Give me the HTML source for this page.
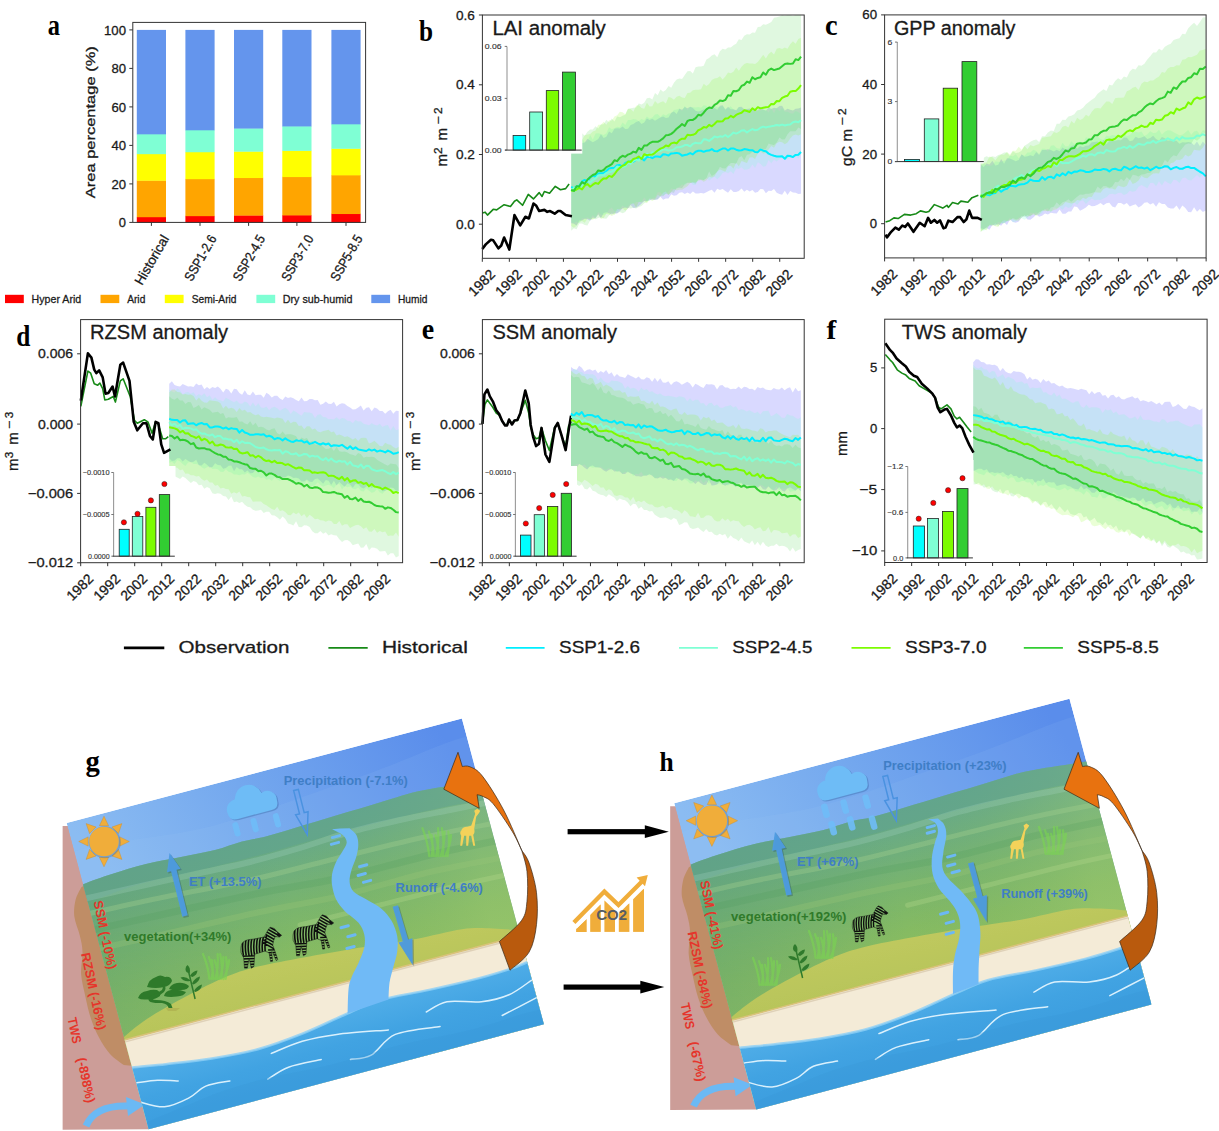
<!DOCTYPE html>
<html><head><meta charset="utf-8"><style>html,body{margin:0;padding:0;background:#fff;overflow:hidden}svg{display:block}</style></head>
<body><svg width="1219" height="1131" viewBox="0 0 1219 1131"><defs><clipPath id="zclip"><path d="M0.85,16.6 C4,13 8,12.6 12,12.4 L23,10.2 L27,3 L29,0.4 L33.3,1.7 L36,5 L40.5,8.5 L38.4,10.2 L34.1,9.8 L32.5,14 L31.6,18.3 L33,22 L36.7,32.8 L35,33.6 L31.5,25.5 L30.5,25 L31.5,34.5 L29.5,34.8 L28,26 L23.9,24.3 L13.6,27.4 L12.8,39.7 L10.2,41.4 L8,31.5 L6.2,41.4 L3.4,41.4 L2.6,31.1 L0,26 C-0.5,22 0,19 0.85,16.6 Z"/></clipPath>

<linearGradient id="skyG" gradientUnits="userSpaceOnUse" x1="120" y1="900" x2="420" y2="700">
  <stop offset="0" stop-color="#8bbcf2"/><stop offset="0.45" stop-color="#74a8ee"/><stop offset="1" stop-color="#5a8deb"/></linearGradient>
<linearGradient id="landG" gradientUnits="userSpaceOnUse" x1="250" y1="800" x2="302" y2="995">
  <stop offset="0" stop-color="#62a78f"/><stop offset="0.3" stop-color="#6aab84"/><stop offset="0.55" stop-color="#78b46e"/><stop offset="0.8" stop-color="#86bb62"/><stop offset="1" stop-color="#8fbf60"/></linearGradient>
<linearGradient id="landG2" gradientUnits="userSpaceOnUse" x1="100" y1="900" x2="480" y2="850">
  <stop offset="0" stop-color="#5f9f70" stop-opacity="0.35"/><stop offset="0.5" stop-color="#5f9f70" stop-opacity="0"/><stop offset="1" stop-color="#a8d080" stop-opacity="0.25"/></linearGradient>
<linearGradient id="yelG" gradientUnits="userSpaceOnUse" x1="200" y1="960" x2="215" y2="1030">
  <stop offset="0" stop-color="#c2ca60"/><stop offset="1" stop-color="#b6c45a"/></linearGradient>
<linearGradient id="waterG" gradientUnits="userSpaceOnUse" x1="330" y1="1000" x2="360" y2="1110">
  <stop offset="0" stop-color="#55b1ea"/><stop offset="0.4" stop-color="#41a3e2"/><stop offset="1" stop-color="#3697db"/></linearGradient>
<pattern id="zstripe" patternUnits="userSpaceOnUse" width="3" height="3" patternTransform="rotate(12)"><rect width="1.7" height="3" fill="#0d0d0d"/></pattern>
<clipPath id="picClip"><polygon points="66.6,823.1 461.9,718.5 543.9,1024.3 148.6,1129.3"/></clipPath>

<g id="bgPic" clip-path="url(#picClip)">
<polygon points="66.6,823.1 461.9,718.5 543.9,1024.3 148.6,1129.3" fill="url(#skyG)"/>
<path d="M74.3,852.1 C95.6,841.3 163.8,838.7 212.2,825.9 C260.5,813.1 320.0,790.4 364.3,775.2 C408.5,760.0 457.1,735.1 477.7,734.8 C498.3,734.5 505.1,760.3 487.9,773.5 C470.8,786.6 419.0,799.5 374.5,813.9 C330.1,828.3 269.5,846.9 221.1,859.7 C172.8,872.5 109.0,892.0 84.5,890.8 C60.1,889.5 53.0,862.9 74.3,852.1Z" fill="#a8d0f6" opacity="0.10"/>
<path d="M76.0,890.0 C77.3,889.0 78.0,886.7 84.0,884.0 C90.0,881.3 101.7,877.3 112.0,874.0 C122.3,870.7 134.5,866.8 146.0,864.0 C157.5,861.2 169.5,859.3 181.0,857.0 C192.5,854.7 204.8,852.6 215.0,850.0 C225.2,847.4 233.8,843.7 242.0,841.5 C250.2,839.3 256.8,838.8 264.0,837.0 C271.2,835.2 278.0,833.1 285.0,831.0 C292.0,828.9 299.0,826.7 306.0,824.6 C313.0,822.5 319.9,820.3 327.0,818.2 C334.1,816.1 341.3,813.9 348.5,811.8 C355.7,809.7 362.9,807.6 370.0,805.5 C377.1,803.4 384.0,801.2 391.0,799.1 C398.0,797.0 405.0,794.5 412.0,792.7 C419.0,790.9 425.7,789.8 433.0,788.5 C440.3,787.2 448.2,786.2 456.0,785.0 C463.8,783.8 473.5,782.2 480.0,781.0 C486.5,779.8 492.5,778.5 495.0,778.0 L600,786 L600,1200 L50,1200 Z" fill="url(#landG)"/>
<path d="M76.0,890.0 C77.3,889.0 78.0,886.7 84.0,884.0 C90.0,881.3 101.7,877.3 112.0,874.0 C122.3,870.7 134.5,866.8 146.0,864.0 C157.5,861.2 169.5,859.3 181.0,857.0 C192.5,854.7 204.8,852.6 215.0,850.0 C225.2,847.4 233.8,843.7 242.0,841.5 C250.2,839.3 256.8,838.8 264.0,837.0 C271.2,835.2 278.0,833.1 285.0,831.0 C292.0,828.9 299.0,826.7 306.0,824.6 C313.0,822.5 319.9,820.3 327.0,818.2 C334.1,816.1 341.3,813.9 348.5,811.8 C355.7,809.7 362.9,807.6 370.0,805.5 C377.1,803.4 384.0,801.2 391.0,799.1 C398.0,797.0 405.0,794.5 412.0,792.7 C419.0,790.9 425.7,789.8 433.0,788.5 C440.3,787.2 448.2,786.2 456.0,785.0 C463.8,783.8 473.5,782.2 480.0,781.0 C486.5,779.8 492.5,778.5 495.0,778.0 L600,786 L600,1200 L50,1200 Z" fill="url(#landG2)"/>
<path d="M76.0,890.0 C77.3,886.5 78.0,886.7 84.0,884.0 C90.0,881.3 101.7,877.3 112.0,874.0 C122.3,870.7 134.5,866.8 146.0,864.0 C157.5,861.2 169.5,859.3 181.0,857.0 C192.5,854.7 204.8,852.6 215.0,850.0 C225.2,847.4 233.8,843.7 242.0,841.5 C250.2,839.3 256.8,838.8 264.0,837.0 C271.2,835.2 278.0,833.1 285.0,831.0 C292.0,828.9 299.0,826.7 306.0,824.6 C313.0,822.5 319.9,820.3 327.0,818.2 C334.1,816.1 341.3,813.9 348.5,811.8 C355.7,809.7 362.9,807.6 370.0,805.5 C377.1,803.4 384.0,801.2 391.0,799.1 C398.0,797.0 405.0,794.5 412.0,792.7 C419.0,790.9 425.7,789.8 433.0,788.5 C440.3,787.2 448.2,786.2 456.0,785.0 C463.8,783.8 473.5,782.2 480.0,781.0 C486.5,779.8 492.5,775.5 495.0,778.0 C497.5,780.5 504.2,791.0 495.0,796.0 C485.8,801.0 459.2,803.7 440.0,808.0 C420.8,812.3 400.0,817.0 380.0,822.0 C360.0,827.0 340.0,832.5 320.0,838.0 C300.0,843.5 280.0,849.7 260.0,855.0 C240.0,860.3 220.0,865.2 200.0,870.0 C180.0,874.8 160.7,878.2 140.0,884.0 C119.3,889.8 86.7,904.0 76.0,905.0 C65.3,906.0 74.7,893.5 76.0,890.0Z" fill="#5d9f93" opacity="0.45"/>
<path d="M70.0,902.0 C76.7,900.5 96.7,896.0 110.0,893.0 C123.3,890.0 135.0,887.3 150.0,884.0 C165.0,880.7 183.3,876.7 200.0,873.0 C216.7,869.3 233.3,866.2 250.0,862.0 C266.7,857.8 283.3,853.0 300.0,848.0 C316.7,843.0 333.3,836.7 350.0,832.0 C366.7,827.3 383.3,823.7 400.0,820.0 C416.7,816.3 433.3,813.3 450.0,810.0 C466.7,806.7 491.7,801.7 500.0,800.0" fill="none" stroke="#b8e0d0" stroke-width="6" opacity="0.22" stroke-linecap="round"/>
<path d="M70.0,918.0 C83.3,915.0 120.0,906.3 150.0,900.0 C180.0,893.7 220.0,886.7 250.0,880.0 C280.0,873.3 301.7,867.0 330.0,860.0 C358.3,853.0 391.7,844.3 420.0,838.0 C448.3,831.7 486.7,824.7 500.0,822.0" fill="none" stroke="#a6d08e" stroke-width="5" opacity="0.35" stroke-linecap="round"/>
<path d="M70.0,955.0 C85.0,951.7 128.3,942.2 160.0,935.0 C191.7,927.8 230.0,918.5 260.0,912.0 C290.0,905.5 311.7,902.7 340.0,896.0 C368.3,889.3 403.3,878.3 430.0,872.0 C456.7,865.7 488.3,860.3 500.0,858.0" fill="none" stroke="#9cc878" stroke-width="6" opacity="0.30" stroke-linecap="round"/>
<path d="M300.0,925.0 C313.3,921.7 353.3,911.7 380.0,905.0 C406.7,898.3 436.7,890.5 460.0,885.0 C483.3,879.5 510.0,874.2 520.0,872.0" fill="none" stroke="#b2d88a" stroke-width="5" opacity="0.35" stroke-linecap="round"/>
<path d="M70.0,935.0 C85.0,931.7 128.3,922.0 160.0,915.0 C191.7,908.0 230.0,899.2 260.0,893.0 C290.0,886.8 311.7,884.3 340.0,878.0 C368.3,871.7 401.7,861.7 430.0,855.0 C458.3,848.3 496.7,840.8 510.0,838.0" fill="none" stroke="#4f9a5a" stroke-width="7" opacity="0.22" stroke-linecap="round"/>
<path d="M118.0,1042.0 C122.2,1038.6 133.1,1028.5 143.0,1021.7 C152.9,1014.9 164.0,1008.3 177.4,1001.0 C190.8,993.7 210.0,983.7 223.4,978.0 C236.8,972.3 244.4,970.0 257.8,966.6 C271.2,963.2 288.4,960.3 303.7,957.4 C319.0,954.5 336.5,951.6 349.7,949.4 C362.9,947.2 371.9,945.7 383.0,944.0 C394.1,942.3 402.8,941.5 416.0,939.0 C429.2,936.5 449.2,931.0 462.0,929.2 C474.8,927.4 482.5,928.1 493.0,928.4 C503.5,928.7 519.7,930.6 525.0,931.0 L540,931 L540,1060 L100,1060 Z" fill="url(#yelG)"/>
<polygon points="100.0,1046.4 560.0,925.2 600.0,1200.0 50.0,1200.0" fill="#f4ebd7"/>
<line x1="100" y1="1046.4" x2="560" y2="925.2" stroke="#d9c27a" stroke-width="1.6"/>
<line x1="100" y1="1048.4" x2="560" y2="927.2" stroke="#c9b89a" stroke-width="1.5" opacity="0.5"/>
<path d="M110.0,1071.0 C113.6,1070.5 122.2,1068.8 131.5,1067.7 C140.8,1066.6 152.5,1065.7 165.9,1064.2 C179.3,1062.7 196.6,1061.0 211.9,1058.5 C227.2,1056.0 242.5,1053.5 257.8,1049.3 C273.1,1045.1 288.4,1039.3 303.7,1033.2 C319.0,1027.1 337.0,1018.0 349.7,1012.5 C362.4,1007.0 366.8,1003.8 380.0,1000.0 C393.2,996.2 412.8,993.5 429.2,989.9 C445.6,986.3 464.7,981.9 478.4,978.4 C492.1,974.9 503.1,971.3 511.3,968.6 C519.5,965.9 519.6,965.1 527.7,962.0 C535.8,958.9 554.6,952.0 560.0,950.0 L600,950 L600,1200 L50,1200 Z" fill="url(#waterG)"/>
<path d="M110.0,1071.0 C113.6,1070.5 122.2,1068.8 131.5,1067.7 C140.8,1066.6 152.5,1065.7 165.9,1064.2 C179.3,1062.7 196.6,1061.0 211.9,1058.5 C227.2,1056.0 242.5,1053.5 257.8,1049.3 C273.1,1045.1 288.4,1039.3 303.7,1033.2 C319.0,1027.1 337.0,1018.0 349.7,1012.5 C362.4,1007.0 366.8,1003.8 380.0,1000.0 C393.2,996.2 412.8,993.5 429.2,989.9 C445.6,986.3 464.7,981.9 478.4,978.4 C492.1,974.9 503.1,971.3 511.3,968.6 C519.5,965.9 519.6,965.1 527.7,962.0 C535.8,958.9 554.6,952.0 560.0,950.0" fill="none" stroke="#8dd0f6" stroke-width="2.5" opacity="0.8"/>
<path d="M138.6,1101.6 C142.9,1102.5 156.2,1107.4 164.5,1106.8 C172.8,1106.2 181.7,1101.7 188.6,1098.2 C195.5,1094.8 198.9,1089.0 205.8,1086.1 C212.7,1083.2 225.9,1081.8 229.9,1080.9" fill="none" stroke="#eaf8ff" stroke-width="1.5" opacity="0.9" stroke-linecap="round"/>
<path d="M136.9,1082.7 C140.3,1082.3 150.7,1080.6 157.6,1080.3 C164.5,1080.0 174.8,1080.8 178.2,1080.9" fill="none" stroke="#eaf8ff" stroke-width="1.5" opacity="0.9" stroke-linecap="round"/>
<path d="M267.8,1079.2 C271.2,1077.2 279.6,1070.5 288.5,1067.2 C297.4,1063.9 315.8,1060.9 321.2,1059.6" fill="none" stroke="#eaf8ff" stroke-width="1.5" opacity="0.9" stroke-linecap="round"/>
<path d="M271.3,1053.4 C276.5,1051.4 291.4,1044.5 302.3,1041.3 C313.2,1038.1 322.5,1036.3 336.8,1034.4 C351.1,1032.5 379.8,1030.7 388.4,1029.9" fill="none" stroke="#eaf8ff" stroke-width="1.5" opacity="0.9" stroke-linecap="round"/>
<path d="M350.5,1059.6 C353.9,1058.8 363.7,1059.3 371.2,1055.1 C378.7,1050.9 383.8,1039.2 395.3,1034.4 C406.8,1029.6 432.6,1027.8 440.1,1026.5" fill="none" stroke="#eaf8ff" stroke-width="1.5" opacity="0.9" stroke-linecap="round"/>
<path d="M426.3,1012.0 C429.8,1010.3 437.8,1003.4 447.0,1001.7 C456.2,1000.0 471.2,1002.9 481.5,1001.7 C491.8,1000.6 500.7,998.4 509.0,994.8 C517.3,991.2 527.7,982.7 531.4,980.3" fill="none" stroke="#eaf8ff" stroke-width="1.5" opacity="0.9" stroke-linecap="round"/>
<path d="M502.2,1015.5 C507.9,1012.5 530.9,1000.6 536.6,997.6" fill="none" stroke="#eaf8ff" stroke-width="1.5" opacity="0.9" stroke-linecap="round"/>
<path d="M200.0,1100.0 C218.3,1091.8 238.3,1085.8 260.0,1080.0 C281.7,1074.2 306.7,1070.8 330.0,1065.0 C353.3,1059.2 376.7,1050.8 400.0,1045.0 C423.3,1039.2 446.7,1035.8 470.0,1030.0 C493.3,1024.2 527.5,1011.0 540.0,1010.0 C552.5,1009.0 610.0,1004.2 545.0,1024.0 C480.0,1043.8 207.5,1116.3 150.0,1129.0 C92.5,1141.7 181.7,1108.2 200.0,1100.0Z" fill="#3a98d8" opacity="0.35"/>
</g></defs>
<rect width="1219" height="1131" fill="#fff"/>
<rect x="136.8" y="216.91" width="29.2" height="5.79" fill="#ff0000" />
<rect x="136.8" y="180.44" width="29.2" height="36.78" fill="#ffa500" />
<rect x="136.8" y="153.87" width="29.2" height="26.86" fill="#ffff00" />
<rect x="136.8" y="134.04" width="29.2" height="20.13" fill="#7fffd4" />
<rect x="136.8" y="29.9" width="29.2" height="104.44" fill="#6495ed" />
<rect x="185.4" y="215.86" width="29.2" height="6.84" fill="#ff0000" />
<rect x="185.4" y="178.9" width="29.2" height="37.26" fill="#ffa500" />
<rect x="185.4" y="151.94" width="29.2" height="27.25" fill="#ffff00" />
<rect x="185.4" y="130" width="29.2" height="22.24" fill="#7fffd4" />
<rect x="185.4" y="29.9" width="29.2" height="100.4" fill="#6495ed" />
<rect x="234" y="215.28" width="29.2" height="7.42" fill="#ff0000" />
<rect x="234" y="177.74" width="29.2" height="37.84" fill="#ffa500" />
<rect x="234" y="151.37" width="29.2" height="26.67" fill="#ffff00" />
<rect x="234" y="128.27" width="29.2" height="23.4" fill="#7fffd4" />
<rect x="234" y="29.9" width="29.2" height="98.67" fill="#6495ed" />
<rect x="282.3" y="215.09" width="29.2" height="7.61" fill="#ff0000" />
<rect x="282.3" y="176.78" width="29.2" height="38.61" fill="#ffa500" />
<rect x="282.3" y="150.6" width="29.2" height="26.48" fill="#ffff00" />
<rect x="282.3" y="126.15" width="29.2" height="24.75" fill="#7fffd4" />
<rect x="282.3" y="29.9" width="29.2" height="96.55" fill="#6495ed" />
<rect x="331.4" y="213.74" width="29.2" height="8.96" fill="#ff0000" />
<rect x="331.4" y="175.05" width="29.2" height="38.99" fill="#ffa500" />
<rect x="331.4" y="148.48" width="29.2" height="26.86" fill="#ffff00" />
<rect x="331.4" y="124.03" width="29.2" height="24.75" fill="#7fffd4" />
<rect x="331.4" y="29.9" width="29.2" height="94.43" fill="#6495ed" />
<rect x="132.8" y="22.4" width="232.8" height="200.0" fill="none" stroke="#333" stroke-width="1"/>
<line x1="129.3" y1="222.4" x2="132.8" y2="222.4" stroke="#333" stroke-width="1"/>
<text x="126" y="227" font-family="Liberation Sans, sans-serif" font-size="13" fill="#1a1a1a" stroke="#1a1a1a" stroke-width="0.3" text-anchor="end" textLength="7.2" lengthAdjust="spacingAndGlyphs">0</text>
<line x1="129.3" y1="183.9" x2="132.8" y2="183.9" stroke="#333" stroke-width="1"/>
<text x="126" y="188.5" font-family="Liberation Sans, sans-serif" font-size="13" fill="#1a1a1a" stroke="#1a1a1a" stroke-width="0.3" text-anchor="end" textLength="14.6" lengthAdjust="spacingAndGlyphs">20</text>
<line x1="129.3" y1="145.4" x2="132.8" y2="145.4" stroke="#333" stroke-width="1"/>
<text x="126" y="150" font-family="Liberation Sans, sans-serif" font-size="13" fill="#1a1a1a" stroke="#1a1a1a" stroke-width="0.3" text-anchor="end" textLength="14.6" lengthAdjust="spacingAndGlyphs">40</text>
<line x1="129.3" y1="106.9" x2="132.8" y2="106.9" stroke="#333" stroke-width="1"/>
<text x="126" y="111.5" font-family="Liberation Sans, sans-serif" font-size="13" fill="#1a1a1a" stroke="#1a1a1a" stroke-width="0.3" text-anchor="end" textLength="14.6" lengthAdjust="spacingAndGlyphs">60</text>
<line x1="129.3" y1="68.4" x2="132.8" y2="68.4" stroke="#333" stroke-width="1"/>
<text x="126" y="73" font-family="Liberation Sans, sans-serif" font-size="13" fill="#1a1a1a" stroke="#1a1a1a" stroke-width="0.3" text-anchor="end" textLength="14.6" lengthAdjust="spacingAndGlyphs">80</text>
<line x1="129.3" y1="29.9" x2="132.8" y2="29.9" stroke="#333" stroke-width="1"/>
<text x="126" y="34.5" font-family="Liberation Sans, sans-serif" font-size="13" fill="#1a1a1a" stroke="#1a1a1a" stroke-width="0.3" text-anchor="end" textLength="22" lengthAdjust="spacingAndGlyphs">100</text>
<line x1="151.4" y1="222.4" x2="151.4" y2="225.9" stroke="#333" stroke-width="1"/>
<line x1="200" y1="222.4" x2="200" y2="225.9" stroke="#333" stroke-width="1"/>
<line x1="248.6" y1="222.4" x2="248.6" y2="225.9" stroke="#333" stroke-width="1"/>
<line x1="296.9" y1="222.4" x2="296.9" y2="225.9" stroke="#333" stroke-width="1"/>
<line x1="346" y1="222.4" x2="346" y2="225.9" stroke="#333" stroke-width="1"/>
<text x="169.55" y="238.4" font-family="Liberation Sans, sans-serif" font-size="13.5" fill="#1a1a1a" stroke="#1a1a1a" stroke-width="0.3" text-anchor="end" textLength="55" lengthAdjust="spacingAndGlyphs" transform="rotate(-60 169.55 238.4)">Historical</text>
<text x="217.03" y="238.4" font-family="Liberation Sans, sans-serif" font-size="13.5" fill="#1a1a1a" stroke="#1a1a1a" stroke-width="0.3" text-anchor="end" textLength="50.5" lengthAdjust="spacingAndGlyphs" transform="rotate(-60 217.03 238.4)">SSP1-2.6</text>
<text x="265.62" y="238.4" font-family="Liberation Sans, sans-serif" font-size="13.5" fill="#1a1a1a" stroke="#1a1a1a" stroke-width="0.3" text-anchor="end" textLength="50.5" lengthAdjust="spacingAndGlyphs" transform="rotate(-60 265.62 238.4)">SSP2-4.5</text>
<text x="313.93" y="238.4" font-family="Liberation Sans, sans-serif" font-size="13.5" fill="#1a1a1a" stroke="#1a1a1a" stroke-width="0.3" text-anchor="end" textLength="50.5" lengthAdjust="spacingAndGlyphs" transform="rotate(-60 313.93 238.4)">SSP3-7.0</text>
<text x="363.03" y="238.4" font-family="Liberation Sans, sans-serif" font-size="13.5" fill="#1a1a1a" stroke="#1a1a1a" stroke-width="0.3" text-anchor="end" textLength="50.5" lengthAdjust="spacingAndGlyphs" transform="rotate(-60 363.03 238.4)">SSP5-8.5</text>
<text x="95.5" y="198.2" font-family="Liberation Sans, sans-serif" font-size="13.5" fill="#1a1a1a" stroke="#1a1a1a" stroke-width="0.3" textLength="152" lengthAdjust="spacingAndGlyphs" transform="rotate(-90 95.5 198.2)">Area percentage (%)</text>
<rect x="5" y="294.8" width="18.8" height="8.3" fill="#ff0000" />
<text x="31.6" y="303.4" font-family="Liberation Sans, sans-serif" font-size="11.8" fill="#1a1a1a" stroke="#1a1a1a" stroke-width="0.3" textLength="49.6" lengthAdjust="spacingAndGlyphs">Hyper Arid</text>
<rect x="100.5" y="294.8" width="18.8" height="8.3" fill="#ffa500" />
<text x="127.2" y="303.4" font-family="Liberation Sans, sans-serif" font-size="11.8" fill="#1a1a1a" stroke="#1a1a1a" stroke-width="0.3" textLength="18.1" lengthAdjust="spacingAndGlyphs">Arid</text>
<rect x="164.8" y="294.8" width="18.8" height="8.3" fill="#ffff00" />
<text x="191.7" y="303.4" font-family="Liberation Sans, sans-serif" font-size="11.8" fill="#1a1a1a" stroke="#1a1a1a" stroke-width="0.3" textLength="44.8" lengthAdjust="spacingAndGlyphs">Semi-Arid</text>
<rect x="256.4" y="294.8" width="18.8" height="8.3" fill="#7fffd4" />
<text x="282.8" y="303.4" font-family="Liberation Sans, sans-serif" font-size="11.8" fill="#1a1a1a" stroke="#1a1a1a" stroke-width="0.3" textLength="69.6" lengthAdjust="spacingAndGlyphs">Dry sub-humid</text>
<rect x="371.3" y="294.8" width="18.8" height="8.3" fill="#6495ed" />
<text x="398" y="303.4" font-family="Liberation Sans, sans-serif" font-size="11.8" fill="#1a1a1a" stroke="#1a1a1a" stroke-width="0.3" textLength="29.4" lengthAdjust="spacingAndGlyphs">Humid</text>
<polygon points="571.2,145.65 573.9,143.69 576.61,145.35 579.31,145.92 582.02,143.09 584.72,142.48 587.42,138.64 590.13,140.49 592.83,142.21 595.54,140.66 598.24,138.94 600.94,134.21 603.65,137.92 606.35,136.7 609.06,131.54 611.76,133.35 614.46,128.67 617.17,128.25 619.87,128.44 622.58,126.49 625.28,129.1 627.98,128.64 630.69,124.99 633.39,124.02 636.1,121.97 638.8,120.99 641.5,123.95 644.21,122.46 646.91,118.39 649.62,120.12 652.32,118.84 655.02,120.71 657.73,119.12 660.43,117.61 663.14,116.5 665.84,118.07 668.54,117.48 671.25,112.78 673.95,111.38 676.66,113.91 679.36,108.7 682.06,109.7 684.77,107.12 687.47,108.31 690.18,106.72 692.88,107.95 695.58,110.86 698.29,111.46 700.99,110.7 703.7,109.22 706.4,109.46 709.1,107.84 711.81,106.59 714.51,108.11 717.22,109.8 719.92,105.69 722.62,105.34 725.33,109.75 728.03,106.84 730.74,109.16 733.44,109.27 736.14,110.37 738.85,107.08 741.55,106.74 744.26,109.34 746.96,109.07 749.66,108.49 752.37,109.54 755.07,108.63 757.78,110.61 760.48,106.97 763.18,109.49 765.89,110.86 768.59,107.26 771.3,109.02 774,107.64 776.7,108.31 779.41,106.09 782.11,105.85 784.82,110.39 787.52,108.65 790.22,109.76 792.93,110.56 795.63,108.73 798.34,108.52 801.04,107.43 801.04,193.85 798.34,194.01 795.63,192.69 792.93,192.44 790.22,191.07 787.52,194.96 784.82,190.79 782.11,194.81 779.41,194.06 776.7,192.85 774,189.1 771.3,190.94 768.59,190.65 765.89,193.37 763.18,189.15 760.48,188.89 757.78,191.9 755.07,192.68 752.37,190.07 749.66,191.55 746.96,189.72 744.26,191.81 741.55,188.45 738.85,191.07 736.14,191.95 733.44,192.08 730.74,189.31 728.03,192.75 725.33,191.07 722.62,189 719.92,190.11 717.22,188.63 714.51,192.8 711.81,189.81 709.1,190.79 706.4,192.35 703.7,193.57 700.99,193.07 698.29,193.58 695.58,193.49 692.88,191.55 690.18,194.09 687.47,192.39 684.77,193.93 682.06,192.25 679.36,192.83 676.66,195.14 673.95,195.64 671.25,194.28 668.54,198.49 665.84,198.47 663.14,199.63 660.43,196.86 657.73,199.54 655.02,199.76 652.32,199.68 649.62,200.14 646.91,200.95 644.21,200.89 641.5,203.7 638.8,205.89 636.1,207.52 633.39,207.89 630.69,205.11 627.98,208.49 625.28,207.38 622.58,208.14 619.87,211.29 617.17,213.46 614.46,213.09 611.76,214.62 609.06,213.31 606.35,212.31 603.65,212.94 600.94,218.25 598.24,214.36 595.54,218.35 592.83,217.59 590.13,220.63 587.42,219.36 584.72,218.75 582.02,220.59 579.31,220.38 576.61,225.48 573.9,223.79 571.2,223.25" fill="#0000ff" fill-opacity="0.15"/>
<polygon points="571.2,143.48 573.9,145.9 576.61,141.93 579.31,142.45 582.02,138.24 584.72,142.56 587.42,141.35 590.13,135.05 592.83,139.49 595.54,133.47 598.24,133.24 600.94,134.08 603.65,135 606.35,133.35 609.06,127.15 611.76,129.16 614.46,128.24 617.17,126.74 619.87,127.34 622.58,122.59 625.28,125.11 627.98,119.93 630.69,119.89 633.39,119.06 636.1,119.5 638.8,120.95 641.5,119.02 644.21,120.37 646.91,116.49 649.62,118.43 652.32,117.53 655.02,114.56 657.73,113.88 660.43,117.02 663.14,114.18 665.84,115.41 668.54,113.59 671.25,113.22 673.95,109.98 676.66,109.53 679.36,108.51 682.06,111.35 684.77,105.73 687.47,110.28 690.18,107.11 692.88,107.23 695.58,107.56 698.29,107.11 700.99,107.75 703.7,105.26 706.4,105.64 709.1,109.62 711.81,109.14 714.51,105.58 717.22,107.3 719.92,106.91 722.62,106.01 725.33,108.91 728.03,108.36 730.74,106.24 733.44,109.47 736.14,110.95 738.85,106.9 741.55,107.97 744.26,110.25 746.96,109.45 749.66,109.63 752.37,109.45 755.07,112.15 757.78,110.51 760.48,110.6 763.18,109.74 765.89,110.05 768.59,112.6 771.3,108.61 774,113.13 776.7,108 779.41,111.22 782.11,107.93 784.82,111.84 787.52,111.77 790.22,113.21 792.93,113.78 795.63,110.9 798.34,112.35 801.04,113.97 801.04,154.42 798.34,158.81 795.63,156.01 792.93,157.7 790.22,158.05 787.52,159.24 784.82,159.41 782.11,157.91 779.41,159 776.7,161.53 774,159.69 771.3,163.32 768.59,160 765.89,166.09 763.18,166.74 760.48,163.75 757.78,162.21 755.07,167.91 752.37,164.41 749.66,168.39 746.96,169.47 744.26,169.64 741.55,167.34 738.85,168.72 736.14,168.17 733.44,173.93 730.74,171.15 728.03,173.32 725.33,171.9 722.62,173.02 719.92,176.77 717.22,179.22 714.51,176.8 711.81,178.6 709.1,180.45 706.4,177.76 703.7,180.22 700.99,178.97 698.29,179.76 695.58,184.91 692.88,184.74 690.18,181.71 687.47,182.83 684.77,185.72 682.06,184.27 679.36,186.76 676.66,188.89 673.95,189.6 671.25,188.37 668.54,191.55 665.84,193.87 663.14,195.55 660.43,192.27 657.73,192.28 655.02,197.78 652.32,197.97 649.62,200.74 646.91,201.25 644.21,197.28 641.5,201.73 638.8,201.92 636.1,201.88 633.39,203.91 630.69,203.44 627.98,206.15 625.28,207.53 622.58,205.61 619.87,208.93 617.17,211.37 614.46,211.16 611.76,207.46 609.06,209.46 606.35,213.7 603.65,215.01 600.94,214.4 598.24,212 595.54,217.71 592.83,215.06 590.13,218.78 587.42,217.16 584.72,218.47 582.02,218.37 579.31,223.4 576.61,221.67 573.9,222.93 571.2,222.2" fill="#7fffd4" fill-opacity="0.22"/>
<polygon points="571.2,145.18 573.9,140.34 576.61,142.26 579.31,141.5 582.02,139.94 584.72,135.22 587.42,134.56 590.13,133.95 592.83,131.55 595.54,130.43 598.24,124.7 600.94,124.68 603.65,121.64 606.35,124.83 609.06,120.32 611.76,120.56 614.46,116.42 617.17,115.36 619.87,111.73 622.58,112.22 625.28,114.16 627.98,109.05 630.69,108.94 633.39,111.81 636.1,105.77 638.8,105.25 641.5,107.92 644.21,108.66 646.91,102.75 649.62,106.46 652.32,106.13 655.02,100.99 657.73,103.75 660.43,102.15 663.14,101.25 665.84,103.38 668.54,96.93 671.25,97.69 673.95,99.76 676.66,96.71 679.36,95.71 682.06,97.5 684.77,98.11 687.47,92.91 690.18,92.84 692.88,90.25 695.58,89.66 698.29,89.66 700.99,89.31 703.7,83.73 706.4,86.09 709.1,83.91 711.81,80.1 714.51,78.51 717.22,78.04 719.92,76.13 722.62,79.42 725.33,76.59 728.03,72.59 730.74,73.22 733.44,71.8 736.14,67.54 738.85,70.79 741.55,66.83 744.26,63.92 746.96,62.88 749.66,63.42 752.37,63.5 755.07,63.88 757.78,61.96 760.48,58.45 763.18,54.84 765.89,58.43 768.59,53.88 771.3,51.79 774,54.41 776.7,48.74 779.41,48.09 782.11,48.99 784.82,47.54 787.52,48.66 790.22,44.37 792.93,41.17 795.63,43.7 798.34,39.09 801.04,37.68 801.04,134.14 798.34,135.61 795.63,134.47 792.93,135.57 790.22,138.62 787.52,142.41 784.82,144.35 782.11,142.3 779.41,141.85 776.7,143.33 774,147.87 771.3,146.05 768.59,149.46 765.89,153.12 763.18,153.48 760.48,151.85 757.78,153.39 755.07,159.1 752.37,157.27 749.66,157.4 746.96,162.88 744.26,162.09 741.55,160.98 738.85,166.24 736.14,162.69 733.44,168.59 730.74,165.64 728.03,166.31 725.33,171.87 722.62,170.57 719.92,169.42 717.22,171.51 714.51,176.25 711.81,177.38 709.1,176.67 706.4,180.21 703.7,181.71 700.99,180.04 698.29,180.7 695.58,182.53 692.88,182.1 690.18,182.9 687.47,186.35 684.77,188.06 682.06,189.76 679.36,189.64 676.66,190.38 673.95,189.06 671.25,191.87 668.54,195.06 665.84,191.53 663.14,192.83 660.43,196.62 657.73,194.75 655.02,199.34 652.32,200.99 649.62,199.58 646.91,203.22 644.21,201.07 641.5,202.52 638.8,201.83 636.1,207.62 633.39,202.96 630.69,204.61 627.98,208.7 625.28,210.87 622.58,208.51 619.87,209.4 617.17,208.88 614.46,214.41 611.76,216.06 609.06,214.58 606.35,213.7 603.65,218.05 600.94,218.9 598.24,214.46 595.54,217.77 592.83,219.86 590.13,219.35 587.42,218.85 584.72,222.82 582.02,220.88 579.31,222.1 576.61,225.85 573.9,227.79 571.2,226.06" fill="#7cfc00" fill-opacity="0.16"/>
<polygon points="571.2,139.6 573.9,139.87 576.61,139.16 579.31,132.7 582.02,133.22 584.72,135.82 587.42,131.87 590.13,129.41 592.83,129.45 595.54,126.26 598.24,128.48 600.94,124.41 603.65,124.3 606.35,119.81 609.06,122.53 611.76,118.46 614.46,121.39 617.17,116.5 619.87,117.22 622.58,115.74 625.28,114.84 627.98,108.73 630.69,108.33 633.39,107.83 636.1,107.47 638.8,103.44 641.5,104.55 644.21,102.74 646.91,98.35 649.62,97.64 652.32,99.49 655.02,93.12 657.73,95.34 660.43,89.43 663.14,91.64 665.84,89.9 668.54,86.09 671.25,87.79 673.95,82.75 676.66,79.38 679.36,78.54 682.06,78.92 684.77,74.97 687.47,71.34 690.18,71.12 692.88,73.41 695.58,67.35 698.29,66.59 700.99,66.43 703.7,65.87 706.4,59.46 709.1,57.88 711.81,55.6 714.51,54.25 717.22,57.27 719.92,51.15 722.62,48.71 725.33,49.44 728.03,47.54 730.74,47.59 733.44,45.29 736.14,43.67 738.85,39.22 741.55,39.93 744.26,35.8 746.96,34.34 749.66,34.43 752.37,32.62 755.07,32.76 757.78,27.11 760.48,26.65 763.18,24.28 765.89,24.64 768.59,23.38 771.3,22.05 774,17.81 776.7,17.34 779.41,16.46 782.11,15 784.82,15.73 787.52,15 790.22,15 792.93,16.07 795.63,15 798.34,15 801.04,15 801.04,128.9 798.34,127.5 795.63,131.34 792.93,131.37 790.22,131.24 787.52,134.29 784.82,139.33 782.11,139.62 779.41,137.39 776.7,142.49 774,144.94 771.3,144.47 768.59,143.62 765.89,148.64 763.18,149.86 760.48,147.77 757.78,151.45 755.07,152.5 752.37,151.87 749.66,154.37 746.96,154.85 744.26,160.18 741.55,155.95 738.85,157.76 736.14,163.66 733.44,162.95 730.74,163.1 728.03,165.67 725.33,168.53 722.62,168.36 719.92,166.81 717.22,171.73 714.51,174.17 711.81,175.97 709.1,171.46 706.4,178.26 703.7,180.04 700.99,179.79 698.29,179.13 695.58,183.63 692.88,182.63 690.18,183.1 687.47,182.64 684.77,184 682.06,187.97 679.36,187.72 676.66,187.78 673.95,192.64 671.25,192.27 668.54,194.74 665.84,193.71 663.14,196.34 660.43,196.09 657.73,199.03 655.02,199.89 652.32,199.04 649.62,198.57 646.91,201.97 644.21,203.22 641.5,206.1 638.8,206.89 636.1,208.44 633.39,207.78 630.69,208.56 627.98,207.69 625.28,212 622.58,213.2 619.87,212 617.17,213.01 614.46,214.57 611.76,212.93 609.06,215.55 606.35,218.65 603.65,218.41 600.94,217.25 598.24,217.88 595.54,219.16 592.83,218.57 590.13,220.55 587.42,225.54 584.72,224.9 582.02,223.53 579.31,223.58 576.61,229.16 573.9,228.26 571.2,230.73" fill="#32cd32" fill-opacity="0.15"/>
<rect x="483.5" y="38" width="98.8" height="115.6" fill="#fff" />
<polyline points="482.3,212.99 485.17,212.18 487.47,215.06 493.22,209.31 496.67,209.89 504.14,204.71 510.46,206.44 514.48,201.26 516.78,199.89 522.53,205.29 528.28,194.37 533.45,198.97 539.2,192.64 542.07,196.44 544.37,191.49 549.54,193.22 555.29,186.32 560.46,189.77 565.63,188.62 569.08,184.02" fill="none" stroke="#178a17" stroke-width="1.6" stroke-linejoin="round" />
<polyline points="482.3,248.97 485.75,244.37 490.92,239.77 493.22,240.34 498.39,248.39 501.26,245.52 504.14,237.47 509.31,249.54 514.48,215.06 520.23,225.4 525.4,216.78 528.85,218.51 533.45,203.56 536.32,205.86 539.2,211.03 544.37,209.89 547.24,211.84 550.11,211.03 554.71,213.68 558.16,211.03 560.46,211.03 565.63,215.06 571.95,216.21" fill="none" stroke="#000" stroke-width="2.6" stroke-linejoin="round" />
<polyline points="571.2,186.89 573.9,188.31 576.61,186.29 579.31,185.88 582.02,181.49 584.72,179.93 587.42,181.75 590.13,177.12 592.83,175.87 595.54,176.47 598.24,173.38 600.94,173.28 603.65,173.15 606.35,171.01 609.06,168.38 611.76,167.9 614.46,167.83 617.17,165.21 619.87,165.07 622.58,166.57 625.28,162.85 627.98,161.71 630.69,161.18 633.39,161.78 636.1,159.62 638.8,158.31 641.5,158.23 644.21,160.41 646.91,156.89 649.62,156.76 652.32,158.19 655.02,156.61 657.73,156.55 660.43,157.05 663.14,154.33 665.84,154.58 668.54,155.46 671.25,153.38 673.95,153.19 676.66,152.89 679.36,153.58 682.06,155.66 684.77,155.07 687.47,154.48 690.18,153.08 692.88,154.4 695.58,151.78 698.29,150.72 700.99,150.72 703.7,151.83 706.4,150.8 709.1,150.52 711.81,149.07 714.51,151.09 717.22,151.38 719.92,149.86 722.62,148.61 725.33,148.53 728.03,150.46 730.74,148.58 733.44,148.43 736.14,149.69 738.85,150.41 741.55,150.21 744.26,149.07 746.96,149.44 749.66,150.24 752.37,150.16 755.07,152.01 757.78,152.13 760.48,149.4 763.18,150.66 765.89,151.33 768.59,153.62 771.3,154.85 774,155.73 776.7,156.44 779.41,156.55 782.11,156.36 784.82,158.72 787.52,155.71 790.22,155.98 792.93,157.06 795.63,154.9 798.34,154.7 801.04,151.98" fill="none" stroke="#00eeff" stroke-width="2.0" stroke-linejoin="round" />
<polyline points="571.2,191.19 573.9,187.98 576.61,187.43 579.31,187.76 582.02,185.62 584.72,184.66 587.42,180.53 590.13,182.57 592.83,180.02 595.54,178.69 598.24,175.4 600.94,175.14 603.65,175.14 606.35,173.01 609.06,172.23 611.76,171.62 614.46,169.95 617.17,166.57 619.87,167.4 622.58,167.01 625.28,166.37 627.98,161.88 630.69,163.9 633.39,160.92 636.1,159.66 638.8,160.64 641.5,156.07 644.21,157.04 646.91,153.94 649.62,155.86 652.32,152.08 655.02,153.41 657.73,151.26 660.43,151.15 663.14,149.42 665.84,149.52 668.54,150.59 671.25,150.34 673.95,149.31 676.66,147.17 679.36,147.16 682.06,146.6 684.77,145.02 687.47,145.01 690.18,146.42 692.88,143.81 695.58,142.72 698.29,143.36 700.99,143.23 703.7,139.2 706.4,139.58 709.1,140.9 711.81,138.9 714.51,136.42 717.22,137.4 719.92,136.36 722.62,136.78 725.33,134.99 728.03,137.05 730.74,134.94 733.44,132.57 736.14,133.59 738.85,132.4 741.55,130.48 744.26,130.27 746.96,132.48 749.66,130.51 752.37,129.05 755.07,130.22 757.78,129.74 760.48,127.72 763.18,126.62 765.89,127.45 768.59,126.66 771.3,126.27 774,125.71 776.7,124.92 779.41,125.51 782.11,124.57 784.82,125.53 787.52,124.75 790.22,124.6 792.93,122.2 795.63,121.44 798.34,122.16 801.04,120.23" fill="none" stroke="#7fffd4" stroke-width="2.0" stroke-linejoin="round" />
<polyline points="571.2,190.78 573.9,190.61 576.61,189.48 579.31,187.9 582.02,189.36 584.72,185.65 587.42,184.01 590.13,186.76 592.83,184.7 595.54,182.95 598.24,183.88 600.94,180.62 603.65,178.39 606.35,178.5 609.06,175.9 611.76,176.92 614.46,174.26 617.17,170.46 619.87,167.83 622.58,165.78 625.28,164.61 627.98,161.6 630.69,162 633.39,158.97 636.1,158.1 638.8,156.51 641.5,158.89 644.21,154.2 646.91,155.27 649.62,154.65 652.32,154.54 655.02,152.84 657.73,150.55 660.43,148.66 663.14,147.65 665.84,145.44 668.54,146.24 671.25,143.42 673.95,142.58 676.66,143.41 679.36,140.15 682.06,138.71 684.77,138.84 687.47,134.77 690.18,135.18 692.88,134.86 695.58,133.68 698.29,130.2 700.99,129.11 703.7,127.08 706.4,127.63 709.1,124.82 711.81,126.3 714.51,124.01 717.22,121.16 719.92,121.41 722.62,121.24 725.33,118.43 728.03,118.31 730.74,115.87 733.44,117.36 736.14,114.93 738.85,113.65 741.55,112.78 744.26,110.18 746.96,111.02 749.66,111.95 752.37,108.25 755.07,110.21 757.78,107.16 760.48,108.36 763.18,107.85 765.89,107.35 768.59,106.86 771.3,103.91 774,104.17 776.7,100.99 779.41,101.14 782.11,97.95 784.82,96.51 787.52,95.79 790.22,91.69 792.93,91.07 795.63,91.11 798.34,88.54 801.04,85.19" fill="none" stroke="#7cfc00" stroke-width="2.0" stroke-linejoin="round" />
<polyline points="571.2,189.88 573.9,190.92 576.61,186.23 579.31,186.46 582.02,182.06 584.72,183.81 587.42,179.84 590.13,177.22 592.83,175.04 595.54,174 598.24,170.47 600.94,171.07 603.65,170.03 606.35,167.05 609.06,165.92 611.76,164.06 614.46,160.2 617.17,161.18 619.87,157.67 622.58,155.81 625.28,156.83 627.98,154.57 630.69,153.62 633.39,151.65 636.1,152.58 638.8,147.85 641.5,149.91 644.21,145.58 646.91,145.44 649.62,143.23 652.32,141.79 655.02,141.86 657.73,141.8 660.43,140.3 663.14,138.33 665.84,135.36 668.54,135.03 671.25,133.86 673.95,131.68 676.66,128.72 679.36,126.66 682.06,124.06 684.77,125.95 687.47,120.99 690.18,119.88 692.88,119.94 695.58,118.11 698.29,114.79 700.99,115.48 703.7,112.7 706.4,109.34 709.1,107.54 711.81,108.05 714.51,104.76 717.22,103.32 719.92,100.54 722.62,101.07 725.33,99.92 728.03,95.34 730.74,95.82 733.44,90.94 736.14,91.23 738.85,90.06 741.55,85.95 744.26,84.73 746.96,81.57 749.66,82.73 752.37,77.26 755.07,79.25 757.78,77.95 760.48,77.19 763.18,72.46 765.89,74.7 768.59,70.05 771.3,68.53 774,70.09 776.7,69.32 779.41,68.47 782.11,66.24 784.82,64.03 787.52,63.57 790.22,63.88 792.93,63.43 795.63,59.3 798.34,60.11 801.04,56.71" fill="none" stroke="#32cd32" stroke-width="2.0" stroke-linejoin="round" />
<rect x="482.4" y="15.0" width="321.80000000000007" height="243.3" fill="none" stroke="#333" stroke-width="1"/>
<line x1="478.9" y1="15" x2="482.4" y2="15" stroke="#333" stroke-width="1"/>
<text x="474.9" y="19.5" font-family="Liberation Sans, sans-serif" font-size="13" fill="#1a1a1a" stroke="#1a1a1a" stroke-width="0.3" text-anchor="end" textLength="18.9" lengthAdjust="spacingAndGlyphs">0.6</text>
<line x1="478.9" y1="84.8" x2="482.4" y2="84.8" stroke="#333" stroke-width="1"/>
<text x="474.9" y="89.3" font-family="Liberation Sans, sans-serif" font-size="13" fill="#1a1a1a" stroke="#1a1a1a" stroke-width="0.3" text-anchor="end" textLength="18.9" lengthAdjust="spacingAndGlyphs">0.4</text>
<line x1="478.9" y1="154.5" x2="482.4" y2="154.5" stroke="#333" stroke-width="1"/>
<text x="474.9" y="159" font-family="Liberation Sans, sans-serif" font-size="13" fill="#1a1a1a" stroke="#1a1a1a" stroke-width="0.3" text-anchor="end" textLength="18.9" lengthAdjust="spacingAndGlyphs">0.2</text>
<line x1="478.9" y1="224.2" x2="482.4" y2="224.2" stroke="#333" stroke-width="1"/>
<text x="474.9" y="228.7" font-family="Liberation Sans, sans-serif" font-size="13" fill="#1a1a1a" stroke="#1a1a1a" stroke-width="0.3" text-anchor="end" textLength="18.9" lengthAdjust="spacingAndGlyphs">0.0</text>
<line x1="482.3" y1="258.3" x2="482.3" y2="261.8" stroke="#333" stroke-width="1"/>
<text x="495.9" y="275.3" font-family="Liberation Sans, sans-serif" font-size="14" fill="#1a1a1a" stroke="#1a1a1a" stroke-width="0.3" text-anchor="end" textLength="31" lengthAdjust="spacingAndGlyphs" transform="rotate(-45 495.9 275.3)">1982</text>
<line x1="509.34" y1="258.3" x2="509.34" y2="261.8" stroke="#333" stroke-width="1"/>
<text x="522.94" y="275.3" font-family="Liberation Sans, sans-serif" font-size="14" fill="#1a1a1a" stroke="#1a1a1a" stroke-width="0.3" text-anchor="end" textLength="31" lengthAdjust="spacingAndGlyphs" transform="rotate(-45 522.94 275.3)">1992</text>
<line x1="536.38" y1="258.3" x2="536.38" y2="261.8" stroke="#333" stroke-width="1"/>
<text x="549.98" y="275.3" font-family="Liberation Sans, sans-serif" font-size="14" fill="#1a1a1a" stroke="#1a1a1a" stroke-width="0.3" text-anchor="end" textLength="31" lengthAdjust="spacingAndGlyphs" transform="rotate(-45 549.98 275.3)">2002</text>
<line x1="563.42" y1="258.3" x2="563.42" y2="261.8" stroke="#333" stroke-width="1"/>
<text x="577.02" y="275.3" font-family="Liberation Sans, sans-serif" font-size="14" fill="#1a1a1a" stroke="#1a1a1a" stroke-width="0.3" text-anchor="end" textLength="31" lengthAdjust="spacingAndGlyphs" transform="rotate(-45 577.02 275.3)">2012</text>
<line x1="590.46" y1="258.3" x2="590.46" y2="261.8" stroke="#333" stroke-width="1"/>
<text x="604.06" y="275.3" font-family="Liberation Sans, sans-serif" font-size="14" fill="#1a1a1a" stroke="#1a1a1a" stroke-width="0.3" text-anchor="end" textLength="31" lengthAdjust="spacingAndGlyphs" transform="rotate(-45 604.06 275.3)">2022</text>
<line x1="617.5" y1="258.3" x2="617.5" y2="261.8" stroke="#333" stroke-width="1"/>
<text x="631.1" y="275.3" font-family="Liberation Sans, sans-serif" font-size="14" fill="#1a1a1a" stroke="#1a1a1a" stroke-width="0.3" text-anchor="end" textLength="31" lengthAdjust="spacingAndGlyphs" transform="rotate(-45 631.1 275.3)">2032</text>
<line x1="644.54" y1="258.3" x2="644.54" y2="261.8" stroke="#333" stroke-width="1"/>
<text x="658.14" y="275.3" font-family="Liberation Sans, sans-serif" font-size="14" fill="#1a1a1a" stroke="#1a1a1a" stroke-width="0.3" text-anchor="end" textLength="31" lengthAdjust="spacingAndGlyphs" transform="rotate(-45 658.14 275.3)">2042</text>
<line x1="671.58" y1="258.3" x2="671.58" y2="261.8" stroke="#333" stroke-width="1"/>
<text x="685.18" y="275.3" font-family="Liberation Sans, sans-serif" font-size="14" fill="#1a1a1a" stroke="#1a1a1a" stroke-width="0.3" text-anchor="end" textLength="31" lengthAdjust="spacingAndGlyphs" transform="rotate(-45 685.18 275.3)">2052</text>
<line x1="698.62" y1="258.3" x2="698.62" y2="261.8" stroke="#333" stroke-width="1"/>
<text x="712.22" y="275.3" font-family="Liberation Sans, sans-serif" font-size="14" fill="#1a1a1a" stroke="#1a1a1a" stroke-width="0.3" text-anchor="end" textLength="31" lengthAdjust="spacingAndGlyphs" transform="rotate(-45 712.22 275.3)">2062</text>
<line x1="725.66" y1="258.3" x2="725.66" y2="261.8" stroke="#333" stroke-width="1"/>
<text x="739.26" y="275.3" font-family="Liberation Sans, sans-serif" font-size="14" fill="#1a1a1a" stroke="#1a1a1a" stroke-width="0.3" text-anchor="end" textLength="31" lengthAdjust="spacingAndGlyphs" transform="rotate(-45 739.26 275.3)">2072</text>
<line x1="752.7" y1="258.3" x2="752.7" y2="261.8" stroke="#333" stroke-width="1"/>
<text x="766.3" y="275.3" font-family="Liberation Sans, sans-serif" font-size="14" fill="#1a1a1a" stroke="#1a1a1a" stroke-width="0.3" text-anchor="end" textLength="31" lengthAdjust="spacingAndGlyphs" transform="rotate(-45 766.3 275.3)">2082</text>
<line x1="779.74" y1="258.3" x2="779.74" y2="261.8" stroke="#333" stroke-width="1"/>
<text x="793.34" y="275.3" font-family="Liberation Sans, sans-serif" font-size="14" fill="#1a1a1a" stroke="#1a1a1a" stroke-width="0.3" text-anchor="end" textLength="31" lengthAdjust="spacingAndGlyphs" transform="rotate(-45 793.34 275.3)">2092</text>
<text x="492.4" y="34.9" font-family="Liberation Sans, sans-serif" font-size="20" fill="#1a1a1a" stroke="#1a1a1a" stroke-width="0.3" textLength="113.4" lengthAdjust="spacingAndGlyphs">LAI anomaly</text>
<text x="447.3" y="166.6" font-family="Liberation Sans, sans-serif" font-size="15" fill="#1a1a1a" stroke="#1a1a1a" stroke-width="0.3" textLength="12.6" lengthAdjust="spacingAndGlyphs" transform="rotate(-90 447.3 166.6)">m</text>
<text x="441.6" y="154" font-family="Liberation Sans, sans-serif" font-size="10.8" fill="#1a1a1a" stroke="#1a1a1a" stroke-width="0.3" textLength="6.6" lengthAdjust="spacingAndGlyphs" transform="rotate(-90 441.6 154)">2</text>
<text x="447.3" y="140.4" font-family="Liberation Sans, sans-serif" font-size="15" fill="#1a1a1a" stroke="#1a1a1a" stroke-width="0.3" textLength="12.6" lengthAdjust="spacingAndGlyphs" transform="rotate(-90 447.3 140.4)">m</text>
<text x="441.6" y="124.6" font-family="Liberation Sans, sans-serif" font-size="10.8" fill="#1a1a1a" stroke="#1a1a1a" stroke-width="0.3" textLength="8.4" lengthAdjust="spacingAndGlyphs" transform="rotate(-90 441.6 124.6)">−</text>
<text x="441.6" y="114" font-family="Liberation Sans, sans-serif" font-size="10.8" fill="#1a1a1a" stroke="#1a1a1a" stroke-width="0.3" textLength="6.6" lengthAdjust="spacingAndGlyphs" transform="rotate(-90 441.6 114)">2</text>
<rect x="513.1" y="135.5" width="12.6" height="14.6" fill="#00ffff" stroke="#222" stroke-width="0.8"/>
<rect x="529.7" y="112" width="12.9" height="38.1" fill="#7fffd4" stroke="#222" stroke-width="0.8"/>
<rect x="546.3" y="90.6" width="12.4" height="59.5" fill="#7cfc00" stroke="#222" stroke-width="0.8"/>
<rect x="562.5" y="72.1" width="12.9" height="78" fill="#32cd32" stroke="#222" stroke-width="0.8"/>
<line x1="507" y1="46.4" x2="507" y2="150.1" stroke="#999" stroke-width="1.1"/>
<line x1="505" y1="150.1" x2="581.7" y2="150.1" stroke="#333" stroke-width="1"/>
<line x1="504.7" y1="46.4" x2="507" y2="46.4" stroke="#555" stroke-width="0.8"/>
<text x="484.8" y="49.2" font-family="Liberation Sans, sans-serif" font-size="7.6" fill="#333" stroke="#333" stroke-width="0.15" textLength="16.8" lengthAdjust="spacingAndGlyphs">0.06</text>
<line x1="504.7" y1="98.4" x2="507" y2="98.4" stroke="#555" stroke-width="0.8"/>
<text x="484.8" y="101.2" font-family="Liberation Sans, sans-serif" font-size="7.6" fill="#333" stroke="#333" stroke-width="0.15" textLength="16.8" lengthAdjust="spacingAndGlyphs">0.03</text>
<line x1="504.7" y1="150.1" x2="507" y2="150.1" stroke="#555" stroke-width="0.8"/>
<text x="484.8" y="152.9" font-family="Liberation Sans, sans-serif" font-size="7.6" fill="#333" stroke="#333" stroke-width="0.15" textLength="16.8" lengthAdjust="spacingAndGlyphs">0.00</text>
<polygon points="980.7,164.14 983.62,167.06 986.55,163.55 989.47,164.53 992.39,160.76 995.32,165.54 998.24,164.78 1001.16,158.93 1004.08,163.82 1007.01,158.25 1009.93,158.48 1012.85,159.76 1015.78,161.14 1018.7,159.95 1021.62,154.19 1024.55,156.66 1027.47,156.19 1030.39,155.14 1033.31,156.19 1036.24,151.93 1039.16,154.97 1042.08,149.92 1045.01,150.02 1047.93,149.33 1050.85,149.9 1053.78,151.49 1056.7,149.7 1059.62,151.19 1062.54,147.44 1065.47,149.52 1068.39,148.75 1071.31,145.92 1074.24,145.37 1077.16,148.65 1080.08,145.94 1083.01,147.31 1085.93,145.63 1088.85,145.39 1091.77,142.3 1094.7,142.02 1097.62,141.53 1100.54,144.9 1103.47,139.8 1106.39,144.31 1109.31,140.86 1112.24,140.69 1115.16,140.73 1118.08,140 1121,140.36 1123.93,137.58 1126.85,137.68 1129.77,141.37 1132.7,140.6 1135.62,136.76 1138.54,138.19 1141.47,137.52 1144.39,136.33 1147.31,138.95 1150.23,138.11 1153.16,135.71 1156.08,139.03 1159,140.75 1161.93,136.95 1164.85,138.27 1167.77,140.79 1170.7,140.23 1173.62,140.65 1176.54,140.72 1179.46,143.66 1182.39,142.26 1185.31,142.58 1188.23,141.96 1191.16,142.52 1194.08,145.31 1197,141.56 1199.93,146.32 1202.85,141.43 1205.77,144.9 1205.77,210.42 1202.85,211.93 1199.93,209.06 1197,211.66 1194.08,207.31 1191.16,212.37 1188.23,211.99 1185.31,207.97 1182.39,205.41 1179.46,210.07 1176.54,205.54 1173.62,208.49 1170.7,208.55 1167.77,207.55 1164.85,203.99 1161.93,204.11 1159,202.29 1156.08,206.8 1153.16,202.93 1150.23,204.38 1147.31,202.25 1144.39,202.65 1141.47,205.69 1138.54,207.43 1135.62,204.29 1132.7,205.37 1129.77,206.52 1126.85,203.11 1123.93,204.86 1121,202.89 1118.08,202.97 1115.16,207.41 1112.24,206.52 1109.31,202.78 1106.39,203.18 1103.47,205.33 1100.54,203.08 1097.62,204.77 1094.7,206.09 1091.77,206.35 1088.85,204.7 1085.93,207.46 1083.01,209.37 1080.08,210.64 1077.16,206.94 1074.24,206.54 1071.31,211.62 1068.39,211.4 1065.47,213.76 1062.54,213.85 1059.62,209.47 1056.7,213.5 1053.78,213.28 1050.85,212.83 1047.93,214.44 1045.01,213.56 1042.08,215.85 1039.16,216.82 1036.24,214.48 1033.31,217.52 1030.39,219.82 1027.47,219.46 1024.55,215.62 1021.62,217.48 1018.7,221.57 1015.78,222.74 1012.85,221.98 1009.93,219.44 1007.01,225 1004.08,222.21 1001.16,225.79 998.24,224.03 995.32,225.2 992.39,224.95 989.47,229.83 986.55,227.96 983.62,229.08 980.7,228.13" fill="#0000ff" fill-opacity="0.15"/>
<polygon points="980.7,166.89 983.62,163.01 986.55,165.82 989.47,165.97 992.39,165.3 995.32,161.49 998.24,161.72 1001.16,162.01 1004.08,160.5 1007.01,160.28 1009.93,155.46 1012.85,156.33 1015.78,154.19 1018.7,158.28 1021.62,154.67 1024.55,155.81 1027.47,152.56 1030.39,152.41 1033.31,149.67 1036.24,151.08 1039.16,153.94 1042.08,148.87 1045.01,148.8 1047.93,151.7 1050.85,145.71 1053.78,145.22 1056.7,147.93 1059.62,148.71 1062.54,142.84 1065.47,146.58 1068.39,146.3 1071.31,141.19 1074.24,144 1077.16,142.43 1080.08,141.57 1083.01,143.75 1085.93,137.33 1088.85,138.13 1091.77,140.24 1094.7,137.27 1097.62,136.7 1100.54,138.91 1103.47,139.96 1106.39,135.62 1109.31,136.61 1112.24,135.09 1115.16,135.56 1118.08,136.62 1121,137.33 1123.93,132.81 1126.85,136.23 1129.77,135.11 1132.7,132.35 1135.62,131.83 1138.54,132.42 1141.47,131.56 1144.39,135.91 1147.31,134.15 1150.23,131.2 1153.16,132.89 1156.08,132.73 1159,129.83 1161.93,134.43 1164.85,131.82 1167.77,130.26 1170.7,130.54 1173.62,132.33 1176.54,133.66 1179.46,135.3 1182.39,134.64 1185.31,132.38 1188.23,130.03 1191.16,134.87 1194.08,131.58 1197,130.75 1199.93,134.62 1202.85,130.21 1205.77,130.81 1205.77,173.49 1202.85,174.12 1199.93,177.8 1197,175.12 1194.08,177.69 1191.16,180.48 1188.23,179.99 1185.31,177.51 1182.39,178.2 1179.46,183.05 1176.54,180.36 1173.62,179.64 1170.7,184.27 1167.77,182.71 1164.85,180.87 1161.93,185.41 1159,181.14 1156.08,186.32 1153.16,182.75 1150.23,183.03 1147.31,188.2 1144.39,186.5 1141.47,184.96 1138.54,186.65 1135.62,191.01 1132.7,191.74 1129.77,190.63 1126.85,193.79 1123.93,194.89 1121,192.84 1118.08,193.1 1115.16,194.53 1112.24,193.72 1109.31,194.13 1106.39,197.18 1103.47,198.55 1100.54,200.04 1097.62,199.7 1094.7,200.24 1091.77,198.62 1088.85,201.11 1085.93,204 1083.01,200.16 1080.08,201.15 1077.16,204.63 1074.24,202.45 1071.31,206.73 1068.39,208.07 1065.47,206.36 1062.54,209.68 1059.62,207.23 1056.7,208.36 1053.78,207.36 1050.85,212.85 1047.93,207.88 1045.01,209.22 1042.08,213 1039.16,214.86 1036.24,212.33 1033.31,213.12 1030.39,212.55 1027.47,218.04 1024.55,219.65 1021.62,218.13 1018.7,217.21 1015.78,221.53 1012.85,222.34 1009.93,217.86 1007.01,221.13 1004.08,223.18 1001.16,222.63 998.24,222.09 995.32,226.02 992.39,224.04 989.47,225.22 986.55,228.93 983.62,230.83 980.7,228.99" fill="#7fffd4" fill-opacity="0.22"/>
<polygon points="980.7,162.32 983.62,162.99 986.55,162.6 989.47,156.45 992.39,157.29 995.32,160.2 998.24,156.56 1001.16,154.41 1004.08,154.76 1007.01,151.88 1009.93,154.42 1012.85,150.66 1015.78,150.87 1018.7,146.69 1021.62,149.72 1024.55,145.97 1027.47,149.33 1030.39,145.01 1033.31,146.3 1036.24,145.03 1039.16,144.02 1042.08,137.8 1045.01,137.28 1047.93,136.67 1050.85,136.21 1053.78,132.06 1056.7,133.06 1059.62,131.14 1062.54,126.64 1065.47,125.82 1068.39,127.56 1071.31,121.07 1074.24,123.4 1077.16,117.64 1080.08,119.99 1083.01,118.4 1085.93,114.74 1088.85,116.58 1091.77,111.69 1094.7,108.47 1097.62,107.88 1100.54,108.5 1103.47,104.8 1106.39,101.41 1109.31,101.43 1112.24,103.97 1115.16,98.15 1118.08,97.63 1121,97.72 1123.93,97.41 1126.85,91.24 1129.77,89.9 1132.7,87.86 1135.62,86.76 1138.54,89.92 1141.47,83.87 1144.39,81.49 1147.31,82.29 1150.23,80.45 1153.16,80.56 1156.08,78.23 1159,76.55 1161.93,72.04 1164.85,72.68 1167.77,68.49 1170.7,67 1173.62,67.09 1176.54,65.28 1179.46,65.42 1182.39,59.77 1185.31,59.32 1188.23,56.95 1191.16,57.32 1194.08,56.06 1197,54.73 1199.93,50.5 1202.85,50.03 1205.77,48.64 1205.77,142.42 1202.85,147.81 1199.93,150.55 1197,150.36 1194.08,149.8 1191.16,155.11 1188.23,156.61 1185.31,154.8 1182.39,158.77 1179.46,160.1 1176.54,159.76 1173.62,162.55 1170.7,163.31 1167.77,168.98 1164.85,165.14 1161.93,167.32 1159,173.6 1156.08,173.27 1153.16,173.58 1150.23,175.82 1147.31,178.35 1144.39,177.84 1141.47,175.96 1138.54,180.54 1135.62,182.66 1132.7,184.12 1129.77,179.28 1126.85,185.75 1123.93,187.19 1121,186.61 1118.08,185.62 1115.16,189.79 1112.24,188.46 1109.31,188.59 1106.39,187.8 1103.47,188.9 1100.54,192.76 1097.62,192.4 1094.7,192.35 1091.77,197.11 1088.85,196.63 1085.93,198.99 1083.01,197.86 1080.08,200.38 1077.16,200.02 1074.24,202.85 1071.31,203.6 1068.39,202.65 1065.47,202.07 1062.54,205.37 1059.62,206.51 1056.7,209.28 1053.78,209.96 1050.85,211.4 1047.93,210.63 1045.01,211.31 1042.08,210.34 1039.16,214.53 1036.24,215.81 1033.31,214.6 1030.39,215.53 1027.47,217 1024.55,215.27 1021.62,217.8 1018.7,220.81 1015.78,220.48 1012.85,219.23 1009.93,219.77 1007.01,220.96 1004.08,220.29 1001.16,222.18 998.24,227.07 995.32,226.34 992.39,224.88 989.47,224.85 986.55,230.34 983.62,229.35 980.7,231.65" fill="#7cfc00" fill-opacity="0.16"/>
<polygon points="980.7,162.34 983.62,157.69 986.55,156.26 989.47,157.41 992.39,156.21 995.32,157.05 998.24,155.02 1001.16,154.32 1004.08,152.48 1007.01,152.62 1009.93,155.94 1012.85,151.33 1015.78,153.1 1018.7,152.53 1021.62,150.71 1024.55,145.67 1027.47,143.95 1030.39,141.77 1033.31,140.26 1036.24,139.4 1039.16,142.05 1042.08,136.15 1045.01,136.34 1047.93,132.47 1050.85,130.54 1053.78,131.01 1056.7,123.86 1059.62,123.85 1062.54,119.76 1065.47,120 1068.39,116.42 1071.31,115.71 1074.24,114.33 1077.16,110.38 1080.08,109.79 1083.01,107.76 1085.93,104.28 1088.85,102.04 1091.77,99.82 1094.7,97.77 1097.62,93.67 1100.54,91.39 1103.47,89.37 1106.39,90.93 1109.31,84.79 1112.24,85.47 1115.16,81.12 1118.08,78.37 1121,79.88 1123.93,76.57 1126.85,77.6 1129.77,71.59 1132.7,68.64 1135.62,69.43 1138.54,65.29 1141.47,65.66 1144.39,63.64 1147.31,59.41 1150.23,56.22 1153.16,52.61 1156.08,52.55 1159,48.77 1161.93,50.42 1164.85,46.67 1167.77,44.9 1170.7,43.75 1173.62,40.06 1176.54,38.99 1179.46,38.18 1182.39,33.81 1185.31,34.29 1188.23,28.15 1191.16,25.33 1194.08,22.63 1197,25.93 1199.93,22.1 1202.85,17.47 1205.77,17.3 1205.77,134.01 1202.85,132.56 1199.93,138.33 1197,140.84 1194.08,138.94 1191.16,143.64 1188.23,143.46 1185.31,144.53 1182.39,148.01 1179.46,151.92 1176.54,156.25 1173.62,155.15 1170.7,157.69 1167.77,162.23 1164.85,159.9 1161.93,165.73 1159,168.54 1156.08,168.1 1153.16,169.99 1150.23,172.79 1147.31,173.06 1144.39,174.35 1141.47,174.45 1138.54,176.45 1135.62,175.33 1132.7,174.78 1129.77,179.89 1126.85,177.06 1123.93,181.09 1121,178.75 1118.08,182.26 1115.16,181.94 1112.24,186.44 1109.31,187.86 1106.39,186.23 1103.47,185.92 1100.54,188.9 1097.62,186.47 1094.7,191.93 1091.77,193.1 1088.85,193.77 1085.93,193.83 1083.01,194.79 1080.08,194.55 1077.16,196.71 1074.24,199.16 1071.31,201.72 1068.39,199.18 1065.47,201.28 1062.54,202.35 1059.62,205.31 1056.7,202.37 1053.78,206.69 1050.85,207.59 1047.93,211.65 1045.01,209.14 1042.08,211.11 1039.16,212.07 1036.24,215.36 1033.31,213.57 1030.39,216.43 1027.47,215.06 1024.55,217.1 1021.62,215.81 1018.7,219.22 1015.78,219.25 1012.85,218.11 1009.93,220.72 1007.01,221.37 1004.08,223.37 1001.16,223.53 998.24,225.88 995.32,223.34 992.39,225.96 989.47,225.48 986.55,226.9 983.62,229.59 980.7,232.1" fill="#32cd32" fill-opacity="0.15"/>
<rect x="886" y="35" width="97.8" height="128.5" fill="#fff" />
<polyline points="885.58,222.05 889.76,220.66 893.95,217.87 898.13,218.56 904.41,214.38 910.68,215.08 916.26,213.68 920.45,210.89 926.03,212.29 928.81,211.59 934.39,204.62 942.76,208.1 946.95,205.31 948.34,207.41 952.52,202.52 958.1,203.92 960.89,201.13 967.87,202.25 972.05,197.64 978.33,195.27" fill="none" stroke="#178a17" stroke-width="1.6" stroke-linejoin="round" />
<polyline points="885.58,234.6 886.97,237.39 891.16,231.81 895.34,227.63 898.83,229.72 902.32,225.54 905.1,226.93 907.89,223.44 913.47,231.81 919.75,222.75 924.63,226.23 928.12,217.87 930.91,222.75 934.39,219.96 937.18,222.75 939.97,220.38 943.46,228.33 945.55,227.63 948.34,220.66 952.52,222.05 957.41,217.17 960.2,217.17 963.68,222.05 966.47,219.26 969.26,210.61 972.05,217.87 977.63,217.87 981.81,219.96" fill="none" stroke="#000" stroke-width="2.6" stroke-linejoin="round" />
<polyline points="980.7,197.49 983.62,194.76 986.55,194.63 989.47,195.36 992.39,193.62 995.32,193.07 998.24,189.35 1001.16,191.79 1004.08,189.65 1007.01,188.73 1009.93,185.84 1012.85,185.99 1015.78,186.4 1018.7,184.65 1021.62,184.22 1024.55,183.96 1027.47,182.64 1030.39,179.61 1033.31,180.8 1036.24,180.9 1039.16,180.89 1042.08,177.03 1045.01,179.69 1047.93,177.34 1050.85,176.72 1053.78,178.32 1056.7,174.39 1059.62,175.99 1062.54,173.21 1065.47,175.29 1068.39,171.8 1071.31,173.41 1074.24,171.54 1077.16,171.72 1080.08,170.28 1083.01,170.66 1085.93,172.02 1088.85,172.06 1091.77,171.32 1094.7,169.49 1097.62,170.01 1100.54,169.98 1103.47,168.93 1106.39,169.44 1109.31,171.39 1112.24,169.3 1115.16,168.75 1118.08,169.92 1121,170.32 1123.93,166.82 1126.85,167.73 1129.77,169.58 1132.7,168.11 1135.62,166.23 1138.54,167.88 1141.47,167.53 1144.39,168.62 1147.31,167.5 1150.23,170.13 1153.16,168.56 1156.08,166.73 1159,168.29 1161.93,167.64 1164.85,166.26 1167.77,166.59 1170.7,169.34 1173.62,167.91 1176.54,167 1179.46,168.7 1182.39,168.76 1185.31,167.29 1188.23,166.72 1191.16,168.09 1194.08,167.91 1197,169.92 1199.93,171.75 1202.85,173.36 1205.77,176.35" fill="none" stroke="#00eeff" stroke-width="2.0" stroke-linejoin="round" />
<polyline points="980.7,195.05 983.62,194.58 986.55,193.02 989.47,191.01 992.39,192.04 995.32,187.89 998.24,185.82 1001.16,188.15 1004.08,185.65 1007.01,183.47 1009.93,183.97 1012.85,180.28 1015.78,177.62 1018.7,177.3 1021.62,175.14 1024.55,177.01 1027.47,175.19 1030.39,172.24 1033.31,170.46 1036.24,169.59 1039.16,169.88 1042.08,167.21 1045.01,167.93 1047.93,165.23 1050.85,164.69 1053.78,163.43 1056.7,166.14 1059.62,161.77 1062.54,163.16 1065.47,162.88 1068.39,163.09 1071.31,161.71 1074.24,159.76 1077.16,158.19 1080.08,157.5 1083.01,155.63 1085.93,156.75 1088.85,154.41 1091.77,154.15 1094.7,155.57 1097.62,153.08 1100.54,152.41 1103.47,153.3 1106.39,150 1109.31,151.18 1112.24,151.63 1115.16,151.21 1118.08,148.5 1121,148.18 1123.93,146.91 1126.85,148.16 1129.77,145.85 1132.7,147.82 1135.62,146.03 1138.54,143.68 1141.47,144.43 1144.39,144.75 1147.31,142.44 1150.23,142.82 1153.16,140.88 1156.08,142.96 1159,141.15 1161.93,140.51 1164.85,140.27 1167.77,138.3 1170.7,139.65 1173.62,140.9 1176.54,137.53 1179.46,139.81 1182.39,137.08 1185.31,138.61 1188.23,138.42 1191.16,138.24 1194.08,138.07 1197,135.45 1199.93,136.03 1202.85,134.14 1205.77,135.57" fill="none" stroke="#7fffd4" stroke-width="2.0" stroke-linejoin="round" />
<polyline points="980.7,195.21 983.62,196.95 986.55,192.84 989.47,193.65 992.39,189.82 995.32,192.16 998.24,188.76 1001.16,186.72 1004.08,185.11 1007.01,184.66 1009.93,181.7 1012.85,182.89 1015.78,182.42 1018.7,180.02 1021.62,179.46 1024.55,178.19 1027.47,174.61 1030.39,175.52 1033.31,171.95 1036.24,170.07 1039.16,171.1 1042.08,168.87 1045.01,167.94 1047.93,165.99 1050.85,166.94 1053.78,162.24 1056.7,164.31 1059.62,160.01 1062.54,159.89 1065.47,157.69 1068.39,156.28 1071.31,156.37 1074.24,156.62 1077.16,155.47 1080.08,153.86 1083.01,151.24 1085.93,151.26 1088.85,150.45 1091.77,148.63 1094.7,146.04 1097.62,144.43 1100.54,142.29 1103.47,144.62 1106.39,140.12 1109.31,139.46 1112.24,139.97 1115.16,138.6 1118.08,135.73 1121,136.87 1123.93,134.55 1126.85,131.64 1129.77,130.3 1132.7,131.26 1135.62,128.42 1138.54,127.62 1141.47,125.62 1144.39,126.94 1147.31,126.56 1150.23,122.77 1153.16,124.03 1156.08,119.66 1159,120.33 1161.93,119.53 1164.85,115.8 1167.77,114.97 1170.7,112.18 1173.62,113.73 1176.54,108.51 1179.46,110.17 1182.39,108.55 1185.31,107.46 1188.23,102.41 1191.16,104.32 1194.08,99.35 1197,97.5 1199.93,98.73 1202.85,97.64 1205.77,96.34" fill="none" stroke="#7cfc00" stroke-width="2.0" stroke-linejoin="round" />
<polyline points="980.7,196.89 983.62,195.06 986.55,193.4 989.47,192.23 992.39,193.03 995.32,188.86 998.24,189.56 1001.16,186.81 1004.08,187.08 1007.01,185.71 1009.93,184.83 1012.85,180.48 1015.78,182.59 1018.7,178.44 1021.62,177.45 1024.55,178.84 1027.47,174.27 1030.39,176.13 1033.31,173.82 1036.24,170.07 1039.16,167.87 1042.08,167.44 1045.01,165.05 1047.93,161.86 1050.85,161.03 1053.78,157.82 1056.7,158.95 1059.62,157.48 1062.54,154.21 1065.47,150.52 1068.39,151.57 1071.31,148.4 1074.24,148 1077.16,143.68 1080.08,143.13 1083.01,143.38 1085.93,142.51 1088.85,139.61 1091.77,139.15 1094.7,135.21 1097.62,135.32 1100.54,132.49 1103.47,130.81 1106.39,130.55 1109.31,127.38 1112.24,126.81 1115.16,126.42 1118.08,125.46 1121,121.81 1123.93,119.57 1126.85,120.08 1129.77,117.54 1132.7,115.34 1135.62,115.35 1138.54,112.47 1141.47,110.82 1144.39,107.6 1147.31,105.08 1150.23,103.47 1153.16,104.16 1156.08,101.2 1159,98.98 1161.93,98.12 1164.85,96.89 1167.77,91.61 1170.7,92.83 1173.62,87.47 1176.54,88.95 1179.46,84.72 1182.39,81.51 1185.31,81.61 1188.23,77.95 1191.16,77.16 1194.08,73.3 1197,74.26 1199.93,68.81 1202.85,68.91 1205.77,66.57" fill="none" stroke="#32cd32" stroke-width="2.0" stroke-linejoin="round" />
<rect x="884.6" y="14.9" width="321.4999999999999" height="242.99999999999997" fill="none" stroke="#333" stroke-width="1"/>
<line x1="881.1" y1="14.9" x2="884.6" y2="14.9" stroke="#333" stroke-width="1"/>
<text x="877.1" y="19.4" font-family="Liberation Sans, sans-serif" font-size="13" fill="#1a1a1a" stroke="#1a1a1a" stroke-width="0.3" text-anchor="end" textLength="14.8" lengthAdjust="spacingAndGlyphs">60</text>
<line x1="881.1" y1="84.5" x2="884.6" y2="84.5" stroke="#333" stroke-width="1"/>
<text x="877.1" y="89" font-family="Liberation Sans, sans-serif" font-size="13" fill="#1a1a1a" stroke="#1a1a1a" stroke-width="0.3" text-anchor="end" textLength="14.8" lengthAdjust="spacingAndGlyphs">40</text>
<line x1="881.1" y1="154.1" x2="884.6" y2="154.1" stroke="#333" stroke-width="1"/>
<text x="877.1" y="158.6" font-family="Liberation Sans, sans-serif" font-size="13" fill="#1a1a1a" stroke="#1a1a1a" stroke-width="0.3" text-anchor="end" textLength="14.8" lengthAdjust="spacingAndGlyphs">20</text>
<line x1="881.1" y1="223.7" x2="884.6" y2="223.7" stroke="#333" stroke-width="1"/>
<text x="877.1" y="228.2" font-family="Liberation Sans, sans-serif" font-size="13" fill="#1a1a1a" stroke="#1a1a1a" stroke-width="0.3" text-anchor="end" textLength="7.3" lengthAdjust="spacingAndGlyphs">0</text>
<line x1="884.6" y1="257.9" x2="884.6" y2="261.4" stroke="#333" stroke-width="1"/>
<text x="898.2" y="274.9" font-family="Liberation Sans, sans-serif" font-size="14" fill="#1a1a1a" stroke="#1a1a1a" stroke-width="0.3" text-anchor="end" textLength="31" lengthAdjust="spacingAndGlyphs" transform="rotate(-45 898.2 274.9)">1982</text>
<line x1="913.83" y1="257.9" x2="913.83" y2="261.4" stroke="#333" stroke-width="1"/>
<text x="927.43" y="274.9" font-family="Liberation Sans, sans-serif" font-size="14" fill="#1a1a1a" stroke="#1a1a1a" stroke-width="0.3" text-anchor="end" textLength="31" lengthAdjust="spacingAndGlyphs" transform="rotate(-45 927.43 274.9)">1992</text>
<line x1="943.06" y1="257.9" x2="943.06" y2="261.4" stroke="#333" stroke-width="1"/>
<text x="956.66" y="274.9" font-family="Liberation Sans, sans-serif" font-size="14" fill="#1a1a1a" stroke="#1a1a1a" stroke-width="0.3" text-anchor="end" textLength="31" lengthAdjust="spacingAndGlyphs" transform="rotate(-45 956.66 274.9)">2002</text>
<line x1="972.29" y1="257.9" x2="972.29" y2="261.4" stroke="#333" stroke-width="1"/>
<text x="985.89" y="274.9" font-family="Liberation Sans, sans-serif" font-size="14" fill="#1a1a1a" stroke="#1a1a1a" stroke-width="0.3" text-anchor="end" textLength="31" lengthAdjust="spacingAndGlyphs" transform="rotate(-45 985.89 274.9)">2012</text>
<line x1="1001.52" y1="257.9" x2="1001.52" y2="261.4" stroke="#333" stroke-width="1"/>
<text x="1015.12" y="274.9" font-family="Liberation Sans, sans-serif" font-size="14" fill="#1a1a1a" stroke="#1a1a1a" stroke-width="0.3" text-anchor="end" textLength="31" lengthAdjust="spacingAndGlyphs" transform="rotate(-45 1015.12 274.9)">2022</text>
<line x1="1030.75" y1="257.9" x2="1030.75" y2="261.4" stroke="#333" stroke-width="1"/>
<text x="1044.35" y="274.9" font-family="Liberation Sans, sans-serif" font-size="14" fill="#1a1a1a" stroke="#1a1a1a" stroke-width="0.3" text-anchor="end" textLength="31" lengthAdjust="spacingAndGlyphs" transform="rotate(-45 1044.35 274.9)">2032</text>
<line x1="1059.98" y1="257.9" x2="1059.98" y2="261.4" stroke="#333" stroke-width="1"/>
<text x="1073.58" y="274.9" font-family="Liberation Sans, sans-serif" font-size="14" fill="#1a1a1a" stroke="#1a1a1a" stroke-width="0.3" text-anchor="end" textLength="31" lengthAdjust="spacingAndGlyphs" transform="rotate(-45 1073.58 274.9)">2042</text>
<line x1="1089.21" y1="257.9" x2="1089.21" y2="261.4" stroke="#333" stroke-width="1"/>
<text x="1102.81" y="274.9" font-family="Liberation Sans, sans-serif" font-size="14" fill="#1a1a1a" stroke="#1a1a1a" stroke-width="0.3" text-anchor="end" textLength="31" lengthAdjust="spacingAndGlyphs" transform="rotate(-45 1102.81 274.9)">2052</text>
<line x1="1118.44" y1="257.9" x2="1118.44" y2="261.4" stroke="#333" stroke-width="1"/>
<text x="1132.04" y="274.9" font-family="Liberation Sans, sans-serif" font-size="14" fill="#1a1a1a" stroke="#1a1a1a" stroke-width="0.3" text-anchor="end" textLength="31" lengthAdjust="spacingAndGlyphs" transform="rotate(-45 1132.04 274.9)">2062</text>
<line x1="1147.67" y1="257.9" x2="1147.67" y2="261.4" stroke="#333" stroke-width="1"/>
<text x="1161.27" y="274.9" font-family="Liberation Sans, sans-serif" font-size="14" fill="#1a1a1a" stroke="#1a1a1a" stroke-width="0.3" text-anchor="end" textLength="31" lengthAdjust="spacingAndGlyphs" transform="rotate(-45 1161.27 274.9)">2072</text>
<line x1="1176.9" y1="257.9" x2="1176.9" y2="261.4" stroke="#333" stroke-width="1"/>
<text x="1190.5" y="274.9" font-family="Liberation Sans, sans-serif" font-size="14" fill="#1a1a1a" stroke="#1a1a1a" stroke-width="0.3" text-anchor="end" textLength="31" lengthAdjust="spacingAndGlyphs" transform="rotate(-45 1190.5 274.9)">2082</text>
<line x1="1206.13" y1="257.9" x2="1206.13" y2="261.4" stroke="#333" stroke-width="1"/>
<text x="1219.73" y="274.9" font-family="Liberation Sans, sans-serif" font-size="14" fill="#1a1a1a" stroke="#1a1a1a" stroke-width="0.3" text-anchor="end" textLength="31" lengthAdjust="spacingAndGlyphs" transform="rotate(-45 1219.73 274.9)">2092</text>
<text x="893.9" y="35" font-family="Liberation Sans, sans-serif" font-size="20" fill="#1a1a1a" stroke="#1a1a1a" stroke-width="0.3" textLength="121.6" lengthAdjust="spacingAndGlyphs">GPP anomaly</text>
<text x="852" y="166.2" font-family="Liberation Sans, sans-serif" font-size="15" fill="#1a1a1a" stroke="#1a1a1a" stroke-width="0.3" textLength="20.5" lengthAdjust="spacingAndGlyphs" transform="rotate(-90 852 166.2)">gC</text>
<text x="852" y="141.5" font-family="Liberation Sans, sans-serif" font-size="15" fill="#1a1a1a" stroke="#1a1a1a" stroke-width="0.3" textLength="12.6" lengthAdjust="spacingAndGlyphs" transform="rotate(-90 852 141.5)">m</text>
<text x="846.3" y="125.6" font-family="Liberation Sans, sans-serif" font-size="10.8" fill="#1a1a1a" stroke="#1a1a1a" stroke-width="0.3" textLength="8.4" lengthAdjust="spacingAndGlyphs" transform="rotate(-90 846.3 125.6)">−</text>
<text x="846.3" y="115" font-family="Liberation Sans, sans-serif" font-size="10.8" fill="#1a1a1a" stroke="#1a1a1a" stroke-width="0.3" textLength="6.6" lengthAdjust="spacingAndGlyphs" transform="rotate(-90 846.3 115)">2</text>
<rect x="904.5" y="159.4" width="15.1" height="2.2" fill="#00ffff" stroke="#222" stroke-width="0.8"/>
<rect x="924.3" y="118.9" width="14.5" height="42.7" fill="#7fffd4" stroke="#222" stroke-width="0.8"/>
<rect x="943.2" y="88.2" width="14.4" height="73.4" fill="#7cfc00" stroke="#222" stroke-width="0.8"/>
<rect x="962" y="61.6" width="14.8" height="100" fill="#32cd32" stroke="#222" stroke-width="0.8"/>
<line x1="897.3" y1="42.1" x2="897.3" y2="161.6" stroke="#999" stroke-width="1.1"/>
<line x1="894.9" y1="161.6" x2="983.8" y2="161.6" stroke="#333" stroke-width="1"/>
<line x1="895" y1="42.1" x2="897.3" y2="42.1" stroke="#555" stroke-width="0.8"/>
<text x="887.4" y="44.9" font-family="Liberation Sans, sans-serif" font-size="7.6" fill="#333" stroke="#333" stroke-width="0.15" textLength="4.8" lengthAdjust="spacingAndGlyphs">6</text>
<line x1="895" y1="101.6" x2="897.3" y2="101.6" stroke="#555" stroke-width="0.8"/>
<text x="887.4" y="104.4" font-family="Liberation Sans, sans-serif" font-size="7.6" fill="#333" stroke="#333" stroke-width="0.15" textLength="4.8" lengthAdjust="spacingAndGlyphs">3</text>
<line x1="895" y1="161.6" x2="897.3" y2="161.6" stroke="#555" stroke-width="0.8"/>
<text x="887.4" y="164.4" font-family="Liberation Sans, sans-serif" font-size="7.6" fill="#333" stroke="#333" stroke-width="0.15" textLength="4.8" lengthAdjust="spacingAndGlyphs">0</text>
<polygon points="169.2,383.86 171.9,381.21 174.6,384.88 177.3,386.05 180,386.47 182.7,383.94 185.4,385.19 188.1,386.51 190.8,386.14 193.5,386.97 196.2,383.5 198.9,385.36 201.6,384.39 204.3,389.24 207,386.91 209.7,389.01 212.4,387.02 215.1,387.91 217.8,386.4 220.5,388.73 223.2,392.42 225.9,388.71 228.6,389.66 231.3,393.39 234,388.81 236.7,389.37 239.4,392.92 242.1,394.66 244.8,390.15 247.5,394.62 250.2,395.33 252.9,391.54 255.6,395.13 258.3,394.64 261,394.82 263.7,397.82 266.4,392.81 269.1,394.53 271.8,397.47 274.5,395.64 277.2,395.71 279.9,398.39 282.6,399.97 285.3,396.54 288,398.07 290.7,397.26 293.4,398.3 296.1,399.9 298.8,401.18 301.5,397.57 304.2,401.37 306.9,400.94 309.6,398.98 312.3,399.1 315,400.26 317.7,400.07 320.4,404.74 323.1,403.7 325.8,401.58 328.5,403.8 331.2,404.09 333.9,401.75 336.6,406.41 339.3,404.34 342,403.25 344.7,403.87 347.4,405.91 350.1,407.52 352.8,409.41 355.5,409.16 358.2,407.42 360.9,405.59 363.6,410.47 366.3,407.76 369,407.35 371.7,411.34 374.4,407.58 377.1,408.5 379.8,410.88 382.5,411.07 385.2,413.64 387.9,411.18 390.6,409.73 393.3,413.63 396,410.86 398.7,411.08 398.7,490.89 396,490.71 393.3,488.09 390.6,487.57 387.9,488.87 385.2,490.86 382.5,491.13 379.8,487.66 377.1,485.69 374.4,485.53 371.7,488.22 369,484.97 366.3,486.61 363.6,488.47 360.9,487.26 358.2,484.19 355.5,484.08 352.8,487.86 350.1,484.6 347.4,483.18 344.7,486.74 342,484.53 339.3,482.07 336.6,485.55 333.9,480.81 331.2,484.9 328.5,480.72 325.8,479.92 323.1,483.69 320.4,481.04 317.7,478.54 315,479.07 312.3,482.07 309.6,481.7 306.9,479.61 304.2,481.49 301.5,481.46 298.8,478.48 296.1,477.67 293.4,477.95 290.7,476.13 288,475.45 285.3,477.24 282.6,477.44 279.9,477.67 277.2,476.19 274.5,475.53 271.8,472.93 269.1,474.18 266.4,475.8 263.7,471.14 261,471 258.3,473.17 255.6,470.06 252.9,472.98 250.2,473.16 247.5,470.48 244.8,472.51 242.1,469.14 239.4,469.13 236.7,467.12 234,471.17 231.3,465.46 228.6,465.63 225.9,468.08 223.2,468.74 220.5,465.31 217.8,464.91 215.1,463.19 212.4,467.12 209.7,467.43 207,464.81 204.3,462.76 201.6,465.59 198.9,465.15 196.2,459.77 193.5,461.63 190.8,462.35 188.1,460.64 185.4,458.95 182.7,461.41 180,458.37 177.3,458.28 174.6,460.54 171.9,461.12 169.2,458.28" fill="#0000ff" fill-opacity="0.15"/>
<polygon points="169.2,389.56 171.9,391.5 174.6,392.54 177.3,388.21 180,390.39 182.7,394.51 185.4,392.52 188.1,391.92 190.8,393.65 193.5,392.37 196.2,396.14 198.9,394.03 201.6,395.63 204.3,393.14 207,397.37 209.7,395.27 212.4,399.81 215.1,397.18 217.8,399.79 220.5,400.34 223.2,401.44 225.9,397.68 228.6,399.23 231.3,400.71 234,402.31 236.7,400.48 239.4,403.46 242.1,403.7 244.8,401.52 247.5,402.77 250.2,406.41 252.9,402.38 255.6,406.57 258.3,403.21 261,407.43 263.7,407.96 266.4,406.56 269.1,410.3 271.8,407.75 274.5,406.76 277.2,408.14 279.9,410.64 282.6,409.11 285.3,407.87 288,409.83 290.7,414.12 293.4,410.62 296.1,412.06 298.8,414.07 301.5,415.7 304.2,411.88 306.9,412.55 309.6,412.58 312.3,413.48 315,418.36 317.7,414.64 320.4,414.34 323.1,417.01 325.8,417.2 328.5,419.2 331.2,419 333.9,419.44 336.6,417.24 339.3,419.85 342,417.95 344.7,418.57 347.4,420.67 350.1,420.99 352.8,423.14 355.5,419.88 358.2,421.47 360.9,421.27 363.6,423.63 366.3,424.46 369,425.23 371.7,423.29 374.4,424.87 377.1,425.58 379.8,423.87 382.5,427.04 385.2,425.56 387.9,424.92 390.6,430.56 393.3,426.01 396,430.13 398.7,429.29 398.7,493.66 396,490.76 393.3,492.75 390.6,491.19 387.9,489.48 385.2,490.73 382.5,493.85 379.8,492.52 377.1,488.85 374.4,492.02 371.7,492.72 369,490.69 366.3,488.31 363.6,491.4 360.9,490.95 358.2,487.4 355.5,489.24 352.8,488.63 350.1,486.45 347.4,487.19 344.7,486.05 342,489.49 339.3,484.04 336.6,484.22 333.9,488.22 331.2,486.06 328.5,484.69 325.8,485.59 323.1,486.75 320.4,485.09 317.7,482.14 315,485.23 312.3,486 309.6,486.18 306.9,480.47 304.2,485.31 301.5,485.46 298.8,483.73 296.1,481.61 293.4,484.31 290.7,481.87 288,480.8 285.3,478.87 282.6,478.67 279.9,480.88 277.2,479.14 274.5,477.7 271.8,480.74 269.1,478.9 266.4,479.71 263.7,477.26 261,478.22 258.3,476.48 255.6,477.73 252.9,477.03 250.2,474.75 247.5,472.82 244.8,474.5 242.1,474.16 239.4,475.36 236.7,474.6 234,474.54 231.3,472.43 228.6,471.67 225.9,469.36 223.2,471.88 220.5,471.68 217.8,469.23 215.1,468.85 212.4,468.98 209.7,466.11 207,467.23 204.3,468.8 201.6,467.24 198.9,464.84 196.2,464.09 193.5,463.96 190.8,462.09 188.1,462.61 185.4,465.93 182.7,464.01 180,461.4 177.3,460.12 174.6,464 171.9,461.84 169.2,462.81" fill="#7fffd4" fill-opacity="0.22"/>
<polygon points="169.2,392.46 171.9,389.46 174.6,389.53 177.3,392.01 180,392.28 182.7,394.47 185.4,393.98 188.1,394.73 190.8,394.41 193.5,395.94 196.2,400.44 198.9,397.55 201.6,400.85 204.3,402.44 207,402.87 209.7,400.29 212.4,400.81 215.1,400.89 217.8,401.61 220.5,403.27 223.2,408.5 225.9,405.76 228.6,408.69 231.3,407.84 234,408.81 236.7,412.01 239.4,408.09 242.1,410.84 244.8,409.7 247.5,412.6 250.2,411.93 252.9,413.94 255.6,415.34 258.3,414.32 261,416.45 263.7,417.23 266.4,416.66 269.1,417.24 271.8,417.84 274.5,418.61 277.2,417.45 279.9,418 282.6,418.8 285.3,422.93 288,419.87 290.7,423.18 293.4,421.8 296.1,421.91 298.8,425.99 301.5,425.58 304.2,429.22 306.9,426.28 309.6,426.2 312.3,429.61 315,428.42 317.7,431.45 320.4,432.24 323.1,430.97 325.8,430.61 328.5,429.82 331.2,432.35 333.9,431.4 336.6,435.51 339.3,434.59 342,435.52 344.7,437.02 347.4,436.15 350.1,437.73 352.8,439.55 355.5,438.05 358.2,441.08 360.9,437.92 363.6,437.87 366.3,437.92 369,443.58 371.7,442.59 374.4,440.84 377.1,443.26 379.8,445.93 382.5,446.26 385.2,442.66 387.9,444.23 390.6,444.76 393.3,446.88 396,448.44 398.7,446.71 398.7,536.76 396,532.61 393.3,535.71 390.6,535.6 387.9,535.89 385.2,531.42 382.5,532.29 379.8,530.96 377.1,532.8 374.4,528.89 371.7,531.71 369,531.49 366.3,527.15 363.6,528.98 360.9,526.25 358.2,524.68 355.5,525.37 352.8,526.46 350.1,527.94 347.4,524.35 344.7,524.16 342,525.84 339.3,521.1 336.6,523.97 333.9,524.04 331.2,521.07 328.5,520.6 325.8,521.74 323.1,520.51 320.4,520.24 317.7,518.86 315,519.24 312.3,516.72 309.6,514.73 306.9,518.02 304.2,513.9 301.5,516.19 298.8,512.52 296.1,514.33 293.4,512.54 290.7,515.27 288,515.12 285.3,512.12 282.6,510.26 279.9,511.07 277.2,506.82 274.5,509.93 271.8,508.89 269.1,507.35 266.4,505.24 263.7,503.98 261,501.59 258.3,501.45 255.6,501.58 252.9,501.8 250.2,497.26 247.5,497.06 244.8,495.9 242.1,496.51 239.4,491.6 236.7,493.47 234,492.15 231.3,493.78 228.6,489.27 225.9,488.95 223.2,487.68 220.5,488.6 217.8,484.9 215.1,485.69 212.4,482.53 209.7,482.55 207,479.47 204.3,480.77 201.6,478.93 198.9,475.99 196.2,476.53 193.5,475.27 190.8,475.26 188.1,473.52 185.4,473.84 182.7,469.59 180,470.16 177.3,467.83 174.6,467.28 171.9,467.91 169.2,468.46" fill="#7cfc00" fill-opacity="0.16"/>
<polygon points="169.2,396.14 171.9,398.68 174.6,399.71 177.3,397.76 180,400.4 182.7,400.5 185.4,403.98 188.1,401.92 190.8,402.27 193.5,408.02 196.2,406.78 198.9,404.94 201.6,409.42 204.3,407.14 207,408.52 209.7,409.64 212.4,412.77 215.1,412.35 217.8,411.83 220.5,414 223.2,413.05 225.9,418.38 228.6,417.29 231.3,417.64 234,417.63 236.7,416.99 239.4,421.83 242.1,421.53 244.8,423.6 247.5,424.54 250.2,421.33 252.9,425.43 255.6,422.84 258.3,427.19 261,426.64 263.7,427.59 266.4,429.48 269.1,430.46 271.8,428.88 274.5,428.28 277.2,433.34 279.9,434.4 282.6,431.42 285.3,434.69 288,434.17 290.7,434.37 293.4,434.99 296.1,436.21 298.8,440.97 301.5,437.52 304.2,439.12 306.9,438.03 309.6,442.2 312.3,440.84 315,444.52 317.7,444.44 320.4,444.33 323.1,446.76 325.8,448.99 328.5,448.82 331.2,447.42 333.9,451.1 336.6,446.74 339.3,451.3 342,451.71 344.7,451.61 347.4,452.56 350.1,454.17 352.8,454.67 355.5,456.03 358.2,452.94 360.9,454.15 363.6,457.81 366.3,456.7 369,457.12 371.7,456.81 374.4,457.25 377.1,459.7 379.8,461.41 382.5,463.02 385.2,464.48 387.9,465.75 390.6,463.61 393.3,464.04 396,464.2 398.7,467.89 398.7,556.04 396,557.49 393.3,553.35 390.6,553.34 387.9,555.54 385.2,550.96 382.5,551.37 379.8,551.42 377.1,548.79 374.4,547.79 371.7,547.4 369,550.15 366.3,544.04 363.6,547.4 360.9,547.68 358.2,543.46 355.5,544.16 352.8,545.36 350.1,541.85 347.4,540.09 344.7,540.35 342,541.93 339.3,539.34 336.6,535.6 333.9,535.3 331.2,534.14 328.5,535.52 325.8,532.24 323.1,533.78 320.4,530.97 317.7,533.36 315,533.28 312.3,531.17 309.6,527.01 306.9,525.56 304.2,525.33 301.5,527.31 298.8,526.95 296.1,521.3 293.4,525.45 290.7,524.2 288,523.5 285.3,519.04 282.6,516.61 279.9,519.86 277.2,517.22 274.5,515.38 271.8,515.3 269.1,511.82 266.4,511.67 263.7,512.96 261,509.72 258.3,510.55 255.6,510.79 252.9,509.85 250.2,507.15 247.5,506.63 244.8,504.66 242.1,501.83 239.4,503.08 236.7,501.39 234,502.25 231.3,496.46 228.6,500.11 225.9,496.41 223.2,495.94 220.5,493.87 217.8,493.21 215.1,494.01 212.4,493.16 209.7,488.29 207,487.03 204.3,488.65 201.6,484.84 198.9,485.15 196.2,482.01 193.5,480.97 190.8,482.89 188.1,480.4 185.4,478.01 182.7,476.42 180,479.12 177.3,477.53 174.6,476.29 171.9,473.77 169.2,471.47" fill="#32cd32" fill-opacity="0.15"/>
<rect x="82" y="466" width="93.5" height="94" fill="#fff" />
<polyline points="80.82,406.32 87.88,371.04 90.7,373.16 94.23,383.74 97.75,385.15 99.87,383.04 102.69,388.68 104.81,399.97 108.34,399.26 113.28,396.44 115.39,402.09 120.33,380.92 123.15,378.8 130.21,396.44 134.44,420.43 137.26,423.25 144.32,419.72 147.85,421.84 152.08,433.13 155.61,421.84 158.43,424.66 162.66,438.77 165.48,438.77 168.31,436.66" fill="none" stroke="#178a17" stroke-width="1.6" stroke-linejoin="round" />
<polyline points="80.82,400.67 87.88,353.4 91.4,357.64 94.23,369.63 96.34,373.16 99.17,370.34 102.69,377.39 105.52,393.62 108.34,392.91 112.57,386.56 114.97,396.44 120.33,364.69 123.15,362.58 129.5,380.92 133.74,421.84 137.26,430.31 142.91,423.25 146.44,423.25 149.96,435.95 152.78,439.48 155.61,421.84 158.43,423.25 161.25,444.42 164.07,452.88 170.42,449.36" fill="none" stroke="#000" stroke-width="2.6" stroke-linejoin="round" />
<polyline points="169.2,418.73 171.9,419.85 174.6,420.11 177.3,419.97 180,422.57 182.7,420.5 185.4,420.31 188.1,424.07 190.8,423.49 193.5,423.2 196.2,425.32 198.9,423.67 201.6,422.94 204.3,424.32 207,424.05 209.7,427.4 212.4,427.43 215.1,426.45 217.8,426.51 220.5,427.1 223.2,428.55 225.9,427.39 228.6,429.28 231.3,428.09 234,428.84 236.7,428.95 239.4,432.63 242.1,429.94 244.8,432.44 247.5,433.42 250.2,434.85 252.9,434.86 255.6,434.34 258.3,434.17 261,434.79 263.7,434.34 266.4,436.6 269.1,435.74 271.8,436.74 274.5,439.25 277.2,438.06 279.9,438.53 282.6,440.4 285.3,438.31 288,440.21 290.7,441.46 293.4,441.92 296.1,440.32 298.8,440.87 301.5,440.57 304.2,442.54 306.9,441.3 309.6,443.91 312.3,443.14 315,441.87 317.7,443.38 320.4,444.52 323.1,443.28 325.8,444.46 328.5,443.55 331.2,446.18 333.9,445.28 336.6,445.42 339.3,445.92 342,444.87 344.7,446.81 347.4,448.64 350.1,446.3 352.8,449.06 355.5,447.31 358.2,449.39 360.9,449.92 363.6,450.47 366.3,451.02 369,449.37 371.7,450.59 374.4,449.6 377.1,451.59 379.8,450.59 382.5,451.16 385.2,452.37 387.9,450.55 390.6,451.85 393.3,453.75 396,453.3 398.7,452.15" fill="none" stroke="#00eeff" stroke-width="2.0" stroke-linejoin="round" />
<polyline points="169.2,422.07 171.9,425.45 174.6,423.7 177.3,426.36 180,424.85 182.7,428.9 185.4,427.78 188.1,427.88 190.8,428.37 193.5,429.9 196.2,429.17 198.9,432.18 201.6,433.69 204.3,433.48 207,434.91 209.7,435.7 212.4,434.42 215.1,437.18 217.8,435.9 220.5,436.1 223.2,438.84 225.9,438.6 228.6,439.53 231.3,439.55 234,442.18 236.7,439.71 239.4,443.35 242.1,441.24 244.8,442.91 247.5,442.7 250.2,443.2 252.9,445.05 255.6,447.04 258.3,447.78 261,448.1 263.7,447.52 266.4,449.3 269.1,450.34 271.8,450.47 274.5,449.9 277.2,450.14 279.9,449.89 282.6,453.67 285.3,451.15 288,452.06 290.7,454.03 293.4,454.29 296.1,453.21 298.8,455.75 301.5,455.15 304.2,454.04 306.9,454.33 309.6,456.7 312.3,455.65 315,456.43 317.7,456.13 320.4,458.82 323.1,459.99 325.8,458.08 328.5,460.71 331.2,458.53 333.9,461 336.6,462.15 339.3,460.66 342,461.77 344.7,461.14 347.4,464.55 350.1,461.86 352.8,465.38 355.5,465.94 358.2,466.98 360.9,464.44 363.6,468.18 366.3,465.72 369,466.08 371.7,469.2 374.4,470.23 377.1,471.08 379.8,470.58 382.5,470.11 385.2,471.21 387.9,473 390.6,474.11 393.3,471.91 396,474.14 398.7,472.6" fill="none" stroke="#7fffd4" stroke-width="2.0" stroke-linejoin="round" />
<polyline points="169.2,427.27 171.9,427.68 174.6,428.35 177.3,429.47 180,432.37 182.7,430.78 185.4,433.59 188.1,433.28 190.8,435.69 193.5,436.63 196.2,438.01 198.9,436.26 201.6,440.33 204.3,438.77 207,440.05 209.7,443.47 212.4,441.53 215.1,445.37 217.8,445.47 220.5,444.52 223.2,445.12 225.9,447.25 228.6,447.62 231.3,447.27 234,449.04 236.7,448.67 239.4,452.21 242.1,453.4 244.8,452.99 247.5,452.18 250.2,455.65 252.9,455.31 255.6,457.48 258.3,455.74 261,457.37 263.7,459.73 266.4,461.07 269.1,460.58 271.8,462.3 274.5,460.87 277.2,463.1 279.9,462.68 282.6,463.29 285.3,465.03 288,464.13 290.7,465.56 293.4,467.23 296.1,468.58 298.8,467.49 301.5,467.69 304.2,470.36 306.9,470.28 309.6,470.51 312.3,472.72 315,472.35 317.7,473.07 320.4,472.38 323.1,472.32 325.8,473.07 328.5,475.9 331.2,475.62 333.9,476.07 336.6,477.74 339.3,479.09 342,476.79 344.7,480.34 347.4,478.04 350.1,481.89 352.8,480.61 355.5,480.24 358.2,482.85 360.9,482.08 363.6,483.89 366.3,482.94 369,486.32 371.7,483.94 374.4,486.55 377.1,486.97 379.8,487.68 382.5,489.26 385.2,487.57 387.9,488.92 390.6,490.08 393.3,492.98 396,491.93 398.7,493.16" fill="none" stroke="#7cfc00" stroke-width="2.0" stroke-linejoin="round" />
<polyline points="169.2,435.42 171.9,436.09 174.6,438.48 177.3,436.7 180,440.23 182.7,439.76 185.4,440.26 188.1,441.65 190.8,444.12 193.5,443.1 196.2,447.52 198.9,448.5 201.6,448.35 204.3,448.16 207,449.36 209.7,449.61 212.4,451.5 215.1,453.12 217.8,454.48 220.5,454.81 223.2,456.66 225.9,456.84 228.6,459.58 231.3,459.87 234,461.46 236.7,461.58 239.4,462.29 242.1,463.34 244.8,464.26 247.5,464.81 250.2,468.07 252.9,468.8 255.6,468.84 258.3,470.94 261,470.75 263.7,472.32 266.4,475.49 269.1,473.55 271.8,473.61 274.5,474.87 277.2,476.88 279.9,477.22 282.6,479.06 285.3,479.08 288,479.05 290.7,480.46 293.4,481.74 296.1,483.7 298.8,483.07 301.5,484.01 304.2,486.38 306.9,484.76 309.6,487.46 312.3,488.12 315,487.22 317.7,487.59 320.4,488.85 323.1,492.04 325.8,492.21 328.5,492.71 331.2,492.42 333.9,491.94 336.6,493.16 339.3,493.73 342,494.27 344.7,497.77 347.4,495.94 350.1,498.96 352.8,499.16 355.5,497.59 358.2,500.92 360.9,498.68 363.6,501.47 366.3,502.09 369,501.75 371.7,503.02 374.4,505.03 377.1,506.12 379.8,506.35 382.5,506.38 385.2,508.85 387.9,507.37 390.6,507.93 393.3,509.78 396,512.12 398.7,512.55" fill="none" stroke="#32cd32" stroke-width="2.0" stroke-linejoin="round" />
<rect x="80.6" y="319.6" width="322.0" height="243.10000000000002" fill="none" stroke="#333" stroke-width="1"/>
<line x1="77.1" y1="353.8" x2="80.6" y2="353.8" stroke="#333" stroke-width="1"/>
<text x="73.1" y="358.3" font-family="Liberation Sans, sans-serif" font-size="13" fill="#1a1a1a" stroke="#1a1a1a" stroke-width="0.3" text-anchor="end" textLength="35" lengthAdjust="spacingAndGlyphs">0.006</text>
<line x1="77.1" y1="424.1" x2="80.6" y2="424.1" stroke="#333" stroke-width="1"/>
<text x="73.1" y="428.6" font-family="Liberation Sans, sans-serif" font-size="13" fill="#1a1a1a" stroke="#1a1a1a" stroke-width="0.3" text-anchor="end" textLength="35" lengthAdjust="spacingAndGlyphs">0.000</text>
<line x1="77.1" y1="493.4" x2="80.6" y2="493.4" stroke="#333" stroke-width="1"/>
<text x="73.1" y="497.9" font-family="Liberation Sans, sans-serif" font-size="13" fill="#1a1a1a" stroke="#1a1a1a" stroke-width="0.3" text-anchor="end" textLength="45.2" lengthAdjust="spacingAndGlyphs">−0.006</text>
<line x1="77.1" y1="562.8" x2="80.6" y2="562.8" stroke="#333" stroke-width="1"/>
<text x="73.1" y="567.3" font-family="Liberation Sans, sans-serif" font-size="13" fill="#1a1a1a" stroke="#1a1a1a" stroke-width="0.3" text-anchor="end" textLength="45.2" lengthAdjust="spacingAndGlyphs">−0.012</text>
<line x1="80.7" y1="562.7" x2="80.7" y2="566.2" stroke="#333" stroke-width="1"/>
<text x="94.3" y="579.7" font-family="Liberation Sans, sans-serif" font-size="14" fill="#1a1a1a" stroke="#1a1a1a" stroke-width="0.3" text-anchor="end" textLength="31" lengthAdjust="spacingAndGlyphs" transform="rotate(-45 94.3 579.7)">1982</text>
<line x1="107.7" y1="562.7" x2="107.7" y2="566.2" stroke="#333" stroke-width="1"/>
<text x="121.3" y="579.7" font-family="Liberation Sans, sans-serif" font-size="14" fill="#1a1a1a" stroke="#1a1a1a" stroke-width="0.3" text-anchor="end" textLength="31" lengthAdjust="spacingAndGlyphs" transform="rotate(-45 121.3 579.7)">1992</text>
<line x1="134.7" y1="562.7" x2="134.7" y2="566.2" stroke="#333" stroke-width="1"/>
<text x="148.3" y="579.7" font-family="Liberation Sans, sans-serif" font-size="14" fill="#1a1a1a" stroke="#1a1a1a" stroke-width="0.3" text-anchor="end" textLength="31" lengthAdjust="spacingAndGlyphs" transform="rotate(-45 148.3 579.7)">2002</text>
<line x1="161.7" y1="562.7" x2="161.7" y2="566.2" stroke="#333" stroke-width="1"/>
<text x="175.3" y="579.7" font-family="Liberation Sans, sans-serif" font-size="14" fill="#1a1a1a" stroke="#1a1a1a" stroke-width="0.3" text-anchor="end" textLength="31" lengthAdjust="spacingAndGlyphs" transform="rotate(-45 175.3 579.7)">2012</text>
<line x1="188.7" y1="562.7" x2="188.7" y2="566.2" stroke="#333" stroke-width="1"/>
<text x="202.3" y="579.7" font-family="Liberation Sans, sans-serif" font-size="14" fill="#1a1a1a" stroke="#1a1a1a" stroke-width="0.3" text-anchor="end" textLength="31" lengthAdjust="spacingAndGlyphs" transform="rotate(-45 202.3 579.7)">2022</text>
<line x1="215.7" y1="562.7" x2="215.7" y2="566.2" stroke="#333" stroke-width="1"/>
<text x="229.3" y="579.7" font-family="Liberation Sans, sans-serif" font-size="14" fill="#1a1a1a" stroke="#1a1a1a" stroke-width="0.3" text-anchor="end" textLength="31" lengthAdjust="spacingAndGlyphs" transform="rotate(-45 229.3 579.7)">2032</text>
<line x1="242.7" y1="562.7" x2="242.7" y2="566.2" stroke="#333" stroke-width="1"/>
<text x="256.3" y="579.7" font-family="Liberation Sans, sans-serif" font-size="14" fill="#1a1a1a" stroke="#1a1a1a" stroke-width="0.3" text-anchor="end" textLength="31" lengthAdjust="spacingAndGlyphs" transform="rotate(-45 256.3 579.7)">2042</text>
<line x1="269.7" y1="562.7" x2="269.7" y2="566.2" stroke="#333" stroke-width="1"/>
<text x="283.3" y="579.7" font-family="Liberation Sans, sans-serif" font-size="14" fill="#1a1a1a" stroke="#1a1a1a" stroke-width="0.3" text-anchor="end" textLength="31" lengthAdjust="spacingAndGlyphs" transform="rotate(-45 283.3 579.7)">2052</text>
<line x1="296.7" y1="562.7" x2="296.7" y2="566.2" stroke="#333" stroke-width="1"/>
<text x="310.3" y="579.7" font-family="Liberation Sans, sans-serif" font-size="14" fill="#1a1a1a" stroke="#1a1a1a" stroke-width="0.3" text-anchor="end" textLength="31" lengthAdjust="spacingAndGlyphs" transform="rotate(-45 310.3 579.7)">2062</text>
<line x1="323.7" y1="562.7" x2="323.7" y2="566.2" stroke="#333" stroke-width="1"/>
<text x="337.3" y="579.7" font-family="Liberation Sans, sans-serif" font-size="14" fill="#1a1a1a" stroke="#1a1a1a" stroke-width="0.3" text-anchor="end" textLength="31" lengthAdjust="spacingAndGlyphs" transform="rotate(-45 337.3 579.7)">2072</text>
<line x1="350.7" y1="562.7" x2="350.7" y2="566.2" stroke="#333" stroke-width="1"/>
<text x="364.3" y="579.7" font-family="Liberation Sans, sans-serif" font-size="14" fill="#1a1a1a" stroke="#1a1a1a" stroke-width="0.3" text-anchor="end" textLength="31" lengthAdjust="spacingAndGlyphs" transform="rotate(-45 364.3 579.7)">2082</text>
<line x1="377.7" y1="562.7" x2="377.7" y2="566.2" stroke="#333" stroke-width="1"/>
<text x="391.3" y="579.7" font-family="Liberation Sans, sans-serif" font-size="14" fill="#1a1a1a" stroke="#1a1a1a" stroke-width="0.3" text-anchor="end" textLength="31" lengthAdjust="spacingAndGlyphs" transform="rotate(-45 391.3 579.7)">2092</text>
<text x="90.1" y="339.4" font-family="Liberation Sans, sans-serif" font-size="20" fill="#1a1a1a" stroke="#1a1a1a" stroke-width="0.3" textLength="138" lengthAdjust="spacingAndGlyphs">RZSM anomaly</text>
<text x="18.3" y="470.9" font-family="Liberation Sans, sans-serif" font-size="15" fill="#1a1a1a" stroke="#1a1a1a" stroke-width="0.3" textLength="12.6" lengthAdjust="spacingAndGlyphs" transform="rotate(-90 18.3 470.9)">m</text>
<text x="12.6" y="458.3" font-family="Liberation Sans, sans-serif" font-size="10.8" fill="#1a1a1a" stroke="#1a1a1a" stroke-width="0.3" textLength="6.6" lengthAdjust="spacingAndGlyphs" transform="rotate(-90 12.6 458.3)">3</text>
<text x="18.3" y="444.7" font-family="Liberation Sans, sans-serif" font-size="15" fill="#1a1a1a" stroke="#1a1a1a" stroke-width="0.3" textLength="12.6" lengthAdjust="spacingAndGlyphs" transform="rotate(-90 18.3 444.7)">m</text>
<text x="12.6" y="428.9" font-family="Liberation Sans, sans-serif" font-size="10.8" fill="#1a1a1a" stroke="#1a1a1a" stroke-width="0.3" textLength="8.4" lengthAdjust="spacingAndGlyphs" transform="rotate(-90 12.6 428.9)">−</text>
<text x="12.6" y="418.3" font-family="Liberation Sans, sans-serif" font-size="10.8" fill="#1a1a1a" stroke="#1a1a1a" stroke-width="0.3" textLength="6.6" lengthAdjust="spacingAndGlyphs" transform="rotate(-90 12.6 418.3)">3</text>
<rect x="119.2" y="529.3" width="10" height="26.9" fill="#00ffff" stroke="#222" stroke-width="0.8"/>
<rect x="132.3" y="516.5" width="10.5" height="39.7" fill="#7fffd4" stroke="#222" stroke-width="0.8"/>
<rect x="145.9" y="507.3" width="10" height="48.9" fill="#7cfc00" stroke="#222" stroke-width="0.8"/>
<rect x="159.3" y="494.6" width="10.4" height="61.6" fill="#32cd32" stroke="#222" stroke-width="0.8"/>
<line x1="113.6" y1="472.5" x2="113.6" y2="556.2" stroke="#999" stroke-width="1.1"/>
<line x1="112.7" y1="556.2" x2="174.8" y2="556.2" stroke="#333" stroke-width="1"/>
<line x1="111.3" y1="472.5" x2="113.6" y2="472.5" stroke="#555" stroke-width="0.8"/>
<text x="82.7" y="475.3" font-family="Liberation Sans, sans-serif" font-size="7.6" fill="#333" stroke="#333" stroke-width="0.15" textLength="26.9" lengthAdjust="spacingAndGlyphs">−0.0010</text>
<line x1="111.3" y1="514.5" x2="113.6" y2="514.5" stroke="#555" stroke-width="0.8"/>
<text x="82.7" y="517.3" font-family="Liberation Sans, sans-serif" font-size="7.6" fill="#333" stroke="#333" stroke-width="0.15" textLength="26.9" lengthAdjust="spacingAndGlyphs">−0.0005</text>
<line x1="111.3" y1="556.2" x2="113.6" y2="556.2" stroke="#555" stroke-width="0.8"/>
<text x="88" y="559" font-family="Liberation Sans, sans-serif" font-size="7.6" fill="#333" stroke="#333" stroke-width="0.15" textLength="21.6" lengthAdjust="spacingAndGlyphs">0.0000</text>
<circle cx="123.9" cy="522.3" r="2.6" fill="#ff0000" stroke="#222" stroke-width="0.5"/>
<circle cx="137.5" cy="513.8" r="2.6" fill="#ff0000" stroke="#222" stroke-width="0.5"/>
<circle cx="150.9" cy="500.4" r="2.6" fill="#ff0000" stroke="#222" stroke-width="0.5"/>
<circle cx="164.4" cy="484" r="2.6" fill="#ff0000" stroke="#222" stroke-width="0.5"/>
<polygon points="571,367.11 573.7,369.01 576.41,370 579.11,365.63 581.82,367.77 584.52,371.84 587.22,369.81 589.93,369.17 592.63,370.85 595.34,369.52 598.04,373.25 600.74,371.1 603.45,372.65 606.15,370.12 608.86,374.31 611.56,372.17 614.26,376.66 616.97,373.99 619.67,376.55 622.38,377.07 625.08,378.12 627.78,374.23 630.49,375.65 633.19,376.99 635.9,378.46 638.6,376.49 641.3,379.34 644.01,379.45 646.71,377.15 649.42,378.3 652.12,381.82 654.82,377.68 657.53,381.76 660.23,378.29 662.94,382.39 665.64,382.82 668.34,381.3 671.05,384.93 673.75,382.27 676.46,381.16 679.16,382.43 681.86,384.82 684.57,383.18 687.27,381.75 689.98,383.45 692.68,387.5 695.38,383.75 698.09,384.94 700.79,386.7 703.5,388.09 706.2,384.02 708.9,384.45 711.61,384.23 714.31,384.88 717.02,389.51 719.72,385.54 722.42,385 725.13,387.42 727.83,387.39 730.54,389.18 733.24,388.76 735.94,388.99 738.65,386.58 741.35,388.98 744.06,386.86 746.76,387.21 749.46,388.93 752.17,388.86 754.87,390.61 757.58,386.96 760.28,388.16 762.98,387.57 765.69,389.54 768.39,389.99 771.1,390.37 773.8,388.04 776.5,389.23 779.21,389.55 781.91,387.45 784.62,390.23 787.32,388.37 790.02,387.33 792.73,392.58 795.43,387.65 798.14,391.37 800.84,390.14 800.84,491.29 798.14,488.44 795.43,490.48 792.73,488.97 790.02,487.31 787.32,488.61 784.62,491.78 781.91,490.51 779.21,486.88 776.5,490.11 773.8,490.85 771.1,488.87 768.39,486.54 765.69,489.69 762.98,489.28 760.28,485.78 757.58,487.68 754.87,487.12 752.17,484.99 749.46,485.78 746.76,484.69 744.06,488.17 741.35,482.78 738.65,483.01 735.94,487.06 733.24,484.95 730.54,483.63 727.83,484.57 725.13,485.79 722.42,484.18 719.72,481.28 717.02,484.42 714.31,485.24 711.61,485.47 708.9,479.81 706.2,484.7 703.5,484.9 700.79,483.22 698.09,481.15 695.38,483.9 692.68,481.51 689.98,480.49 687.27,478.61 684.57,478.44 681.86,480.75 679.16,479.13 676.46,477.8 673.75,480.94 671.05,479.21 668.34,480.12 665.64,477.78 662.94,478.84 660.23,477.22 657.53,478.57 654.82,477.98 652.12,475.8 649.42,473.98 646.71,475.77 644.01,475.54 641.3,476.84 638.6,476.19 635.9,476.24 633.19,474.24 630.49,473.58 627.78,471.38 625.08,474.01 622.38,473.91 619.67,471.57 616.97,471.29 614.26,471.53 611.56,468.78 608.86,470 606.15,471.67 603.45,470.23 600.74,467.92 598.04,467.29 595.34,467.26 592.63,465.5 589.93,466.13 587.22,469.55 584.52,467.74 581.82,465.24 579.11,464.07 576.41,468.06 573.7,465.99 571,467.08" fill="#0000ff" fill-opacity="0.15"/>
<polygon points="571,372 573.7,369.04 576.41,369.15 579.11,371.67 581.82,371.99 584.52,374.21 587.22,373.76 589.93,374.55 592.63,374.27 595.34,375.85 598.04,380.39 600.74,377.53 603.45,380.87 606.15,382.5 608.86,382.98 611.56,380.44 614.26,381 616.97,381.12 619.67,381.88 622.38,383.58 625.08,388.86 627.78,386 630.49,388.8 633.19,387.82 635.9,388.65 638.6,391.72 641.3,387.68 644.01,390.3 646.71,389.12 649.42,391.97 652.12,391.26 654.82,393.23 657.53,394.58 660.23,393.52 662.94,395.6 665.64,396.34 668.34,395.72 671.05,396.26 673.75,396.82 676.46,397.54 679.16,396.34 681.86,396.84 684.57,397.6 687.27,401.57 689.98,398.29 692.68,401.37 695.38,399.77 698.09,399.65 700.79,403.51 703.5,402.88 706.2,406.29 708.9,403.13 711.61,402.83 714.31,406.01 717.02,404.6 719.72,407.4 722.42,407.97 725.13,406.47 727.83,405.94 730.54,405.02 733.24,407.42 735.94,406.33 738.65,410.31 741.35,409.26 744.06,410.05 746.76,411.4 749.46,410.34 752.17,411.73 754.87,413.35 757.58,411.66 760.28,414.49 762.98,411.14 765.69,410.89 768.39,410.75 771.1,416.21 773.8,415.02 776.5,413.08 779.21,415.3 781.91,417.78 784.62,417.92 787.32,414.12 790.02,415.49 792.73,415.84 795.43,417.76 798.14,419.12 800.84,417.2 800.84,491.45 798.14,487.64 795.43,491.07 792.73,491.3 790.02,491.92 787.32,487.78 784.62,488.99 781.91,487.99 779.21,490.17 776.5,486.59 773.8,489.75 771.1,489.86 768.39,485.86 765.69,488.02 762.98,485.63 760.28,484.39 757.58,485.42 754.87,486.84 752.17,488.66 749.46,485.4 746.76,485.54 744.06,487.55 741.35,483.15 738.65,486.36 735.94,486.76 733.24,484.12 730.54,483.99 727.83,485.46 725.13,484.57 722.42,484.63 719.72,483.58 717.02,484.31 714.31,482.12 711.61,480.46 708.9,484.09 706.2,480.3 703.5,482.92 700.79,479.59 698.09,481.73 695.38,480.28 692.68,483.34 689.98,483.52 687.27,480.86 684.57,479.37 681.86,480.87 679.16,477.31 676.46,481.11 673.75,480.76 671.05,479.91 668.34,478.49 665.64,477.92 662.94,476.22 660.23,476.78 657.53,477.59 654.82,478.5 652.12,474.66 649.42,475.15 646.71,474.68 644.01,475.98 641.3,471.76 638.6,474.32 635.9,473.69 633.19,476.01 630.49,472.19 627.78,472.56 625.08,471.98 622.38,473.59 619.67,470.58 616.97,472.06 614.26,469.6 611.56,470.31 608.86,467.92 606.15,469.91 603.45,468.76 600.74,466.51 598.04,467.75 595.34,467.17 592.63,467.85 589.93,466.8 587.22,467.81 584.52,464.25 581.82,465.52 579.11,463.88 576.41,464.02 573.7,465.34 571,466.57" fill="#7fffd4" fill-opacity="0.22"/>
<polygon points="571,370.51 573.7,373.28 576.41,374.53 579.11,372.81 581.82,375.67 584.52,376 587.22,379.71 589.93,377.87 592.63,378.45 595.34,384.43 598.04,383.42 600.74,381.8 603.45,386.51 606.15,384.45 608.86,386.07 611.56,387.41 614.26,390.77 616.97,390.57 619.67,390.28 622.38,392.68 625.08,391.96 627.78,397.33 630.49,396.27 633.19,396.64 635.9,396.66 638.6,396.04 641.3,400.92 644.01,400.65 646.71,402.8 649.42,403.83 652.12,400.71 654.82,404.9 657.53,402.41 660.23,406.85 662.94,406.4 665.64,407.43 668.34,409.42 671.05,410.48 673.75,408.99 676.46,408.48 679.16,413.64 681.86,414.79 684.57,411.91 687.27,415.09 689.98,414.39 692.68,414.42 695.38,414.86 698.09,415.9 700.79,420.48 703.5,416.85 706.2,418.27 708.9,417.01 711.61,420.99 714.31,419.46 717.02,422.95 719.72,422.7 722.42,422.41 725.13,424.66 727.83,426.76 730.54,426.49 733.24,424.99 735.94,428.58 738.65,424.11 741.35,428.58 744.06,428.89 746.76,428.61 749.46,429.22 752.17,430.48 754.87,430.65 757.58,431.67 760.28,428.23 762.98,429.11 765.69,432.42 768.39,430.97 771.1,431.06 773.8,430.41 776.5,430.5 779.21,432.61 781.91,433.98 784.62,435.25 787.32,436.37 790.02,437.29 792.73,434.82 795.43,434.9 798.14,434.72 800.84,438.08 800.84,536.44 798.14,538.11 795.43,534.19 792.73,534.4 790.02,536.82 787.32,532.46 784.62,533.08 781.91,533.36 779.21,530.94 776.5,530.16 773.8,529.99 771.1,532.95 768.39,527.07 765.69,530.65 762.98,531.15 760.28,527.14 757.58,528.06 754.87,529.48 752.17,526.2 749.46,524.65 746.76,525.13 744.06,526.96 741.35,524.63 738.65,521.15 735.94,521.12 733.24,520.21 730.54,521.85 727.83,518.84 725.13,520.71 722.42,518.35 719.72,521.19 717.02,521.56 714.31,519.89 711.61,516.18 708.9,515.18 706.2,515.4 703.5,517.83 700.79,517.92 698.09,512.72 695.38,517.32 692.68,516.52 689.98,516.26 687.27,512.26 684.57,510.21 681.86,513.73 679.16,511.36 676.46,509.79 673.75,509.97 671.05,506.77 668.34,506.89 665.64,508.44 662.94,505.55 660.23,506.78 657.53,507.43 654.82,506.9 652.12,504.6 649.42,504.49 646.71,502.93 644.01,500.5 641.3,502.16 638.6,500.87 635.9,502.15 633.19,496.76 630.49,500.82 627.78,497.53 625.08,497.44 622.38,495.5 619.67,494.96 616.97,495.89 614.26,495.16 611.56,490.41 608.86,489.28 606.15,491.03 603.45,487.35 600.74,487.78 598.04,484.77 595.34,483.85 592.63,485.9 589.93,483.54 587.22,481.27 584.52,479.81 581.82,482.63 579.11,481.17 576.41,480.05 573.7,477.66 571,475.48" fill="#7cfc00" fill-opacity="0.16"/>
<polygon points="571,374.93 573.7,377.44 576.41,376.74 579.11,377.25 581.82,382.48 584.52,382.95 587.22,384.05 589.93,384.9 592.63,383.1 595.34,386.08 598.04,390.58 600.74,386.82 603.45,392.52 606.15,393.8 608.86,390.38 611.56,394.94 614.26,395.58 616.97,397.04 619.67,397.6 622.38,397.68 625.08,398.97 627.78,401.45 630.49,401.52 633.19,404.71 635.9,403.63 638.6,403.08 641.3,404.11 644.01,404.57 646.71,409.27 649.42,407.88 652.12,408.34 654.82,412.88 657.53,412.39 660.23,410.67 662.94,414.25 665.64,413.08 668.34,416.97 671.05,414.83 673.75,417.65 676.46,421.13 679.16,421.61 681.86,418.52 684.57,424.51 687.27,423.64 689.98,424.7 692.68,425.56 695.38,427.09 698.09,423.58 700.79,427.91 703.5,428.97 706.2,429.64 708.9,425.88 711.61,428.63 714.31,429.61 717.02,430.8 719.72,431.36 722.42,430.05 725.13,435.56 727.83,431.13 730.54,434.73 733.24,435.46 735.94,438.27 738.65,434.76 741.35,434.84 744.06,440.04 746.76,435.82 749.46,440.68 752.17,441.01 754.87,442.08 757.58,442.81 760.28,439.7 762.98,439.98 765.69,440.88 768.39,443.63 771.1,440.58 773.8,444.38 776.5,445.89 779.21,445.45 781.91,446.46 784.62,444.52 787.32,444.26 790.02,444.89 792.73,448.08 795.43,444.85 798.14,447.52 800.84,448.19 800.84,549.03 798.14,550.04 795.43,551.74 792.73,547.58 790.02,551.5 787.32,547.74 784.62,546.21 781.91,545.73 779.21,546.27 776.5,543.66 773.8,545.71 771.1,545.75 768.39,546.99 765.69,545.4 762.98,541.73 760.28,545.7 757.58,541.87 754.87,545.15 752.17,540.55 749.46,543.81 746.76,542.46 744.06,541.37 741.35,537.55 738.65,541.24 735.94,539.06 733.24,537.97 730.54,535.16 727.83,538.81 725.13,534.02 722.42,535.16 719.72,533.84 717.02,535.55 714.31,534.57 711.61,531.85 708.9,532.04 706.2,529.1 703.5,531.94 700.79,530 698.09,527.49 695.38,528.55 692.68,529.01 689.98,527.85 687.27,522.52 684.57,522.14 681.86,523.9 679.16,525.05 676.46,519.3 673.75,518.08 671.05,519.99 668.34,518.43 665.64,517.35 662.94,517.81 660.23,517.9 657.53,516.46 654.82,514.78 652.12,510.96 649.42,511.61 646.71,510.07 644.01,510.1 641.3,506.77 638.6,508.69 635.9,504.17 633.19,503.69 630.49,506.18 627.78,502.51 625.08,500.25 622.38,499.65 619.67,498.44 616.97,500.94 614.26,497.48 611.56,496.11 608.86,494.24 606.15,496.96 603.45,495.18 600.74,494.69 598.04,493.75 595.34,491.4 592.63,490.73 589.93,486.65 587.22,489.38 584.52,488.76 581.82,484.32 579.11,485.93 576.41,484.09 573.7,483.43 571,480.16" fill="#32cd32" fill-opacity="0.15"/>
<rect x="484" y="466" width="93" height="94" fill="#fff" />
<polyline points="482.46,422.99 484.92,404.29 487.38,399.86 489.84,403.31 492.8,407.24 496.24,413.15 499.19,415.12 502.15,421.02 505.1,424.96 507.07,424.96 509.04,419.55 511.99,423.98 514.45,420.53 517.4,420.53 520.35,413.15 525.28,400.35 528.72,413.15 530.69,426.93 533.15,434.8 536.1,438.74 539.06,437.76 541.52,427.91 545.45,440.71 549.39,450.55 554.8,426.93 557.76,423.98 561.69,435.79 565.63,446.61 568.58,425.94 571.04,422.01" fill="none" stroke="#178a17" stroke-width="1.6" stroke-linejoin="round" />
<polyline points="482.46,423.98 484.43,394.45 487.38,389.53 489.84,396.42 492.8,401.34 496.24,410.2 499.19,414.13 502.15,421.02 505.1,425.45 507.07,425.45 509.04,419.55 511.99,424.47 514.45,420.53 517.4,420.04 520.35,413.15 525.28,390.51 528.72,403.31 530.69,424.96 533.15,436.77 536.1,446.12 539.06,443.66 541.52,427.91 545.45,454.49 549.39,461.87 554.8,427.91 557.76,422.99 561.69,435.79 565.63,450.06 568.58,430.87 571.04,415.61" fill="none" stroke="#000" stroke-width="2.6" stroke-linejoin="round" />
<polyline points="571,413.42 573.7,416.01 576.41,412.88 579.11,414.67 581.82,412.09 584.52,416.42 587.22,415.02 589.93,414.96 592.63,415.35 595.34,416.89 598.04,415.92 600.74,419.1 603.45,420.62 606.15,420.22 608.86,421.66 611.56,422.37 614.26,420.79 616.97,423.69 619.67,422.11 622.38,422.17 625.08,425.12 627.78,424.53 630.49,425.23 633.19,424.9 635.9,427.49 638.6,424.41 641.3,428.11 644.01,425.43 646.71,426.94 649.42,426.37 652.12,426.58 654.82,428.31 657.53,430.18 660.23,430.66 662.94,430.67 665.64,429.69 668.34,431.33 671.05,432.15 673.75,431.95 676.46,430.98 679.16,430.9 681.86,430.29 684.57,434.15 687.27,431.15 689.98,431.97 692.68,433.97 695.38,434.08 698.09,432.7 700.79,435.33 703.5,434.49 706.2,433.07 708.9,433.21 711.61,435.65 714.31,434.3 717.02,434.98 719.72,434.46 722.42,437.27 725.13,438.38 727.83,436.08 730.54,438.82 733.24,436.21 735.94,438.77 738.65,439.86 741.35,438.02 744.06,439.07 746.76,438.08 749.46,441.19 752.17,437.55 754.87,440.79 757.58,440.74 760.28,441.23 762.98,437.75 765.69,441.23 768.39,437.83 771.1,437.56 773.8,440.36 776.5,440.84 779.21,441.12 781.91,439.9 784.62,438.71 787.32,439.26 790.02,440.59 792.73,441.15 795.43,438.04 798.14,439.86 800.84,437.47" fill="none" stroke="#00eeff" stroke-width="2.0" stroke-linejoin="round" />
<polyline points="571,417.11 573.7,417.25 576.41,417.7 579.11,418.63 581.82,421.54 584.52,419.47 587.22,422.28 589.93,421.63 592.63,424 595.34,424.74 598.04,425.96 600.74,423.71 603.45,427.93 606.15,425.89 608.86,427 611.56,430.49 614.26,428.03 616.97,431.99 619.67,431.79 622.38,430.43 625.08,430.88 627.78,432.99 630.49,433.14 633.19,432.47 635.9,434.18 638.6,433.5 641.3,437.15 644.01,438.21 646.71,437.48 649.42,436.31 652.12,439.91 654.82,439.26 657.53,441.4 660.23,439.2 662.94,440.74 665.64,443.09 668.34,444.31 671.05,443.5 673.75,445.13 676.46,443.28 679.16,445.49 681.86,444.75 684.57,445.16 687.27,446.94 689.98,445.77 692.68,447.21 695.38,448.9 698.09,450.24 700.79,448.88 703.5,448.94 706.2,451.75 708.9,451.49 711.61,451.6 714.31,453.89 717.02,453.31 719.72,453.96 722.42,453.03 725.13,452.81 727.83,453.49 730.54,456.47 733.24,456 735.94,456.33 738.65,458.04 741.35,459.37 744.06,456.66 746.76,460.37 749.46,457.32 752.17,461.11 754.87,459.2 757.58,458.3 760.28,460.72 762.98,459.38 765.69,460.91 768.39,459.36 771.1,462.63 773.8,459.5 776.5,461.92 779.21,461.89 781.91,462.19 784.62,463.47 787.32,461.11 790.02,462.12 792.73,462.92 795.43,465.66 798.14,464.01 800.84,464.89" fill="none" stroke="#7fffd4" stroke-width="2.0" stroke-linejoin="round" />
<polyline points="571,420.2 573.7,420.63 576.41,422.99 579.11,420.7 581.82,424.31 584.52,423.48 587.22,423.73 589.93,424.97 592.63,427.4 595.34,425.97 598.04,430.58 600.74,431.36 603.45,430.89 606.15,430.43 608.86,431.52 611.56,431.55 614.26,433.4 616.97,434.95 619.67,436.21 622.38,436.34 625.08,438.14 627.78,438.05 630.49,440.79 633.19,440.82 635.9,442.28 638.6,442.12 641.3,442.61 644.01,443.48 646.71,444.2 649.42,444.51 652.12,447.84 654.82,448.35 657.53,448.1 660.23,450.12 662.94,449.62 665.64,451.19 668.34,454.72 671.05,452.56 673.75,452.63 676.46,454.03 679.16,456.27 681.86,456.65 684.57,458.69 687.27,458.55 689.98,458.25 692.68,459.54 695.38,460.69 698.09,462.6 700.79,461.63 703.5,462.41 706.2,464.78 708.9,462.7 711.61,465.43 714.31,465.9 717.02,464.63 719.72,464.77 722.42,465.9 725.13,469.18 727.83,469.2 730.54,469.63 733.24,469.19 735.94,468.53 738.65,469.78 741.35,470.29 744.06,470.77 746.76,474.54 749.46,472.38 752.17,475.62 754.87,475.73 757.58,473.87 760.28,477.45 762.98,474.84 765.69,477.83 768.39,478.34 771.1,477.71 773.8,478.87 776.5,480.85 779.21,481.81 781.91,481.82 784.62,481.6 787.32,484.1 790.02,482.2 792.73,482.58 795.43,484.38 798.14,486.73 800.84,486.95" fill="none" stroke="#7cfc00" stroke-width="2.0" stroke-linejoin="round" />
<polyline points="571,425.08 573.7,424.3 576.41,424.37 579.11,427.07 581.82,428.38 584.52,429.79 587.22,428.62 589.93,432.34 592.63,431.63 595.34,434.67 598.04,435.98 600.74,436.47 603.45,436.89 606.15,440.12 608.86,441 611.56,439.35 614.26,442.1 616.97,443.16 619.67,444.84 622.38,446.89 625.08,444.53 627.78,445.95 630.49,446.96 633.19,449.03 635.9,451.87 638.6,453.62 641.3,452.15 644.01,453.82 646.71,453.7 649.42,457.68 652.12,458.2 654.82,457.02 657.53,458.77 660.23,460.77 662.94,459.63 665.64,463.85 668.34,464.2 671.05,462.79 673.75,467.02 676.46,466.5 679.16,465.98 681.86,468.91 684.57,469.47 687.27,471.12 689.98,473.45 692.68,473.93 695.38,474.15 698.09,473.73 700.79,475.4 703.5,473.46 706.2,476.75 708.9,476.43 711.61,479.08 714.31,479.97 717.02,480.82 719.72,479.96 722.42,482.26 725.13,481.43 727.83,481.12 730.54,482.42 733.24,483.01 735.94,484.88 738.65,485.2 741.35,486.86 744.06,485.47 746.76,487.56 749.46,487.06 752.17,486.79 754.87,486.71 757.58,489.52 760.28,491.48 762.98,492.16 765.69,492.25 768.39,493.17 771.1,492.39 773.8,492.27 776.5,495.1 779.21,492.09 781.91,495.14 784.62,494.85 787.32,496.68 790.02,496.08 792.73,496.02 795.43,495.85 798.14,497.63 800.84,500.36" fill="none" stroke="#32cd32" stroke-width="2.0" stroke-linejoin="round" />
<rect x="482.4" y="319.6" width="321.80000000000007" height="243.10000000000002" fill="none" stroke="#333" stroke-width="1"/>
<line x1="478.9" y1="353.8" x2="482.4" y2="353.8" stroke="#333" stroke-width="1"/>
<text x="474.9" y="358.3" font-family="Liberation Sans, sans-serif" font-size="13" fill="#1a1a1a" stroke="#1a1a1a" stroke-width="0.3" text-anchor="end" textLength="35" lengthAdjust="spacingAndGlyphs">0.006</text>
<line x1="478.9" y1="424.1" x2="482.4" y2="424.1" stroke="#333" stroke-width="1"/>
<text x="474.9" y="428.6" font-family="Liberation Sans, sans-serif" font-size="13" fill="#1a1a1a" stroke="#1a1a1a" stroke-width="0.3" text-anchor="end" textLength="35" lengthAdjust="spacingAndGlyphs">0.000</text>
<line x1="478.9" y1="493.4" x2="482.4" y2="493.4" stroke="#333" stroke-width="1"/>
<text x="474.9" y="497.9" font-family="Liberation Sans, sans-serif" font-size="13" fill="#1a1a1a" stroke="#1a1a1a" stroke-width="0.3" text-anchor="end" textLength="45.2" lengthAdjust="spacingAndGlyphs">−0.006</text>
<line x1="478.9" y1="562.8" x2="482.4" y2="562.8" stroke="#333" stroke-width="1"/>
<text x="474.9" y="567.3" font-family="Liberation Sans, sans-serif" font-size="13" fill="#1a1a1a" stroke="#1a1a1a" stroke-width="0.3" text-anchor="end" textLength="45.2" lengthAdjust="spacingAndGlyphs">−0.012</text>
<line x1="482.3" y1="562.7" x2="482.3" y2="566.2" stroke="#333" stroke-width="1"/>
<text x="495.9" y="579.7" font-family="Liberation Sans, sans-serif" font-size="14" fill="#1a1a1a" stroke="#1a1a1a" stroke-width="0.3" text-anchor="end" textLength="31" lengthAdjust="spacingAndGlyphs" transform="rotate(-45 495.9 579.7)">1982</text>
<line x1="509.34" y1="562.7" x2="509.34" y2="566.2" stroke="#333" stroke-width="1"/>
<text x="522.94" y="579.7" font-family="Liberation Sans, sans-serif" font-size="14" fill="#1a1a1a" stroke="#1a1a1a" stroke-width="0.3" text-anchor="end" textLength="31" lengthAdjust="spacingAndGlyphs" transform="rotate(-45 522.94 579.7)">1992</text>
<line x1="536.38" y1="562.7" x2="536.38" y2="566.2" stroke="#333" stroke-width="1"/>
<text x="549.98" y="579.7" font-family="Liberation Sans, sans-serif" font-size="14" fill="#1a1a1a" stroke="#1a1a1a" stroke-width="0.3" text-anchor="end" textLength="31" lengthAdjust="spacingAndGlyphs" transform="rotate(-45 549.98 579.7)">2002</text>
<line x1="563.42" y1="562.7" x2="563.42" y2="566.2" stroke="#333" stroke-width="1"/>
<text x="577.02" y="579.7" font-family="Liberation Sans, sans-serif" font-size="14" fill="#1a1a1a" stroke="#1a1a1a" stroke-width="0.3" text-anchor="end" textLength="31" lengthAdjust="spacingAndGlyphs" transform="rotate(-45 577.02 579.7)">2012</text>
<line x1="590.46" y1="562.7" x2="590.46" y2="566.2" stroke="#333" stroke-width="1"/>
<text x="604.06" y="579.7" font-family="Liberation Sans, sans-serif" font-size="14" fill="#1a1a1a" stroke="#1a1a1a" stroke-width="0.3" text-anchor="end" textLength="31" lengthAdjust="spacingAndGlyphs" transform="rotate(-45 604.06 579.7)">2022</text>
<line x1="617.5" y1="562.7" x2="617.5" y2="566.2" stroke="#333" stroke-width="1"/>
<text x="631.1" y="579.7" font-family="Liberation Sans, sans-serif" font-size="14" fill="#1a1a1a" stroke="#1a1a1a" stroke-width="0.3" text-anchor="end" textLength="31" lengthAdjust="spacingAndGlyphs" transform="rotate(-45 631.1 579.7)">2032</text>
<line x1="644.54" y1="562.7" x2="644.54" y2="566.2" stroke="#333" stroke-width="1"/>
<text x="658.14" y="579.7" font-family="Liberation Sans, sans-serif" font-size="14" fill="#1a1a1a" stroke="#1a1a1a" stroke-width="0.3" text-anchor="end" textLength="31" lengthAdjust="spacingAndGlyphs" transform="rotate(-45 658.14 579.7)">2042</text>
<line x1="671.58" y1="562.7" x2="671.58" y2="566.2" stroke="#333" stroke-width="1"/>
<text x="685.18" y="579.7" font-family="Liberation Sans, sans-serif" font-size="14" fill="#1a1a1a" stroke="#1a1a1a" stroke-width="0.3" text-anchor="end" textLength="31" lengthAdjust="spacingAndGlyphs" transform="rotate(-45 685.18 579.7)">2052</text>
<line x1="698.62" y1="562.7" x2="698.62" y2="566.2" stroke="#333" stroke-width="1"/>
<text x="712.22" y="579.7" font-family="Liberation Sans, sans-serif" font-size="14" fill="#1a1a1a" stroke="#1a1a1a" stroke-width="0.3" text-anchor="end" textLength="31" lengthAdjust="spacingAndGlyphs" transform="rotate(-45 712.22 579.7)">2062</text>
<line x1="725.66" y1="562.7" x2="725.66" y2="566.2" stroke="#333" stroke-width="1"/>
<text x="739.26" y="579.7" font-family="Liberation Sans, sans-serif" font-size="14" fill="#1a1a1a" stroke="#1a1a1a" stroke-width="0.3" text-anchor="end" textLength="31" lengthAdjust="spacingAndGlyphs" transform="rotate(-45 739.26 579.7)">2072</text>
<line x1="752.7" y1="562.7" x2="752.7" y2="566.2" stroke="#333" stroke-width="1"/>
<text x="766.3" y="579.7" font-family="Liberation Sans, sans-serif" font-size="14" fill="#1a1a1a" stroke="#1a1a1a" stroke-width="0.3" text-anchor="end" textLength="31" lengthAdjust="spacingAndGlyphs" transform="rotate(-45 766.3 579.7)">2082</text>
<line x1="779.74" y1="562.7" x2="779.74" y2="566.2" stroke="#333" stroke-width="1"/>
<text x="793.34" y="579.7" font-family="Liberation Sans, sans-serif" font-size="14" fill="#1a1a1a" stroke="#1a1a1a" stroke-width="0.3" text-anchor="end" textLength="31" lengthAdjust="spacingAndGlyphs" transform="rotate(-45 793.34 579.7)">2092</text>
<text x="492.4" y="339.4" font-family="Liberation Sans, sans-serif" font-size="20" fill="#1a1a1a" stroke="#1a1a1a" stroke-width="0.3" textLength="124.5" lengthAdjust="spacingAndGlyphs">SSM anomaly</text>
<text x="420.1" y="470.9" font-family="Liberation Sans, sans-serif" font-size="15" fill="#1a1a1a" stroke="#1a1a1a" stroke-width="0.3" textLength="12.6" lengthAdjust="spacingAndGlyphs" transform="rotate(-90 420.1 470.9)">m</text>
<text x="414.4" y="458.3" font-family="Liberation Sans, sans-serif" font-size="10.8" fill="#1a1a1a" stroke="#1a1a1a" stroke-width="0.3" textLength="6.6" lengthAdjust="spacingAndGlyphs" transform="rotate(-90 414.4 458.3)">3</text>
<text x="420.1" y="444.7" font-family="Liberation Sans, sans-serif" font-size="15" fill="#1a1a1a" stroke="#1a1a1a" stroke-width="0.3" textLength="12.6" lengthAdjust="spacingAndGlyphs" transform="rotate(-90 420.1 444.7)">m</text>
<text x="414.4" y="428.9" font-family="Liberation Sans, sans-serif" font-size="10.8" fill="#1a1a1a" stroke="#1a1a1a" stroke-width="0.3" textLength="8.4" lengthAdjust="spacingAndGlyphs" transform="rotate(-90 414.4 428.9)">−</text>
<text x="414.4" y="418.3" font-family="Liberation Sans, sans-serif" font-size="10.8" fill="#1a1a1a" stroke="#1a1a1a" stroke-width="0.3" textLength="6.6" lengthAdjust="spacingAndGlyphs" transform="rotate(-90 414.4 418.3)">3</text>
<rect x="520.5" y="535.1" width="10.5" height="21.1" fill="#00ffff" stroke="#222" stroke-width="0.8"/>
<rect x="534.2" y="514.7" width="10.2" height="41.5" fill="#7fffd4" stroke="#222" stroke-width="0.8"/>
<rect x="547.6" y="506.4" width="10.2" height="49.8" fill="#7cfc00" stroke="#222" stroke-width="0.8"/>
<rect x="561.2" y="493.3" width="10.3" height="62.9" fill="#32cd32" stroke="#222" stroke-width="0.8"/>
<line x1="515.4" y1="472.5" x2="515.4" y2="556.2" stroke="#999" stroke-width="1.1"/>
<line x1="514.5" y1="556.2" x2="576.6" y2="556.2" stroke="#333" stroke-width="1"/>
<line x1="513.1" y1="472.5" x2="515.4" y2="472.5" stroke="#555" stroke-width="0.8"/>
<text x="484.9" y="475.3" font-family="Liberation Sans, sans-serif" font-size="7.6" fill="#333" stroke="#333" stroke-width="0.15" textLength="26.5" lengthAdjust="spacingAndGlyphs">−0.0010</text>
<line x1="513.1" y1="514.5" x2="515.4" y2="514.5" stroke="#555" stroke-width="0.8"/>
<text x="484.9" y="517.3" font-family="Liberation Sans, sans-serif" font-size="7.6" fill="#333" stroke="#333" stroke-width="0.15" textLength="26.5" lengthAdjust="spacingAndGlyphs">−0.0005</text>
<line x1="513.1" y1="556.2" x2="515.4" y2="556.2" stroke="#555" stroke-width="0.8"/>
<text x="489.7" y="559" font-family="Liberation Sans, sans-serif" font-size="7.6" fill="#333" stroke="#333" stroke-width="0.15" textLength="21.7" lengthAdjust="spacingAndGlyphs">0.0000</text>
<circle cx="525.8" cy="523.5" r="2.6" fill="#ff0000" stroke="#222" stroke-width="0.5"/>
<circle cx="539.2" cy="508.1" r="2.6" fill="#ff0000" stroke="#222" stroke-width="0.5"/>
<circle cx="552.7" cy="494.9" r="2.6" fill="#ff0000" stroke="#222" stroke-width="0.5"/>
<circle cx="566.2" cy="484" r="2.6" fill="#ff0000" stroke="#222" stroke-width="0.5"/>
<polygon points="973.2,362.21 975.9,359.28 978.59,359.42 981.29,361.97 983.99,362.31 986.69,364.57 989.38,364.15 992.08,364.97 994.78,364.72 997.47,366.32 1000.17,370.89 1002.87,368.06 1005.56,371.43 1008.26,373.09 1010.96,373.59 1013.66,371.08 1016.35,371.67 1019.05,371.82 1021.75,372.61 1024.44,374.34 1027.14,379.62 1029.84,376.83 1032.53,379.72 1035.23,378.83 1037.93,379.76 1040.62,382.91 1043.32,378.95 1046.02,381.66 1048.72,380.57 1051.41,383.51 1054.11,382.89 1056.81,384.95 1059.5,386.38 1062.2,385.41 1064.9,387.58 1067.6,388.41 1070.29,387.88 1072.99,388.51 1075.69,389.16 1078.38,389.96 1081.08,388.86 1083.78,389.45 1086.47,390.29 1089.17,394.31 1091.87,390.94 1094.57,393.93 1097.26,392.24 1099.96,392.03 1102.66,395.8 1105.35,395.07 1108.05,398.39 1110.75,395.14 1113.44,394.75 1116.14,397.84 1118.84,396.34 1121.54,399.05 1124.23,399.53 1126.93,397.94 1129.63,397.32 1132.32,396.3 1135.02,398.61 1137.72,397.44 1140.41,401.32 1143.11,400.18 1145.81,400.88 1148.51,402.16 1151.2,401.1 1153.9,402.5 1156.6,404.14 1159.29,402.47 1161.99,405.32 1164.69,401.99 1167.38,401.76 1170.08,401.63 1172.78,407.11 1175.48,405.95 1178.17,404.02 1180.87,406.26 1183.57,408.76 1186.26,408.91 1188.96,405.13 1191.66,406.52 1194.35,406.88 1197.05,408.82 1199.75,410.21 1202.45,408.3 1202.45,512.63 1199.75,508.52 1197.05,511.67 1194.35,511.61 1191.66,511.94 1188.96,507.51 1186.26,508.42 1183.57,507.13 1180.87,509.02 1178.17,505.15 1175.48,508.02 1172.78,507.84 1170.08,503.55 1167.38,505.41 1164.69,502.73 1161.99,501.21 1159.29,501.94 1156.6,503.07 1153.9,504.59 1151.2,501.05 1148.51,500.9 1145.81,502.62 1143.11,497.93 1140.41,500.84 1137.72,500.95 1135.02,498.02 1132.32,497.6 1129.63,498.78 1126.93,497.6 1124.23,497.37 1121.54,496.03 1118.84,496.46 1116.14,493.98 1113.44,492.03 1110.75,495.37 1108.05,491.29 1105.35,493.62 1102.66,490 1099.96,491.85 1097.26,490.11 1094.57,492.87 1091.87,492.77 1089.17,489.81 1086.47,488.11 1083.78,489.51 1081.08,485.85 1078.38,489.54 1075.69,489.09 1072.99,488.14 1070.29,486.62 1067.6,485.95 1064.9,484.15 1062.2,484.6 1059.5,485.31 1056.81,486.12 1054.11,482.18 1051.41,482.56 1048.72,481.99 1046.02,483.18 1043.32,478.86 1040.62,481.32 1037.93,480.59 1035.23,482.81 1032.53,478.89 1029.84,479.16 1027.14,478.48 1024.44,479.98 1021.75,476.87 1019.05,478.25 1016.35,475.68 1013.66,476.29 1010.96,473.8 1008.26,475.69 1005.56,474.43 1002.87,472.08 1000.17,473.22 997.47,472.54 994.78,473.12 992.08,471.97 989.38,472.87 986.69,469.21 983.99,470.38 981.29,468.64 978.59,468.67 975.9,469.89 973.2,471.02" fill="#0000ff" fill-opacity="0.15"/>
<polygon points="973.2,364.86 975.9,367.47 978.59,368.56 981.29,366.66 983.99,369.36 986.69,369.52 989.38,373.06 992.08,371.06 994.78,371.47 997.47,377.28 1000.17,376.1 1002.87,374.31 1005.56,378.86 1008.26,376.63 1010.96,378.08 1013.66,379.25 1016.35,382.44 1019.05,382.08 1021.75,381.61 1024.44,383.85 1027.14,382.97 1029.84,388.42 1032.53,387.44 1035.23,387.9 1037.93,388.01 1040.62,387.48 1043.32,392.44 1046.02,392.25 1048.72,394.5 1051.41,395.62 1054.11,392.58 1056.81,396.86 1059.5,394.46 1062.2,398.98 1064.9,398.62 1067.6,399.74 1070.29,401.81 1072.99,402.96 1075.69,401.56 1078.38,401.14 1081.08,406.39 1083.78,407.63 1086.47,404.83 1089.17,408.08 1091.87,407.3 1094.57,407.23 1097.26,407.58 1099.96,408.53 1102.66,413.02 1105.35,409.29 1108.05,410.62 1110.75,409.27 1113.44,413.16 1116.14,411.53 1118.84,414.94 1121.54,414.59 1124.23,414.21 1126.93,416.37 1129.63,418.38 1132.32,418.01 1135.02,416.43 1137.72,419.92 1140.41,415.36 1143.11,419.74 1145.81,419.96 1148.51,419.67 1151.2,420.29 1153.9,421.47 1156.6,421.55 1159.29,422.48 1161.99,418.97 1164.69,419.76 1167.38,422.98 1170.08,421.46 1172.78,421.46 1175.48,420.72 1178.17,420.73 1180.87,422.75 1183.57,424.04 1186.26,425.23 1188.96,426.26 1191.66,427.11 1194.35,424.55 1197.05,424.55 1199.75,424.28 1202.45,427.55 1202.45,513.59 1199.75,515.36 1197.05,511.55 1194.35,511.87 1191.66,514.39 1188.96,510.14 1186.26,510.87 1183.57,511.25 1180.87,508.95 1178.17,508.27 1175.48,508.21 1172.78,511.27 1170.08,505.5 1167.38,509.18 1164.69,509.79 1161.99,505.89 1159.29,506.92 1156.6,508.44 1153.9,505.26 1151.2,503.82 1148.51,504.41 1145.81,506.31 1143.11,504.05 1140.41,500.63 1137.72,500.66 1135.02,499.82 1132.32,501.53 1129.63,498.57 1126.93,500.51 1124.23,498.21 1121.54,501.11 1118.84,501.55 1116.14,499.95 1113.44,496.3 1110.75,495.36 1108.05,495.64 1105.35,498.13 1102.66,498.29 1099.96,493.15 1097.26,497.81 1094.57,497.08 1091.87,496.89 1089.17,492.94 1086.47,490.99 1083.78,494.7 1081.08,492.53 1078.38,491.15 1075.69,491.52 1072.99,488.51 1070.29,488.82 1067.6,490.56 1064.9,487.87 1062.2,489.29 1059.5,490.13 1056.81,489.79 1054.11,487.68 1051.41,487.77 1048.72,486.39 1046.02,484.16 1043.32,486.01 1040.62,484.91 1037.93,486.38 1035.23,481.18 1032.53,485.43 1029.84,482.33 1027.14,482.46 1024.44,480.98 1021.75,480.92 1019.05,482.32 1016.35,482.07 1013.66,477.79 1010.96,477.13 1008.26,479.35 1005.56,476.14 1002.87,477.05 1000.17,474.5 997.47,474.06 994.78,476.58 992.08,474.69 989.38,472.89 986.69,471.9 983.99,475.19 981.29,474.21 978.59,473.56 975.9,471.64 973.2,469.93" fill="#7fffd4" fill-opacity="0.22"/>
<polygon points="973.2,367.31 975.9,370.08 978.59,369.63 981.29,370.39 983.99,375.87 986.69,376.59 989.38,377.94 992.08,379.04 994.78,377.49 997.47,380.73 1000.17,385.47 1002.87,381.97 1005.56,387.92 1008.26,389.45 1010.96,386.27 1013.66,391.09 1016.35,391.98 1019.05,393.69 1021.75,394.5 1024.44,394.83 1027.14,396.34 1029.84,399.17 1032.53,399.59 1035.23,403.14 1037.93,402.41 1040.62,402.23 1043.32,403.61 1046.02,404.43 1048.72,409.49 1051.41,408.45 1054.11,409.28 1056.81,414.17 1059.5,414.04 1062.2,412.67 1064.9,416.61 1067.6,415.79 1070.29,420.04 1072.99,418.26 1075.69,421.44 1078.38,425.27 1081.08,426.11 1083.78,423.38 1086.47,429.72 1089.17,429.12 1091.87,430.18 1094.57,431.03 1097.26,432.56 1099.96,429.06 1102.66,433.38 1105.35,434.44 1108.05,435.11 1110.75,431.35 1113.44,434.09 1116.14,435.07 1118.84,436.26 1121.54,436.82 1124.23,435.51 1126.93,441.01 1129.63,436.59 1132.32,440.18 1135.02,440.91 1137.72,443.72 1140.41,440.2 1143.11,440.28 1145.81,445.48 1148.51,441.34 1151.2,446.49 1153.9,447.15 1156.6,448.54 1159.29,449.6 1161.99,446.82 1164.69,447.42 1167.38,448.65 1170.08,451.74 1172.78,449.01 1175.48,453.14 1178.17,454.98 1180.87,454.87 1183.57,456.2 1186.26,454.59 1188.96,454.66 1191.66,455.62 1194.35,459.13 1197.05,456.23 1199.75,459.23 1202.45,460.23 1202.45,550.92 1199.75,551.71 1197.05,553.18 1194.35,548.79 1191.66,552.49 1188.96,548.5 1186.26,546.74 1183.57,546.04 1180.87,546.35 1178.17,543.52 1175.48,545.34 1172.78,545.15 1170.08,546.16 1167.38,544.35 1164.69,540.46 1161.99,544.2 1159.29,540.15 1156.6,543.2 1153.9,538.37 1151.2,541.41 1148.51,539.82 1145.81,538.66 1143.11,534.84 1140.41,538.54 1137.72,536.35 1135.02,535.26 1132.32,532.46 1129.63,536.11 1126.93,531.32 1124.23,532.46 1121.54,531.14 1118.84,532.86 1116.14,531.88 1113.44,529.16 1110.75,529.35 1108.05,526.42 1105.35,529.26 1102.66,527.32 1099.96,524.81 1097.26,525.87 1094.57,526.33 1091.87,525.18 1089.17,519.85 1086.47,519.41 1083.78,521.17 1081.08,522.33 1078.38,516.59 1075.69,515.36 1072.99,517.28 1070.29,515.72 1067.6,514.64 1064.9,515.1 1062.2,515.2 1059.5,513.76 1056.81,512.08 1054.11,508.26 1051.41,508.91 1048.72,507.37 1046.02,507.41 1043.32,504.08 1040.62,506.01 1037.93,501.49 1035.23,501.02 1032.53,503.5 1029.84,499.84 1027.14,497.59 1024.44,497.14 1021.75,496.1 1019.05,498.77 1016.35,495.48 1013.66,494.28 1010.96,492.57 1008.26,495.46 1005.56,493.85 1002.87,493.53 1000.17,492.76 997.47,490.57 994.78,490.08 992.08,486.16 989.38,489.06 986.69,488.61 983.99,484.34 981.29,486.12 978.59,484.44 975.9,483.95 973.2,480.84" fill="#7cfc00" fill-opacity="0.16"/>
<polygon points="973.2,406.22 975.9,406.75 978.59,410.19 981.29,407.64 983.99,412.74 986.69,413.51 989.38,414.39 992.08,417.54 994.78,414.8 997.47,414.87 1000.17,419.62 1002.87,422.15 1005.56,422.88 1008.26,420.22 1010.96,422.08 1013.66,424.47 1016.35,427.99 1019.05,430.32 1021.75,427.96 1024.44,431.87 1027.14,433.44 1029.84,432.75 1032.53,436.46 1035.23,437.86 1037.93,435.66 1040.62,441.13 1043.32,439.74 1046.02,442.06 1048.72,440.77 1051.41,445.37 1054.11,443.9 1056.81,445.01 1059.5,446.32 1062.2,450.52 1064.9,450.24 1067.6,449.47 1070.29,453.66 1072.99,454.5 1075.69,455.16 1078.38,456.64 1081.08,454.76 1083.78,459.84 1086.47,460.2 1089.17,458.8 1091.87,459.42 1094.57,461.89 1097.26,466.91 1099.96,463.58 1102.66,463.89 1105.35,464.38 1108.05,467.19 1110.75,470.79 1113.44,468.47 1116.14,473.48 1118.84,474.77 1121.54,470.29 1124.23,475.61 1126.93,476.04 1129.63,476.08 1132.32,475.69 1135.02,478.89 1137.72,480.51 1140.41,479.81 1143.11,483.67 1145.81,481.9 1148.51,483.87 1151.2,483.53 1153.9,483.6 1156.6,488.44 1159.29,488.02 1161.99,488.88 1164.69,486.41 1167.38,492.3 1170.08,490.59 1172.78,491.93 1175.48,491.04 1178.17,493.32 1180.87,494.14 1183.57,494.16 1186.26,498.81 1188.96,498.3 1191.66,501.39 1194.35,501.85 1197.05,501.94 1199.75,499.81 1202.45,504.86 1202.45,558.53 1199.75,559.25 1197.05,559.46 1194.35,555.09 1191.66,555.43 1188.96,553.47 1186.26,553.39 1183.57,551.39 1180.87,552.49 1178.17,549.06 1175.48,547.25 1172.78,545.33 1170.08,547.65 1167.38,546.86 1164.69,542.14 1161.99,546.24 1159.29,540.64 1156.6,543.52 1153.9,540.34 1151.2,540.59 1148.51,537.12 1145.81,538.78 1143.11,535.27 1140.41,538.41 1137.72,536.83 1135.02,534.27 1132.32,533.9 1129.63,529.83 1126.93,529.62 1124.23,532.1 1121.54,529.32 1118.84,530.84 1116.14,525.61 1113.44,528.11 1110.75,524.71 1108.05,525.45 1105.35,522.04 1102.66,525.26 1099.96,522.85 1097.26,522.35 1094.57,517.87 1091.87,519.63 1089.17,521.28 1086.47,516.25 1083.78,517.62 1081.08,513.27 1078.38,512.89 1075.69,515.03 1072.99,514.73 1070.29,513.74 1067.6,509.37 1064.9,512.36 1062.2,509.26 1059.5,506.26 1056.81,510.3 1054.11,508.12 1051.41,503.99 1048.72,506.59 1046.02,501.87 1043.32,502.32 1040.62,505.14 1037.93,503.32 1035.23,500.91 1032.53,501.51 1029.84,498.37 1027.14,496.79 1024.44,497.16 1021.75,495.79 1019.05,493.78 1016.35,493.77 1013.66,496.56 1010.96,495.97 1008.26,490.09 1005.56,490.53 1002.87,493.93 1000.17,488.85 997.47,492.55 994.78,491.66 992.08,490.37 989.38,485.88 986.69,487 983.99,487.78 981.29,484.91 978.59,482.66 975.9,484.37 973.2,484.59" fill="#32cd32" fill-opacity="0.15"/>
<rect x="886" y="460" width="87.5" height="100" fill="#fff" />
<polyline points="885.32,354.54 889.96,359.84 892.61,362.49 897.25,369.79 901.89,373.1 905.87,375.09 909.19,378.41 915.16,381.06 919.14,385.7 927.09,390.34 932.4,393.66 935.71,398.97 938.37,406.92 941.02,408.91 946.99,404.93 950.97,408.91 954.28,416.21 956.93,418.86 959.59,417.27 962.9,421.51 966.88,426.82 971.12,432.12" fill="none" stroke="#178a17" stroke-width="1.6" stroke-linejoin="round" />
<polyline points="885.32,343.26 889.96,349.89 892.61,352.55 896.59,358.51 901.89,363.16 905.87,366.47 909.19,371.78 913.83,375.76 917.15,377.08 921.79,383.71 927.09,388.36 932.4,393.66 935.05,397.64 937.7,407.59 940.36,412.23 944.33,409.58 946.99,408.91 950.97,415.54 954.28,422.84 956.93,427.48 959.59,425.49 962.24,428.14 965.55,436.76 969.53,445.38 973.51,452.68" fill="none" stroke="#000" stroke-width="2.6" stroke-linejoin="round" />
<polyline points="973.2,415.13 975.9,415.48 978.59,415.97 981.29,416.7 983.99,418.42 986.69,417.65 989.38,419.33 992.08,419.27 994.78,420.73 997.47,421.36 1000.17,422.24 1002.87,421.38 1005.56,423.76 1008.26,423 1010.96,423.83 1013.66,425.84 1016.35,424.88 1019.05,427.13 1021.75,427.29 1024.44,426.88 1027.14,427.35 1029.84,428.63 1032.53,428.92 1035.23,428.81 1037.93,429.89 1040.62,429.77 1043.32,431.83 1046.02,432.58 1048.72,432.44 1051.41,432.08 1054.11,434.1 1056.81,434 1059.5,435.29 1062.2,434.42 1064.9,435.41 1067.6,436.81 1070.29,437.64 1072.99,437.46 1075.69,438.5 1078.38,437.8 1081.08,439.13 1083.78,438.98 1086.47,439.41 1089.17,440.52 1091.87,440.11 1094.57,441.01 1097.26,442.04 1099.96,442.89 1102.66,442.38 1105.35,442.59 1108.05,444.18 1110.75,444.23 1113.44,444.46 1116.14,445.79 1118.84,445.68 1121.54,446.18 1124.23,445.89 1126.93,445.96 1129.63,446.48 1132.32,448.15 1135.02,448.09 1137.72,448.44 1140.41,449.47 1143.11,450.32 1145.81,449.14 1148.51,451.21 1151.2,450.03 1153.9,452.29 1156.6,451.7 1159.29,451.61 1161.99,453.18 1164.69,452.87 1167.38,454 1170.08,453.59 1172.78,455.59 1175.48,454.38 1178.17,455.96 1180.87,456.31 1183.57,456.82 1186.26,457.82 1188.96,457 1191.66,457.87 1194.35,458.63 1197.05,460.37 1199.75,459.9 1202.45,460.71" fill="none" stroke="#00eeff" stroke-width="2.0" stroke-linejoin="round" />
<polyline points="973.2,418.14 975.9,418.56 978.59,419.93 981.29,418.99 983.99,420.99 986.69,420.78 989.38,421.1 992.08,421.92 994.78,423.33 997.47,422.81 1000.17,425.31 1002.87,425.9 1005.56,425.87 1008.26,425.84 1010.96,426.58 1013.66,426.8 1016.35,427.92 1019.05,428.89 1021.75,429.72 1024.44,429.98 1027.14,431.08 1029.84,431.26 1032.53,432.85 1035.23,433.09 1037.93,434.04 1040.62,434.19 1043.32,434.66 1046.02,435.31 1048.72,435.9 1051.41,436.28 1054.11,438.16 1056.81,438.64 1059.5,438.74 1062.2,439.98 1064.9,439.95 1067.6,440.96 1070.29,442.95 1072.99,442.09 1075.69,442.35 1078.38,443.27 1081.08,444.61 1083.78,445.03 1086.47,446.28 1089.17,446.49 1091.87,446.65 1094.57,447.61 1097.26,448.5 1099.96,449.77 1102.66,449.6 1105.35,450.3 1108.05,451.8 1110.75,451.08 1113.44,452.76 1116.14,453.3 1118.84,452.98 1121.54,453.37 1124.23,454.25 1126.93,456.2 1129.63,456.53 1132.32,457.06 1135.02,457.15 1137.72,457.13 1140.41,458.07 1143.11,458.64 1145.81,459.19 1148.51,461.39 1151.2,460.62 1153.9,462.53 1156.6,462.88 1159.29,462.24 1161.99,464.33 1164.69,463.32 1167.38,465.11 1170.08,465.65 1172.78,465.64 1175.48,466.51 1178.17,467.79 1180.87,468.57 1183.57,468.87 1186.26,469.05 1188.96,470.6 1191.66,469.94 1194.35,470.42 1197.05,471.62 1199.75,473.09 1202.45,473.5" fill="none" stroke="#7fffd4" stroke-width="2.0" stroke-linejoin="round" />
<polyline points="973.2,424.72 975.9,424.8 978.59,425.29 981.29,427.11 983.99,428.22 986.69,429.38 989.38,429.26 992.08,431.58 994.78,431.69 997.47,433.67 1000.17,434.79 1002.87,435.49 1005.56,436.16 1008.26,438.24 1010.96,439.15 1013.66,438.78 1016.35,440.62 1019.05,441.61 1021.75,442.91 1024.44,444.4 1027.14,443.69 1029.84,444.93 1032.53,445.98 1035.23,447.55 1037.93,449.51 1040.62,450.92 1043.32,450.72 1046.02,452.09 1048.72,452.57 1051.41,455.1 1054.11,455.9 1056.81,455.85 1059.5,457.26 1062.2,458.8 1064.9,458.77 1067.6,461.42 1070.29,462.13 1072.99,461.96 1075.69,464.62 1078.38,464.89 1081.08,465.17 1083.78,467.17 1086.47,467.99 1089.17,469.39 1091.87,471.1 1094.57,471.87 1097.26,472.52 1099.96,472.85 1102.66,474.23 1105.35,473.79 1108.05,475.98 1110.75,476.35 1113.44,478.22 1116.14,479.2 1118.84,480.17 1121.54,480.27 1124.23,481.96 1126.93,482.08 1129.63,482.47 1132.32,483.66 1135.02,484.49 1137.72,485.97 1140.41,486.66 1143.11,488.03 1145.81,487.87 1148.51,489.48 1151.2,489.85 1153.9,490.34 1156.6,490.92 1159.29,492.95 1161.99,494.55 1164.69,495.52 1167.38,496.19 1170.08,497.27 1172.78,497.51 1175.48,498.07 1178.17,500.11 1180.87,499.23 1183.57,501.38 1186.26,501.86 1188.96,503.4 1191.66,503.72 1194.35,504.31 1197.05,504.86 1199.75,506.37 1202.45,508.36" fill="none" stroke="#7cfc00" stroke-width="2.0" stroke-linejoin="round" />
<polyline points="973.2,436.93 975.9,438.87 978.59,440.02 981.29,440.52 983.99,441.37 986.69,442.3 989.38,442.47 992.08,443.83 994.78,444.56 997.47,445.18 1000.17,446.58 1002.87,447.88 1005.56,448.95 1008.26,450.71 1010.96,451.02 1013.66,452.07 1016.35,452.87 1019.05,454.29 1021.75,454.91 1024.44,456.53 1027.14,457.85 1029.84,458.91 1032.53,459.07 1035.23,460.81 1037.93,462.28 1040.62,464.13 1043.32,465.43 1046.02,465.64 1048.72,467.6 1051.41,468.72 1054.11,468.69 1056.81,471.36 1059.5,472.88 1062.2,473.52 1064.9,473.97 1067.6,475.29 1070.29,476.9 1072.99,478.79 1075.69,478.62 1078.38,480.21 1081.08,481.99 1083.78,483.56 1086.47,483.87 1089.17,486.43 1091.87,486.32 1094.57,487.14 1097.26,488.28 1099.96,491.1 1102.66,490.85 1105.35,492.08 1108.05,493.31 1110.75,494.27 1113.44,495.1 1116.14,496.73 1118.84,497.4 1121.54,498.25 1124.23,499.71 1126.93,501.11 1129.63,501.65 1132.32,503.36 1135.02,503.98 1137.72,504.8 1140.41,506.68 1143.11,508.22 1145.81,508.62 1148.51,509.88 1151.2,510.93 1153.9,512.09 1156.6,512.66 1159.29,514.46 1161.99,515.39 1164.69,516.16 1167.38,516.41 1170.08,518.53 1172.78,519.51 1175.48,521 1178.17,521.92 1180.87,523.89 1183.57,524.65 1186.26,525.43 1188.96,526.15 1191.66,527.93 1194.35,527.62 1197.05,528.71 1199.75,531.27 1202.45,531.94" fill="none" stroke="#32cd32" stroke-width="2.0" stroke-linejoin="round" />
<rect x="884.7" y="319.2" width="322.39999999999986" height="243.3" fill="none" stroke="#333" stroke-width="1"/>
<line x1="881.2" y1="367.9" x2="884.7" y2="367.9" stroke="#333" stroke-width="1"/>
<text x="877.2" y="372.4" font-family="Liberation Sans, sans-serif" font-size="13" fill="#1a1a1a" stroke="#1a1a1a" stroke-width="0.3" text-anchor="end" textLength="7.3" lengthAdjust="spacingAndGlyphs">5</text>
<line x1="881.2" y1="428.6" x2="884.7" y2="428.6" stroke="#333" stroke-width="1"/>
<text x="877.2" y="433.1" font-family="Liberation Sans, sans-serif" font-size="13" fill="#1a1a1a" stroke="#1a1a1a" stroke-width="0.3" text-anchor="end" textLength="7.3" lengthAdjust="spacingAndGlyphs">0</text>
<line x1="881.2" y1="489.6" x2="884.7" y2="489.6" stroke="#333" stroke-width="1"/>
<text x="877.2" y="494.1" font-family="Liberation Sans, sans-serif" font-size="13" fill="#1a1a1a" stroke="#1a1a1a" stroke-width="0.3" text-anchor="end" textLength="17.7" lengthAdjust="spacingAndGlyphs">−5</text>
<line x1="881.2" y1="550.9" x2="884.7" y2="550.9" stroke="#333" stroke-width="1"/>
<text x="877.2" y="555.4" font-family="Liberation Sans, sans-serif" font-size="13" fill="#1a1a1a" stroke="#1a1a1a" stroke-width="0.3" text-anchor="end" textLength="25.3" lengthAdjust="spacingAndGlyphs">−10</text>
<line x1="884.7" y1="562.5" x2="884.7" y2="566" stroke="#333" stroke-width="1"/>
<text x="898.3" y="579.5" font-family="Liberation Sans, sans-serif" font-size="14" fill="#1a1a1a" stroke="#1a1a1a" stroke-width="0.3" text-anchor="end" textLength="31" lengthAdjust="spacingAndGlyphs" transform="rotate(-45 898.3 579.5)">1982</text>
<line x1="911.67" y1="562.5" x2="911.67" y2="566" stroke="#333" stroke-width="1"/>
<text x="925.27" y="579.5" font-family="Liberation Sans, sans-serif" font-size="14" fill="#1a1a1a" stroke="#1a1a1a" stroke-width="0.3" text-anchor="end" textLength="31" lengthAdjust="spacingAndGlyphs" transform="rotate(-45 925.27 579.5)">1992</text>
<line x1="938.64" y1="562.5" x2="938.64" y2="566" stroke="#333" stroke-width="1"/>
<text x="952.24" y="579.5" font-family="Liberation Sans, sans-serif" font-size="14" fill="#1a1a1a" stroke="#1a1a1a" stroke-width="0.3" text-anchor="end" textLength="31" lengthAdjust="spacingAndGlyphs" transform="rotate(-45 952.24 579.5)">2002</text>
<line x1="965.61" y1="562.5" x2="965.61" y2="566" stroke="#333" stroke-width="1"/>
<text x="979.21" y="579.5" font-family="Liberation Sans, sans-serif" font-size="14" fill="#1a1a1a" stroke="#1a1a1a" stroke-width="0.3" text-anchor="end" textLength="31" lengthAdjust="spacingAndGlyphs" transform="rotate(-45 979.21 579.5)">2012</text>
<line x1="992.58" y1="562.5" x2="992.58" y2="566" stroke="#333" stroke-width="1"/>
<text x="1006.18" y="579.5" font-family="Liberation Sans, sans-serif" font-size="14" fill="#1a1a1a" stroke="#1a1a1a" stroke-width="0.3" text-anchor="end" textLength="31" lengthAdjust="spacingAndGlyphs" transform="rotate(-45 1006.18 579.5)">2022</text>
<line x1="1019.55" y1="562.5" x2="1019.55" y2="566" stroke="#333" stroke-width="1"/>
<text x="1033.15" y="579.5" font-family="Liberation Sans, sans-serif" font-size="14" fill="#1a1a1a" stroke="#1a1a1a" stroke-width="0.3" text-anchor="end" textLength="31" lengthAdjust="spacingAndGlyphs" transform="rotate(-45 1033.15 579.5)">2032</text>
<line x1="1046.52" y1="562.5" x2="1046.52" y2="566" stroke="#333" stroke-width="1"/>
<text x="1060.12" y="579.5" font-family="Liberation Sans, sans-serif" font-size="14" fill="#1a1a1a" stroke="#1a1a1a" stroke-width="0.3" text-anchor="end" textLength="31" lengthAdjust="spacingAndGlyphs" transform="rotate(-45 1060.12 579.5)">2042</text>
<line x1="1073.49" y1="562.5" x2="1073.49" y2="566" stroke="#333" stroke-width="1"/>
<text x="1087.09" y="579.5" font-family="Liberation Sans, sans-serif" font-size="14" fill="#1a1a1a" stroke="#1a1a1a" stroke-width="0.3" text-anchor="end" textLength="31" lengthAdjust="spacingAndGlyphs" transform="rotate(-45 1087.09 579.5)">2052</text>
<line x1="1100.46" y1="562.5" x2="1100.46" y2="566" stroke="#333" stroke-width="1"/>
<text x="1114.06" y="579.5" font-family="Liberation Sans, sans-serif" font-size="14" fill="#1a1a1a" stroke="#1a1a1a" stroke-width="0.3" text-anchor="end" textLength="31" lengthAdjust="spacingAndGlyphs" transform="rotate(-45 1114.06 579.5)">2062</text>
<line x1="1127.43" y1="562.5" x2="1127.43" y2="566" stroke="#333" stroke-width="1"/>
<text x="1141.03" y="579.5" font-family="Liberation Sans, sans-serif" font-size="14" fill="#1a1a1a" stroke="#1a1a1a" stroke-width="0.3" text-anchor="end" textLength="31" lengthAdjust="spacingAndGlyphs" transform="rotate(-45 1141.03 579.5)">2072</text>
<line x1="1154.4" y1="562.5" x2="1154.4" y2="566" stroke="#333" stroke-width="1"/>
<text x="1168" y="579.5" font-family="Liberation Sans, sans-serif" font-size="14" fill="#1a1a1a" stroke="#1a1a1a" stroke-width="0.3" text-anchor="end" textLength="31" lengthAdjust="spacingAndGlyphs" transform="rotate(-45 1168 579.5)">2082</text>
<line x1="1181.37" y1="562.5" x2="1181.37" y2="566" stroke="#333" stroke-width="1"/>
<text x="1194.97" y="579.5" font-family="Liberation Sans, sans-serif" font-size="14" fill="#1a1a1a" stroke="#1a1a1a" stroke-width="0.3" text-anchor="end" textLength="31" lengthAdjust="spacingAndGlyphs" transform="rotate(-45 1194.97 579.5)">2092</text>
<text x="901.8" y="339.1" font-family="Liberation Sans, sans-serif" font-size="20" fill="#1a1a1a" stroke="#1a1a1a" stroke-width="0.3" textLength="125.3" lengthAdjust="spacingAndGlyphs">TWS anomaly</text>
<text x="847.3" y="456" font-family="Liberation Sans, sans-serif" font-size="15" fill="#1a1a1a" stroke="#1a1a1a" stroke-width="0.3" textLength="24.8" lengthAdjust="spacingAndGlyphs" transform="rotate(-90 847.3 456)">mm</text>
<rect x="913.3" y="526" width="11.3" height="31.9" fill="#00ffff" stroke="#222" stroke-width="0.8"/>
<rect x="927.5" y="518.4" width="11.1" height="39.5" fill="#7fffd4" stroke="#222" stroke-width="0.8"/>
<rect x="942.5" y="511.4" width="10.9" height="46.5" fill="#7cfc00" stroke="#222" stroke-width="0.8"/>
<rect x="957" y="488.6" width="11" height="69.3" fill="#32cd32" stroke="#222" stroke-width="0.8"/>
<line x1="907.7" y1="466.5" x2="907.7" y2="557.9" stroke="#999" stroke-width="1.1"/>
<line x1="906.8" y1="557.9" x2="972.9" y2="557.9" stroke="#333" stroke-width="1"/>
<line x1="905.4" y1="466.5" x2="907.7" y2="466.5" stroke="#555" stroke-width="0.8"/>
<text x="887.3" y="469.3" font-family="Liberation Sans, sans-serif" font-size="7.6" fill="#333" stroke="#333" stroke-width="0.15" textLength="16" lengthAdjust="spacingAndGlyphs">−1.2</text>
<line x1="905.4" y1="512.4" x2="907.7" y2="512.4" stroke="#555" stroke-width="0.8"/>
<text x="887.3" y="515.2" font-family="Liberation Sans, sans-serif" font-size="7.6" fill="#333" stroke="#333" stroke-width="0.15" textLength="16" lengthAdjust="spacingAndGlyphs">−0.6</text>
<line x1="905.4" y1="557.9" x2="907.7" y2="557.9" stroke="#555" stroke-width="0.8"/>
<text x="893.1" y="560.7" font-family="Liberation Sans, sans-serif" font-size="7.6" fill="#333" stroke="#333" stroke-width="0.15" textLength="10.2" lengthAdjust="spacingAndGlyphs">0.0</text>
<circle cx="918.7" cy="518.7" r="2.6" fill="#ff0000" stroke="#222" stroke-width="0.5"/>
<circle cx="933.3" cy="502.9" r="2.6" fill="#ff0000" stroke="#222" stroke-width="0.5"/>
<circle cx="948.1" cy="490.2" r="2.6" fill="#ff0000" stroke="#222" stroke-width="0.5"/>
<circle cx="962.5" cy="478.2" r="2.6" fill="#ff0000" stroke="#222" stroke-width="0.5"/>
<line x1="123.9" y1="647.8" x2="164.3" y2="647.8" stroke="#000" stroke-width="2.8"/>
<text x="178.5" y="653.2" font-family="Liberation Sans, sans-serif" font-size="17" fill="#1a1a1a" stroke="#1a1a1a" stroke-width="0.3" textLength="110.9" lengthAdjust="spacingAndGlyphs">Observation</text>
<line x1="328.4" y1="647.8" x2="367.7" y2="647.8" stroke="#178a17" stroke-width="1.8"/>
<text x="381.9" y="653.2" font-family="Liberation Sans, sans-serif" font-size="17" fill="#1a1a1a" stroke="#1a1a1a" stroke-width="0.3" textLength="85.9" lengthAdjust="spacingAndGlyphs">Historical</text>
<line x1="505.8" y1="647.8" x2="544.6" y2="647.8" stroke="#00eeff" stroke-width="1.8"/>
<text x="559.1" y="653.2" font-family="Liberation Sans, sans-serif" font-size="17" fill="#1a1a1a" stroke="#1a1a1a" stroke-width="0.3" textLength="80.8" lengthAdjust="spacingAndGlyphs">SSP1-2.6</text>
<line x1="679" y1="647.8" x2="717.9" y2="647.8" stroke="#7fffd4" stroke-width="1.8"/>
<text x="732.3" y="653.2" font-family="Liberation Sans, sans-serif" font-size="17" fill="#1a1a1a" stroke="#1a1a1a" stroke-width="0.3" textLength="80.1" lengthAdjust="spacingAndGlyphs">SSP2-4.5</text>
<line x1="851.5" y1="647.8" x2="890.6" y2="647.8" stroke="#7cfc00" stroke-width="1.8"/>
<text x="905" y="653.2" font-family="Liberation Sans, sans-serif" font-size="17" fill="#1a1a1a" stroke="#1a1a1a" stroke-width="0.3" textLength="81.5" lengthAdjust="spacingAndGlyphs">SSP3-7.0</text>
<line x1="1023.8" y1="647.8" x2="1062.9" y2="647.8" stroke="#32cd32" stroke-width="1.8"/>
<text x="1077.3" y="653.2" font-family="Liberation Sans, sans-serif" font-size="17" fill="#1a1a1a" stroke="#1a1a1a" stroke-width="0.3" textLength="81.5" lengthAdjust="spacingAndGlyphs">SSP5-8.5</text>
<text x="47.8" y="34.5" font-family="Liberation Serif, serif" font-size="30.3" fill="#000" textLength="12.23" lengthAdjust="spacingAndGlyphs" font-weight="bold">a</text>
<text x="419" y="40.7" font-family="Liberation Serif, serif" font-size="29.7" fill="#000" textLength="14.03" lengthAdjust="spacingAndGlyphs" font-weight="bold">b</text>
<text x="825" y="34.6" font-family="Liberation Serif, serif" font-size="28.5" fill="#000" textLength="12.6" lengthAdjust="spacingAndGlyphs" font-weight="bold">c</text>
<text x="16.2" y="345.5" font-family="Liberation Serif, serif" font-size="29.4" fill="#000" textLength="14.1" lengthAdjust="spacingAndGlyphs" font-weight="bold">d</text>
<text x="421.8" y="339.1" font-family="Liberation Serif, serif" font-size="29.6" fill="#000" textLength="12.41" lengthAdjust="spacingAndGlyphs" font-weight="bold">e</text>
<text x="826.6" y="339.1" font-family="Liberation Serif, serif" font-size="27.5" fill="#000" textLength="9.8" lengthAdjust="spacingAndGlyphs" font-weight="bold">f</text>
<polygon points="62.6,826.1 68.5,826.1 148.6,1129.3 62.6,1129.7" fill="#cc9d98"/>
<path d="M81.1,887.4 C80.2,889.5 76.7,895.0 75.6,899.8 C74.5,904.6 73.6,910.3 74.3,916.3 C75.0,922.3 78.4,929.6 79.8,935.6 C81.2,941.6 82.3,945.7 82.5,952.1 C82.7,958.5 80.6,966.8 81.1,974.1 C81.6,981.5 83.7,988.9 85.3,996.2 C86.9,1003.6 88.5,1011.3 90.8,1018.2 C93.1,1025.1 95.8,1031.5 99.0,1037.5 C102.2,1043.5 105.9,1049.4 110.0,1054.0 C114.1,1058.6 121.5,1063.2 123.8,1065.0 L134.0,1066.0 L86.0,884.0 Z" fill="#bf8d66"/>
<path d="M86.0,1126.0 Q95.0,1105.0 128.0,1106.0" stroke="#6bb9f4" stroke-width="7" fill="none"/>
<polygon points="126.0,1097.0 145.0,1104.5 128.0,1116.0" fill="#6bb9f4"/>
<polygon points="670.2,806.3 676.1,806.3 756.2,1109.5 670.2,1109.9" fill="#cc9d98"/>
<path d="M688.7,867.6 C687.8,869.7 684.3,875.2 683.2,880.0 C682.1,884.8 681.2,890.5 681.9,896.5 C682.6,902.5 686.0,909.8 687.4,915.8 C688.8,921.8 689.9,925.9 690.1,932.3 C690.3,938.7 688.2,947.0 688.7,954.3 C689.2,961.7 691.3,969.1 692.9,976.4 C694.5,983.8 696.1,991.5 698.4,998.4 C700.7,1005.3 703.4,1011.7 706.6,1017.7 C709.8,1023.7 713.5,1029.6 717.6,1034.2 C721.7,1038.8 729.1,1043.4 731.4,1045.2 L741.6,1046.2 L693.6,864.2 Z" fill="#bf8d66"/>
<path d="M693.6,1106.2 Q702.6,1085.2 735.6,1086.2" stroke="#6bb9f4" stroke-width="7" fill="none"/>
<polygon points="733.6,1077.2 752.6,1084.7 735.6,1096.2" fill="#6bb9f4"/>
<use href="#bgPic"/>
<use href="#bgPic" transform="translate(607.6,-19.8)"/>
<text x="93.5" y="901.6" font-family="Liberation Sans, sans-serif" font-weight="bold" font-size="13" fill="#e5352b" textLength="70.0" lengthAdjust="spacingAndGlyphs" transform="rotate(78 93.5 901.6)">SSM (-10%)</text>
<text x="81.1" y="953.8" font-family="Liberation Sans, sans-serif" font-weight="bold" font-size="13" fill="#e5352b" textLength="78.6" lengthAdjust="spacingAndGlyphs" transform="rotate(78 81.1 953.8)">RZSM (-16%)</text>
<text x="67.4" y="1018.6" font-family="Liberation Sans, sans-serif" font-weight="bold" font-size="13" fill="#e5352b" textLength="26.3" lengthAdjust="spacingAndGlyphs" transform="rotate(78 67.4 1018.6)">TWS</text>
<text x="77.0" y="1058.5" font-family="Liberation Sans, sans-serif" font-weight="bold" font-size="13" fill="#e5352b" textLength="46.0" lengthAdjust="spacingAndGlyphs" transform="rotate(78 77.0 1058.5)">(-898%)</text>
<text x="699.9" y="881.6" font-family="Liberation Sans, sans-serif" font-weight="bold" font-size="13" fill="#e5352b" textLength="70.0" lengthAdjust="spacingAndGlyphs" transform="rotate(78 699.9 881.6)">SSM (-41%)</text>
<text x="687.5" y="932.5" font-family="Liberation Sans, sans-serif" font-weight="bold" font-size="13" fill="#e5352b" textLength="78.5" lengthAdjust="spacingAndGlyphs" transform="rotate(78 687.5 932.5)">RZSM (-84%)</text>
<text x="680.6" y="1004.1" font-family="Liberation Sans, sans-serif" font-weight="bold" font-size="13" fill="#e5352b" textLength="26.3" lengthAdjust="spacingAndGlyphs" transform="rotate(78 680.6 1004.1)">TWS</text>
<text x="688.9" y="1042.6" font-family="Liberation Sans, sans-serif" font-weight="bold" font-size="13" fill="#e5352b" textLength="40.4" lengthAdjust="spacingAndGlyphs" transform="rotate(78 688.9 1042.6)">(-67%)</text>
<path d="M332.1,829.2 C333.9,830.2 340.4,832.7 342.8,835.0 C345.2,837.3 346.9,839.9 346.7,842.8 C346.5,845.7 343.6,849.3 341.8,852.5 C340.0,855.7 337.6,858.6 336.0,862.2 C334.4,865.8 332.8,870.0 332.1,873.9 C331.5,877.8 331.5,881.4 332.1,885.6 C332.8,889.8 333.9,895.0 336.0,899.2 C338.1,903.4 341.0,907.0 344.7,910.9 C348.4,914.8 355.1,918.6 358.3,922.5 C361.6,926.4 363.2,930.0 364.2,934.2 C365.2,938.4 365.2,942.9 364.2,947.8 C363.2,952.7 360.2,958.9 358.3,963.4 C356.4,967.9 354.1,970.8 352.5,975.0 C350.9,979.2 349.4,982.2 348.6,988.6 C347.8,995.0 347.8,1009.4 347.6,1013.5 L388.5,999.5 C388.7,996.7 388.7,988.2 389.5,982.8 C390.3,977.4 392.0,972.4 393.3,967.2 C394.6,962.0 396.6,956.9 397.2,951.7 C397.8,946.5 398.2,941.3 397.2,936.1 C396.2,930.9 394.0,925.1 391.4,920.6 C388.8,916.1 385.9,912.5 381.7,908.9 C377.5,905.3 370.8,902.1 366.1,899.2 C361.4,896.3 356.2,894.3 353.5,891.4 C350.8,888.5 349.9,885.3 349.6,881.7 C349.3,878.1 350.4,874.2 351.5,870.0 C352.6,865.8 355.3,860.6 356.4,856.4 C357.5,852.2 358.3,848.3 358.3,844.7 C358.3,841.1 357.8,837.8 356.4,835.0 C354.9,832.2 350.7,829.3 349.6,828.2 L340.0,828.5Z" fill="#70baf6"/>
<rect x="330.5" y="836.5" width="10.5" height="3" rx="1.4" fill="#6cb8f4" transform="rotate(-15 330.5 836.5)"/>
<rect x="329.5" y="843.3" width="10.5" height="3" rx="1.4" fill="#6cb8f4" transform="rotate(-15 329.5 843.3)"/>
<rect x="357.7" y="865.7" width="10.5" height="3" rx="1.4" fill="#6cb8f4" transform="rotate(-15 357.7 865.7)"/>
<rect x="356.3" y="874.4" width="10.5" height="3" rx="1.4" fill="#6cb8f4" transform="rotate(-15 356.3 874.4)"/>
<rect x="361.6" y="881.3" width="10.5" height="3" rx="1.4" fill="#6cb8f4" transform="rotate(-15 361.6 881.3)"/>
<rect x="339.2" y="926.6" width="10.5" height="3" rx="1.4" fill="#6cb8f4" transform="rotate(-15 339.2 926.6)"/>
<rect x="346.0" y="935.7" width="10.5" height="3" rx="1.4" fill="#6cb8f4" transform="rotate(-15 346.0 935.7)"/>
<rect x="345.1" y="947.4" width="10.5" height="3" rx="1.4" fill="#6cb8f4" transform="rotate(-15 345.1 947.4)"/>
<g transform="translate(104.0,841.5) rotate(0.0)"><polygon points="-4.6,-15.8 4.6,-15.8 0,-25.3" fill="#f0ad3a" transform="rotate(0)" stroke="#c98a2a" stroke-width="0.4"/><polygon points="-4.6,-15.8 4.6,-15.8 0,-25.3" fill="#f0ad3a" transform="rotate(45)" stroke="#c98a2a" stroke-width="0.4"/><polygon points="-4.6,-15.8 4.6,-15.8 0,-25.3" fill="#f0ad3a" transform="rotate(90)" stroke="#c98a2a" stroke-width="0.4"/><polygon points="-4.6,-15.8 4.6,-15.8 0,-25.3" fill="#f0ad3a" transform="rotate(135)" stroke="#c98a2a" stroke-width="0.4"/><polygon points="-4.6,-15.8 4.6,-15.8 0,-25.3" fill="#f0ad3a" transform="rotate(180)" stroke="#c98a2a" stroke-width="0.4"/><polygon points="-4.6,-15.8 4.6,-15.8 0,-25.3" fill="#f0ad3a" transform="rotate(225)" stroke="#c98a2a" stroke-width="0.4"/><polygon points="-4.6,-15.8 4.6,-15.8 0,-25.3" fill="#f0ad3a" transform="rotate(270)" stroke="#c98a2a" stroke-width="0.4"/><polygon points="-4.6,-15.8 4.6,-15.8 0,-25.3" fill="#f0ad3a" transform="rotate(315)" stroke="#c98a2a" stroke-width="0.4"/><circle r="16.0" fill="#3d6fa8" opacity="0.35" cx="0.8" cy="0.8"/><circle r="14.8" fill="#f0ad3a"/></g>
<g transform="translate(251.0,802.0) rotate(-15.0) scale(1.00)"><path d="M-25.5,5 A10,10 0 0,1 -15,-6.5 A14,14 0 0,1 12.5,-6 A9.5,9.5 0 0,1 25.5,5 Q25.5,13 18,13 L-17,13 Q-25.5,13 -25.5,5 Z" fill="#2d5f9a" opacity="0.35" transform="translate(1,1.3)"/><path d="M-25.5,5 A10,10 0 0,1 -15,-6.5 A14,14 0 0,1 12.5,-6 A9.5,9.5 0 0,1 25.5,5 Q25.5,13 18,13 L-17,13 Q-25.5,13 -25.5,5 Z" fill="#6ebcf6"/></g>
<rect x="233.5" y="822.1" width="6.0" height="14.5" rx="2.7" fill="#6fbdf7" opacity="0.90" transform="rotate(-15.0 236.5 829.4)"/>
<rect x="251.6" y="817.9" width="6.0" height="14.5" rx="2.7" fill="#6fbdf7" opacity="0.90" transform="rotate(-15.0 254.6 825.1)"/>
<rect x="274.0" y="813.1" width="6.0" height="14.5" rx="2.7" fill="#6fbdf7" opacity="0.90" transform="rotate(-15.0 277.0 820.4)"/>
<g transform="translate(296.0,790.0) rotate(-14.10)"><path d="M-2.4,0 L2.4,0 L2.4,24.0 L6.4,24.0 L0,46.0 L-6.4,24.0 L-2.4,24.0 Z" fill="none" stroke="#4a92e0" stroke-width="1.5" stroke-linejoin="miter"/></g>
<text x="283.7" y="785.0" font-family="Liberation Sans, sans-serif" font-weight="bold" font-size="13.2" fill="#3f7ec6" textLength="124.2" lengthAdjust="spacingAndGlyphs">Precipitation (-7.1%)</text>
<path d="M0,-2.8 L46.9,-2.8 L46.9,-7.0 L64.9,0 L46.9,7.0 L46.9,2.8 L0,2.8 Z" fill="#1f3f5f" opacity="0.3" transform="translate(186.3,917.3) rotate(-103.82)"/>
<g transform="translate(185.0,916.0) rotate(-103.82)" opacity="0.95"><path d="M0,-2.8 L46.9,-2.8 L46.9,-7.0 L64.9,0 L46.9,7.0 L46.9,2.8 L0,2.8 Z" fill="#4d9be0"/></g>
<text x="188.9" y="885.8" font-family="Liberation Sans, sans-serif" font-weight="bold" font-size="13.2" fill="#3f7ec6" textLength="72.6" lengthAdjust="spacingAndGlyphs">ET (+13.5%)</text>
<path d="M0,-2.8 L35.8,-2.8 L35.8,-7.3 L61.8,0 L35.8,7.3 L35.8,2.8 L0,2.8 Z" fill="#1f3f5f" opacity="0.3" transform="translate(396.6,907.3) rotate(73.56)"/>
<g transform="translate(395.3,906.0) rotate(73.56)" opacity="0.95"><path d="M0,-2.8 L35.8,-2.8 L35.8,-7.3 L61.8,0 L35.8,7.3 L35.8,2.8 L0,2.8 Z" fill="#4d9be0"/></g>
<text x="395.6" y="891.6" font-family="Liberation Sans, sans-serif" font-weight="bold" font-size="13.2" fill="#3f7ec6" textLength="87.3" lengthAdjust="spacingAndGlyphs">Runoff (-4.6%)</text>
<text x="124.1" y="941.3" font-family="Liberation Sans, sans-serif" font-weight="bold" font-size="13.2" fill="#2f7a2a" textLength="107.3" lengthAdjust="spacingAndGlyphs">vegetation(+34%)</text>
<g transform="translate(241.1,926.8) scale(1.00)"><g clip-path="url(#zclip)"><path d="M3.0,9 Q0.3,18 2.3,28.5 M5.8,9 Q3.1,18 5.1,28.5 M8.6,9 Q5.9,18 7.9,28.5 M11.4,9 Q8.7,18 10.7,28.5 M14.2,9 Q11.5,18 13.5,28.5 M17.0,9 Q14.3,18 16.3,28.5 M19.8,9 Q17.1,18 19.1,28.5 M22.6,9 Q19.9,18 21.9,28.5 M25.4,9 Q22.7,18 24.7,28.5 M21.5,15.6 L33.5,22.4 M22.5,13.0 L34.5,19.8 M23.5,10.3 L35.5,17.1 M24.5,7.7 L36.5,14.5 M25.5,5.0 L37.5,11.8 M26.5,2.4 L38.5,9.2 M27.5,-0.3 L39.5,6.5 M28.5,-2.9 L40.5,3.9 M0,29.5 L40,28.0 M0,32.3 L40,30.8 M0,35.1 L40,33.6 M0,37.9 L40,36.4 M0,40.7 L40,39.2 M27,23.2 L40,22.7 M27,26.0 L40,25.5" stroke="#0d0d0d" stroke-width="1.55" fill="none"/></g><path d="M0.85,16.6 C4,13 8,12.6 12,12.4 L23,10.2 L27,3 L29,0.4 L33.3,1.7 L36,5 L40.5,8.5 L38.4,10.2 L34.1,9.8 L32.5,14 L31.6,18.3 L33,22 L36.7,32.8 L35,33.6 L31.5,25.5 L30.5,25 L31.5,34.5 L29.5,34.8 L28,26 L23.9,24.3 L13.6,27.4 L12.8,39.7 L10.2,41.4 L8,31.5 L6.2,41.4 L3.4,41.4 L2.6,31.1 L0,26 C-0.5,22 0,19 0.85,16.6 Z" fill="none" stroke="#111" stroke-width="0.5"/><path d="M36,5 L40.5,8.5 L38.4,10.2 L36.5,9.5 Z" fill="#111"/></g>
<g transform="translate(293.2,914.4) scale(1.00)"><g clip-path="url(#zclip)"><path d="M3.0,9 Q0.3,18 2.3,28.5 M5.8,9 Q3.1,18 5.1,28.5 M8.6,9 Q5.9,18 7.9,28.5 M11.4,9 Q8.7,18 10.7,28.5 M14.2,9 Q11.5,18 13.5,28.5 M17.0,9 Q14.3,18 16.3,28.5 M19.8,9 Q17.1,18 19.1,28.5 M22.6,9 Q19.9,18 21.9,28.5 M25.4,9 Q22.7,18 24.7,28.5 M21.5,15.6 L33.5,22.4 M22.5,13.0 L34.5,19.8 M23.5,10.3 L35.5,17.1 M24.5,7.7 L36.5,14.5 M25.5,5.0 L37.5,11.8 M26.5,2.4 L38.5,9.2 M27.5,-0.3 L39.5,6.5 M28.5,-2.9 L40.5,3.9 M0,29.5 L40,28.0 M0,32.3 L40,30.8 M0,35.1 L40,33.6 M0,37.9 L40,36.4 M0,40.7 L40,39.2 M27,23.2 L40,22.7 M27,26.0 L40,25.5" stroke="#0d0d0d" stroke-width="1.55" fill="none"/></g><path d="M0.85,16.6 C4,13 8,12.6 12,12.4 L23,10.2 L27,3 L29,0.4 L33.3,1.7 L36,5 L40.5,8.5 L38.4,10.2 L34.1,9.8 L32.5,14 L31.6,18.3 L33,22 L36.7,32.8 L35,33.6 L31.5,25.5 L30.5,25 L31.5,34.5 L29.5,34.8 L28,26 L23.9,24.3 L13.6,27.4 L12.8,39.7 L10.2,41.4 L8,31.5 L6.2,41.4 L3.4,41.4 L2.6,31.1 L0,26 C-0.5,22 0,19 0.85,16.6 Z" fill="none" stroke="#111" stroke-width="0.5"/><path d="M36,5 L40.5,8.5 L38.4,10.2 L36.5,9.5 Z" fill="#111"/></g>
<g transform="translate(0.0,0.0)" fill="#2e7a2a"><path d="M147,987 Q149,979 156,977 Q160,974 165,977 Q171,976 172,981 Q170,986 164,987 Q156,989 147,987 Z"/><path d="M138,998 Q140,992 147,991 Q152,989 157,990 Q161,992 160,996 Q155,1000 147,999.5 Q141,1000 138,998 Z"/><path d="M169,989 Q171,984 177,983 Q184,982 189,986 Q188,990 181,990 Q174,991 169,989 Z"/><path d="M164,996 Q165,991 171,990 Q179,989 186,992 Q184,996 177,996.5 Q169,997.5 164,996 Z"/><path d="M168.5,1008 Q168,1004 162,1003 Q152,1003.5 149,1001 Q147,997 152,995 Q158,993 162,990 Q164,986 161,985 L164,984.5 Q167,988 164,992 Q160,996 154,997.5 Q151,999.5 156,1000 Q166,1000 171,1004 L172.5,1008 Z"/><path d="M166,1008 L180,1008 L176,1011 L168,1011 Z" fill="#a9a84a" opacity="0.55"/></g>
<g transform="translate(180.5,965.0) scale(1.00)" fill="#2f7a2c"><path d="M14.6,34 L7.5,4" stroke="#2f7a2c" stroke-width="1.5" fill="none"/><path d="M7,0 Q10.5,3 9,8 Q5,8 5,4 Q5,1.5 7,0 Z"/><path d="M9.5,11 Q12,6 17,5.5 Q16.5,10 12,12 Z"/><path d="M9.5,15 Q5,11 0,12.5 Q3,17 9.5,16 Z"/><path d="M11.5,18.5 Q14,13 19.5,11.5 Q19,17 13,19.5 Z"/><path d="M13.5,26 Q16,21 21.5,19.5 Q21,25 15,27 Z"/></g>
<path d="M209.4,979.0 Q208.2,966.5 203.0,954.0 M211.5,979.0 Q213.7,969.6 211.9,960.2 M213.5,979.0 Q213.1,968.0 208.8,957.0 M215.5,979.0 Q218.6,966.5 217.6,954.0 M217.5,979.0 Q218.0,969.6 214.5,960.2 M219.5,979.0 Q223.4,968.0 223.4,957.0 M221.5,979.0 Q222.9,966.5 220.2,954.0 M223.5,979.0 Q228.3,969.6 229.1,960.2 M225.6,979.0 Q227.8,968.0 226.0,957.0" stroke="#7ad650" stroke-width="2.2" fill="none" opacity="0.60" stroke-linecap="round"/>
<path d="M429.3,856.2 Q427.8,842.2 422.4,828.2 M431.6,856.2 Q433.6,845.7 431.6,835.2 M433.8,856.2 Q433.4,843.9 428.9,831.6 M436.1,856.2 Q439.1,842.2 438.1,828.2 M438.4,856.2 Q438.9,845.7 435.4,835.2 M440.7,856.2 Q444.7,843.9 444.6,831.6 M442.9,856.2 Q444.4,842.2 441.9,828.2 M445.2,856.2 Q450.2,845.7 451.1,835.2 M447.5,856.2 Q449.9,843.9 448.4,831.6" stroke="#7ad650" stroke-width="2.2" fill="none" opacity="0.60" stroke-linecap="round"/>
<g transform="translate(458.2,808.7) scale(1.00)"><path d="M3,22 Q4,18 9,18 L13,17 L17,5 L16,2 L19,0 L22,2 L21,4 L18,8 L16,20 Q17,24 15,26 L17,37 L15,37 L13,27 L11,27 L10,37 L8,37 L8,27 L6,27 L4,37 L2,37 L3,27 Q1,24 3,22 Z" fill="#f3d25a"/></g>
<path d="M458.0,752.3 L462.3,766.5 C463.6,766.5 466.6,765.2 470.0,766.8 C473.4,768.4 476.8,768.9 482.4,776.1 C488.0,783.3 497.1,797.6 503.6,810.0 C510.2,822.4 518.7,843.6 521.7,850.3 C520.1,847.1 516.9,839.0 512.1,831.2 C507.3,823.4 497.9,809.4 493.0,803.6 C488.1,797.8 485.6,798.0 483.0,796.5 C480.4,795.0 478.1,795.0 477.1,794.7 L477.1,794.7 L479.2,808.3 L443.8,789.2 L458.0,752.3Z" fill="#e8720f" stroke="#3a2a1a" stroke-width="0.7" stroke-linejoin="round"/>
<path d="M521.7,850.3 C522.9,852.4 526.6,855.9 529.1,863.0 C531.6,870.1 535.3,882.4 536.5,892.7 C537.7,903.0 537.7,914.7 536.5,924.6 C535.3,934.5 533.5,944.5 529.1,952.1 C524.7,959.7 513.2,967.2 510.0,970.2 L499.4,941.5 C503.1,938.0 517.1,927.0 521.7,920.3 C526.3,913.6 526.1,909.3 527.0,901.2 C527.9,893.1 527.9,880.0 527.0,871.5 C526.1,863.0 522.6,853.8 521.7,850.3Z" fill="#b95a0d" stroke="#3a2a1a" stroke-width="0.7" stroke-linejoin="round"/>
<path d="M928.3,819.4 C929.5,820.0 933.7,820.9 935.3,823.0 C936.9,825.1 938.1,828.3 938.0,831.8 C937.9,835.3 935.5,839.8 934.5,844.2 C933.5,848.6 932.1,853.3 931.8,858.3 C931.5,863.3 931.5,869.2 932.7,874.2 C933.9,879.2 936.1,884.0 938.9,888.4 C941.7,892.8 946.5,896.9 949.5,900.7 C952.5,904.5 954.8,907.5 956.6,911.3 C958.4,915.1 959.7,919.3 960.1,923.7 C960.5,928.1 960.1,932.6 959.2,937.9 C958.3,943.2 955.8,949.9 954.8,955.5 C953.8,961.1 953.3,965.0 953.0,971.4 C952.7,977.8 953.0,990.2 953.0,994.0 L978.6,984.0 C978.6,981.3 978.5,973.5 978.6,967.9 C978.8,962.3 979.2,956.1 979.5,950.2 C979.8,944.3 980.7,938.5 980.4,932.6 C980.1,926.7 979.4,919.9 977.8,914.9 C976.2,909.9 973.7,906.6 970.7,902.5 C967.8,898.4 963.9,894.2 960.1,890.1 C956.3,886.0 950.7,881.6 947.7,877.8 C944.8,874.0 943.1,871.3 942.4,867.2 C941.7,863.1 942.6,858.3 943.3,853.0 C943.9,847.7 946.1,840.0 946.3,835.3 C946.4,830.6 945.6,827.5 944.2,824.7 C942.8,821.9 939.0,819.6 938.0,818.6 L932.0,819.0Z" fill="#70baf6"/>
<rect x="925.4" y="826.5" width="10.5" height="3" rx="1.4" fill="#6cb8f4" transform="rotate(-15 925.4 826.5)"/>
<rect x="925.4" y="832.2" width="10.5" height="3" rx="1.4" fill="#6cb8f4" transform="rotate(-15 925.4 832.2)"/>
<rect x="945.8" y="856.0" width="10.5" height="3" rx="1.4" fill="#6cb8f4" transform="rotate(-15 945.8 856.0)"/>
<rect x="945.8" y="864.9" width="10.5" height="3" rx="1.4" fill="#6cb8f4" transform="rotate(-15 945.8 864.9)"/>
<rect x="950.2" y="871.6" width="10.5" height="3" rx="1.4" fill="#6cb8f4" transform="rotate(-15 950.2 871.6)"/>
<rect x="938.7" y="913.1" width="10.5" height="3" rx="1.4" fill="#6cb8f4" transform="rotate(-15 938.7 913.1)"/>
<rect x="944.3" y="922.3" width="10.5" height="3" rx="1.4" fill="#6cb8f4" transform="rotate(-15 944.3 922.3)"/>
<rect x="944.3" y="933.3" width="10.5" height="3" rx="1.4" fill="#6cb8f4" transform="rotate(-15 944.3 933.3)"/>
<g transform="translate(711.9,820.7) rotate(0.0)"><polygon points="-4.6,-16.2 4.6,-16.2 0,-25.7" fill="#f0ad3a" transform="rotate(0)" stroke="#c98a2a" stroke-width="0.4"/><polygon points="-4.6,-16.2 4.6,-16.2 0,-25.7" fill="#f0ad3a" transform="rotate(45)" stroke="#c98a2a" stroke-width="0.4"/><polygon points="-4.6,-16.2 4.6,-16.2 0,-25.7" fill="#f0ad3a" transform="rotate(90)" stroke="#c98a2a" stroke-width="0.4"/><polygon points="-4.6,-16.2 4.6,-16.2 0,-25.7" fill="#f0ad3a" transform="rotate(135)" stroke="#c98a2a" stroke-width="0.4"/><polygon points="-4.6,-16.2 4.6,-16.2 0,-25.7" fill="#f0ad3a" transform="rotate(180)" stroke="#c98a2a" stroke-width="0.4"/><polygon points="-4.6,-16.2 4.6,-16.2 0,-25.7" fill="#f0ad3a" transform="rotate(225)" stroke="#c98a2a" stroke-width="0.4"/><polygon points="-4.6,-16.2 4.6,-16.2 0,-25.7" fill="#f0ad3a" transform="rotate(270)" stroke="#c98a2a" stroke-width="0.4"/><polygon points="-4.6,-16.2 4.6,-16.2 0,-25.7" fill="#f0ad3a" transform="rotate(315)" stroke="#c98a2a" stroke-width="0.4"/><circle r="16.4" fill="#3d6fa8" opacity="0.35" cx="0.8" cy="0.8"/><circle r="15.2" fill="#f0ad3a"/></g>
<g transform="translate(841.3,783.0) rotate(-15.0) scale(1.00)"><path d="M-25.5,5 A10,10 0 0,1 -15,-6.5 A14,14 0 0,1 12.5,-6 A9.5,9.5 0 0,1 25.5,5 Q25.5,13 18,13 L-17,13 Q-25.5,13 -25.5,5 Z" fill="#2d5f9a" opacity="0.35" transform="translate(1,1.3)"/><path d="M-25.5,5 A10,10 0 0,1 -15,-6.5 A14,14 0 0,1 12.5,-6 A9.5,9.5 0 0,1 25.5,5 Q25.5,13 18,13 L-17,13 Q-25.5,13 -25.5,5 Z" fill="#6ebcf6"/></g>
<rect x="822.2" y="803.5" width="6.5" height="14.5" rx="2.7" fill="#6fbdf7" opacity="0.90" transform="rotate(-15.0 825.5 810.8)"/>
<rect x="841.4" y="799.4" width="6.5" height="14.5" rx="2.7" fill="#6fbdf7" opacity="0.90" transform="rotate(-15.0 844.6 806.6)"/>
<rect x="863.4" y="794.4" width="6.5" height="14.5" rx="2.7" fill="#6fbdf7" opacity="0.90" transform="rotate(-15.0 866.6 801.6)"/>
<rect x="829.4" y="821.0" width="6.5" height="14.5" rx="2.7" fill="#6fbdf7" opacity="0.90" transform="rotate(-15.0 832.6 828.2)"/>
<rect x="847.9" y="816.1" width="6.5" height="14.5" rx="2.7" fill="#6fbdf7" opacity="0.90" transform="rotate(-15.0 851.1 823.4)"/>
<rect x="869.8" y="815.4" width="6.5" height="14.5" rx="2.7" fill="#6fbdf7" opacity="0.90" transform="rotate(-15.0 873.0 822.6)"/>
<g transform="translate(885.2,776.0) rotate(-14.01)"><path d="M-2.4,0 L2.4,0 L2.4,23.9 L6.4,23.9 L0,45.9 L-6.4,23.9 L-2.4,23.9 Z" fill="none" stroke="#4a92e0" stroke-width="1.5" stroke-linejoin="miter"/></g>
<text x="883.2" y="769.7" font-family="Liberation Sans, sans-serif" font-weight="bold" font-size="13.2" fill="#3f7ec6" textLength="123.4" lengthAdjust="spacingAndGlyphs">Precipitation (+23%)</text>
<path d="M0,-2.8 L46.8,-2.8 L46.8,-7.0 L64.8,0 L46.8,7.0 L46.8,2.8 L0,2.8 Z" fill="#1f3f5f" opacity="0.3" transform="translate(790.3,896.3) rotate(-102.47)"/>
<g transform="translate(789.0,895.0) rotate(-102.47)" opacity="0.95"><path d="M0,-2.8 L46.8,-2.8 L46.8,-7.0 L64.8,0 L46.8,7.0 L46.8,2.8 L0,2.8 Z" fill="#4d9be0"/></g>
<text x="797.0" y="865.7" font-family="Liberation Sans, sans-serif" font-weight="bold" font-size="13.2" fill="#3f7ec6" textLength="61.5" lengthAdjust="spacingAndGlyphs">ET (+67%)</text>
<path d="M0,-2.8 L35.4,-2.8 L35.4,-7.3 L61.4,0 L35.4,7.3 L35.4,2.8 L0,2.8 Z" fill="#1f3f5f" opacity="0.3" transform="translate(972.0,864.0) rotate(74.99)"/>
<g transform="translate(970.7,862.7) rotate(74.99)" opacity="0.95"><path d="M0,-2.8 L35.4,-2.8 L35.4,-7.3 L61.4,0 L35.4,7.3 L35.4,2.8 L0,2.8 Z" fill="#4d9be0"/></g>
<text x="1001.2" y="897.6" font-family="Liberation Sans, sans-serif" font-weight="bold" font-size="13.2" fill="#3f7ec6" textLength="86.7" lengthAdjust="spacingAndGlyphs">Runoff (+39%)</text>
<text x="731.1" y="920.6" font-family="Liberation Sans, sans-serif" font-weight="bold" font-size="13.2" fill="#2f7a2a" textLength="115.3" lengthAdjust="spacingAndGlyphs">vegetation(+192%)</text>
<g transform="translate(852.5,905.5) scale(0.88)"><g clip-path="url(#zclip)"><path d="M3.0,9 Q0.3,18 2.3,28.5 M5.8,9 Q3.1,18 5.1,28.5 M8.6,9 Q5.9,18 7.9,28.5 M11.4,9 Q8.7,18 10.7,28.5 M14.2,9 Q11.5,18 13.5,28.5 M17.0,9 Q14.3,18 16.3,28.5 M19.8,9 Q17.1,18 19.1,28.5 M22.6,9 Q19.9,18 21.9,28.5 M25.4,9 Q22.7,18 24.7,28.5 M21.5,15.6 L33.5,22.4 M22.5,13.0 L34.5,19.8 M23.5,10.3 L35.5,17.1 M24.5,7.7 L36.5,14.5 M25.5,5.0 L37.5,11.8 M26.5,2.4 L38.5,9.2 M27.5,-0.3 L39.5,6.5 M28.5,-2.9 L40.5,3.9 M0,29.5 L40,28.0 M0,32.3 L40,30.8 M0,35.1 L40,33.6 M0,37.9 L40,36.4 M0,40.7 L40,39.2 M27,23.2 L40,22.7 M27,26.0 L40,25.5" stroke="#0d0d0d" stroke-width="1.55" fill="none"/></g><path d="M0.85,16.6 C4,13 8,12.6 12,12.4 L23,10.2 L27,3 L29,0.4 L33.3,1.7 L36,5 L40.5,8.5 L38.4,10.2 L34.1,9.8 L32.5,14 L31.6,18.3 L33,22 L36.7,32.8 L35,33.6 L31.5,25.5 L30.5,25 L31.5,34.5 L29.5,34.8 L28,26 L23.9,24.3 L13.6,27.4 L12.8,39.7 L10.2,41.4 L8,31.5 L6.2,41.4 L3.4,41.4 L2.6,31.1 L0,26 C-0.5,22 0,19 0.85,16.6 Z" fill="none" stroke="#111" stroke-width="0.5"/><path d="M36,5 L40.5,8.5 L38.4,10.2 L36.5,9.5 Z" fill="#111"/></g>
<path d="M759.6,985.0 Q758.3,971.5 753.0,958.0 M761.7,985.0 Q763.9,974.9 762.0,964.8 M763.8,985.0 Q763.4,973.1 759.0,961.2 M765.9,985.0 Q769.0,971.5 768.0,958.0 M768.0,985.0 Q768.5,974.9 765.0,964.8 M770.1,985.0 Q774.0,973.1 774.0,961.2 M772.2,985.0 Q773.6,971.5 771.0,958.0 M774.3,985.0 Q779.1,974.9 780.0,964.8 M776.4,985.0 Q778.7,973.1 777.0,961.2" stroke="#7ad650" stroke-width="2.2" fill="none" opacity="0.60" stroke-linecap="round"/>
<g transform="translate(788.0,944.0) scale(1.00)" fill="#2f7a2c"><path d="M14.6,34 L7.5,4" stroke="#2f7a2c" stroke-width="1.5" fill="none"/><path d="M7,0 Q10.5,3 9,8 Q5,8 5,4 Q5,1.5 7,0 Z"/><path d="M9.5,11 Q12,6 17,5.5 Q16.5,10 12,12 Z"/><path d="M9.5,15 Q5,11 0,12.5 Q3,17 9.5,16 Z"/><path d="M11.5,18.5 Q14,13 19.5,11.5 Q19,17 13,19.5 Z"/><path d="M13.5,26 Q16,21 21.5,19.5 Q21,25 15,27 Z"/></g>
<path d="M815.6,958.0 Q814.3,944.5 809.0,931.0 M817.7,958.0 Q819.9,947.9 818.0,937.8 M819.8,958.0 Q819.4,946.1 815.0,934.2 M821.9,958.0 Q825.0,944.5 824.0,931.0 M824.0,958.0 Q824.5,947.9 821.0,937.8 M826.1,958.0 Q830.0,946.1 830.0,934.2 M828.2,958.0 Q829.6,944.5 827.0,931.0 M830.3,958.0 Q835.1,947.9 836.0,937.8 M832.4,958.0 Q834.7,946.1 833.0,934.2" stroke="#7ad650" stroke-width="2.2" fill="none" opacity="0.60" stroke-linecap="round"/>
<path d="M1045.6,854.0 Q1044.3,840.5 1039.0,827.0 M1047.7,854.0 Q1049.8,843.9 1048.0,833.8 M1049.8,854.0 Q1049.4,842.1 1045.0,830.2 M1051.9,854.0 Q1055.0,840.5 1054.0,827.0 M1054.0,854.0 Q1054.5,843.9 1051.0,833.8 M1056.1,854.0 Q1060.0,842.1 1060.0,830.2 M1058.2,854.0 Q1059.6,840.5 1057.0,827.0 M1060.3,854.0 Q1065.2,843.9 1066.0,833.8 M1062.4,854.0 Q1064.7,842.1 1063.0,830.2" stroke="#7ad650" stroke-width="2.2" fill="none" opacity="0.60" stroke-linecap="round"/>
<g transform="translate(1008.3,823.5) scale(0.95)"><path d="M3,22 Q4,18 9,18 L13,17 L17,5 L16,2 L19,0 L22,2 L21,4 L18,8 L16,20 Q17,24 15,26 L17,37 L15,37 L13,27 L11,27 L10,37 L8,37 L8,27 L6,27 L4,37 L2,37 L3,27 Q1,24 3,22 Z" fill="#f3d25a"/></g>
<path d="M1078.2,752.3 L1082.5,766.5 C1083.8,766.5 1086.9,765.2 1090.2,766.8 C1093.5,768.4 1097.0,768.9 1102.6,776.1 C1108.2,783.3 1117.3,797.6 1123.8,810.0 C1130.4,822.4 1138.9,843.6 1141.9,850.3 C1140.3,847.1 1137.1,839.0 1132.3,831.2 C1127.5,823.4 1118.1,809.4 1113.2,803.6 C1108.3,797.8 1105.8,798.0 1103.2,796.5 C1100.6,795.0 1098.3,795.0 1097.3,794.7 L1097.3,794.7 L1099.4,808.3 L1064.0,789.2 L1078.2,752.3Z" fill="#e8720f" stroke="#3a2a1a" stroke-width="0.7" stroke-linejoin="round"/>
<path d="M1141.9,850.3 C1143.1,852.4 1146.8,855.9 1149.3,863.0 C1151.8,870.1 1155.5,882.4 1156.7,892.7 C1157.9,903.0 1157.9,914.7 1156.7,924.6 C1155.5,934.5 1153.7,944.5 1149.3,952.1 C1144.9,959.7 1133.4,967.2 1130.2,970.2 L1119.6,941.5 C1123.3,938.0 1137.3,927.0 1141.9,920.3 C1146.5,913.6 1146.3,909.3 1147.2,901.2 C1148.1,893.1 1148.1,880.0 1147.2,871.5 C1146.3,863.0 1142.8,853.8 1141.9,850.3Z" fill="#b95a0d" stroke="#3a2a1a" stroke-width="0.7" stroke-linejoin="round"/>
<rect x="567.6" y="829.1" width="78.2" height="5.2" fill="#000"/>
<polygon points="644.8,825.3 668.8,831.7 644.8,838.1" fill="#000"/>
<rect x="563.6" y="984.5" width="77.7" height="5.2" fill="#000"/>
<polygon points="640.3,980.7 664.3,987.1 640.3,993.5" fill="#000"/>
<polygon points="576.1,928.8 586.7,918.9 586.7,931.9 576.1,931.9" fill="#f0ad3a"/>
<rect x="590.2" y="904.5" width="10.6" height="27.4" fill="#f0ad3a"/>
<rect x="604.4" y="900.0" width="10.6" height="31.9" fill="#f0ad3a"/>
<rect x="618.8" y="903.5" width="10.6" height="28.4" fill="#f0ad3a"/>
<rect x="633.1" y="889.1" width="10.9" height="42.8" fill="#f0ad3a"/>
<polyline points="573.9,926 604.4,895.2 618.5,908.6 645,882" fill="none" stroke="#fff" stroke-width="7.5" stroke-linejoin="miter"/>
<polyline points="573.9,922.4 604.4,891.6 618.5,905 643.2,880.3" fill="none" stroke="#f0ad3a" stroke-width="4.3" stroke-linejoin="miter"/>
<polygon points="636.6,877.6 647.8,874.9 645,886.2" fill="#f0ad3a"/>
<text x="596.3" y="920.3" font-family="Liberation Sans, sans-serif" font-weight="bold" font-size="14" fill="#565c63" textLength="30.7" lengthAdjust="spacingAndGlyphs">CO2</text>
<text x="85.5" y="771.4" font-family="Liberation Serif, serif" font-size="28.5" fill="#000" textLength="14.3" lengthAdjust="spacingAndGlyphs" font-weight="bold">g</text>
<text x="659.6" y="771.1" font-family="Liberation Serif, serif" font-size="27.7" fill="#000" textLength="14.17" lengthAdjust="spacingAndGlyphs" font-weight="bold">h</text>
</svg></body></html>
